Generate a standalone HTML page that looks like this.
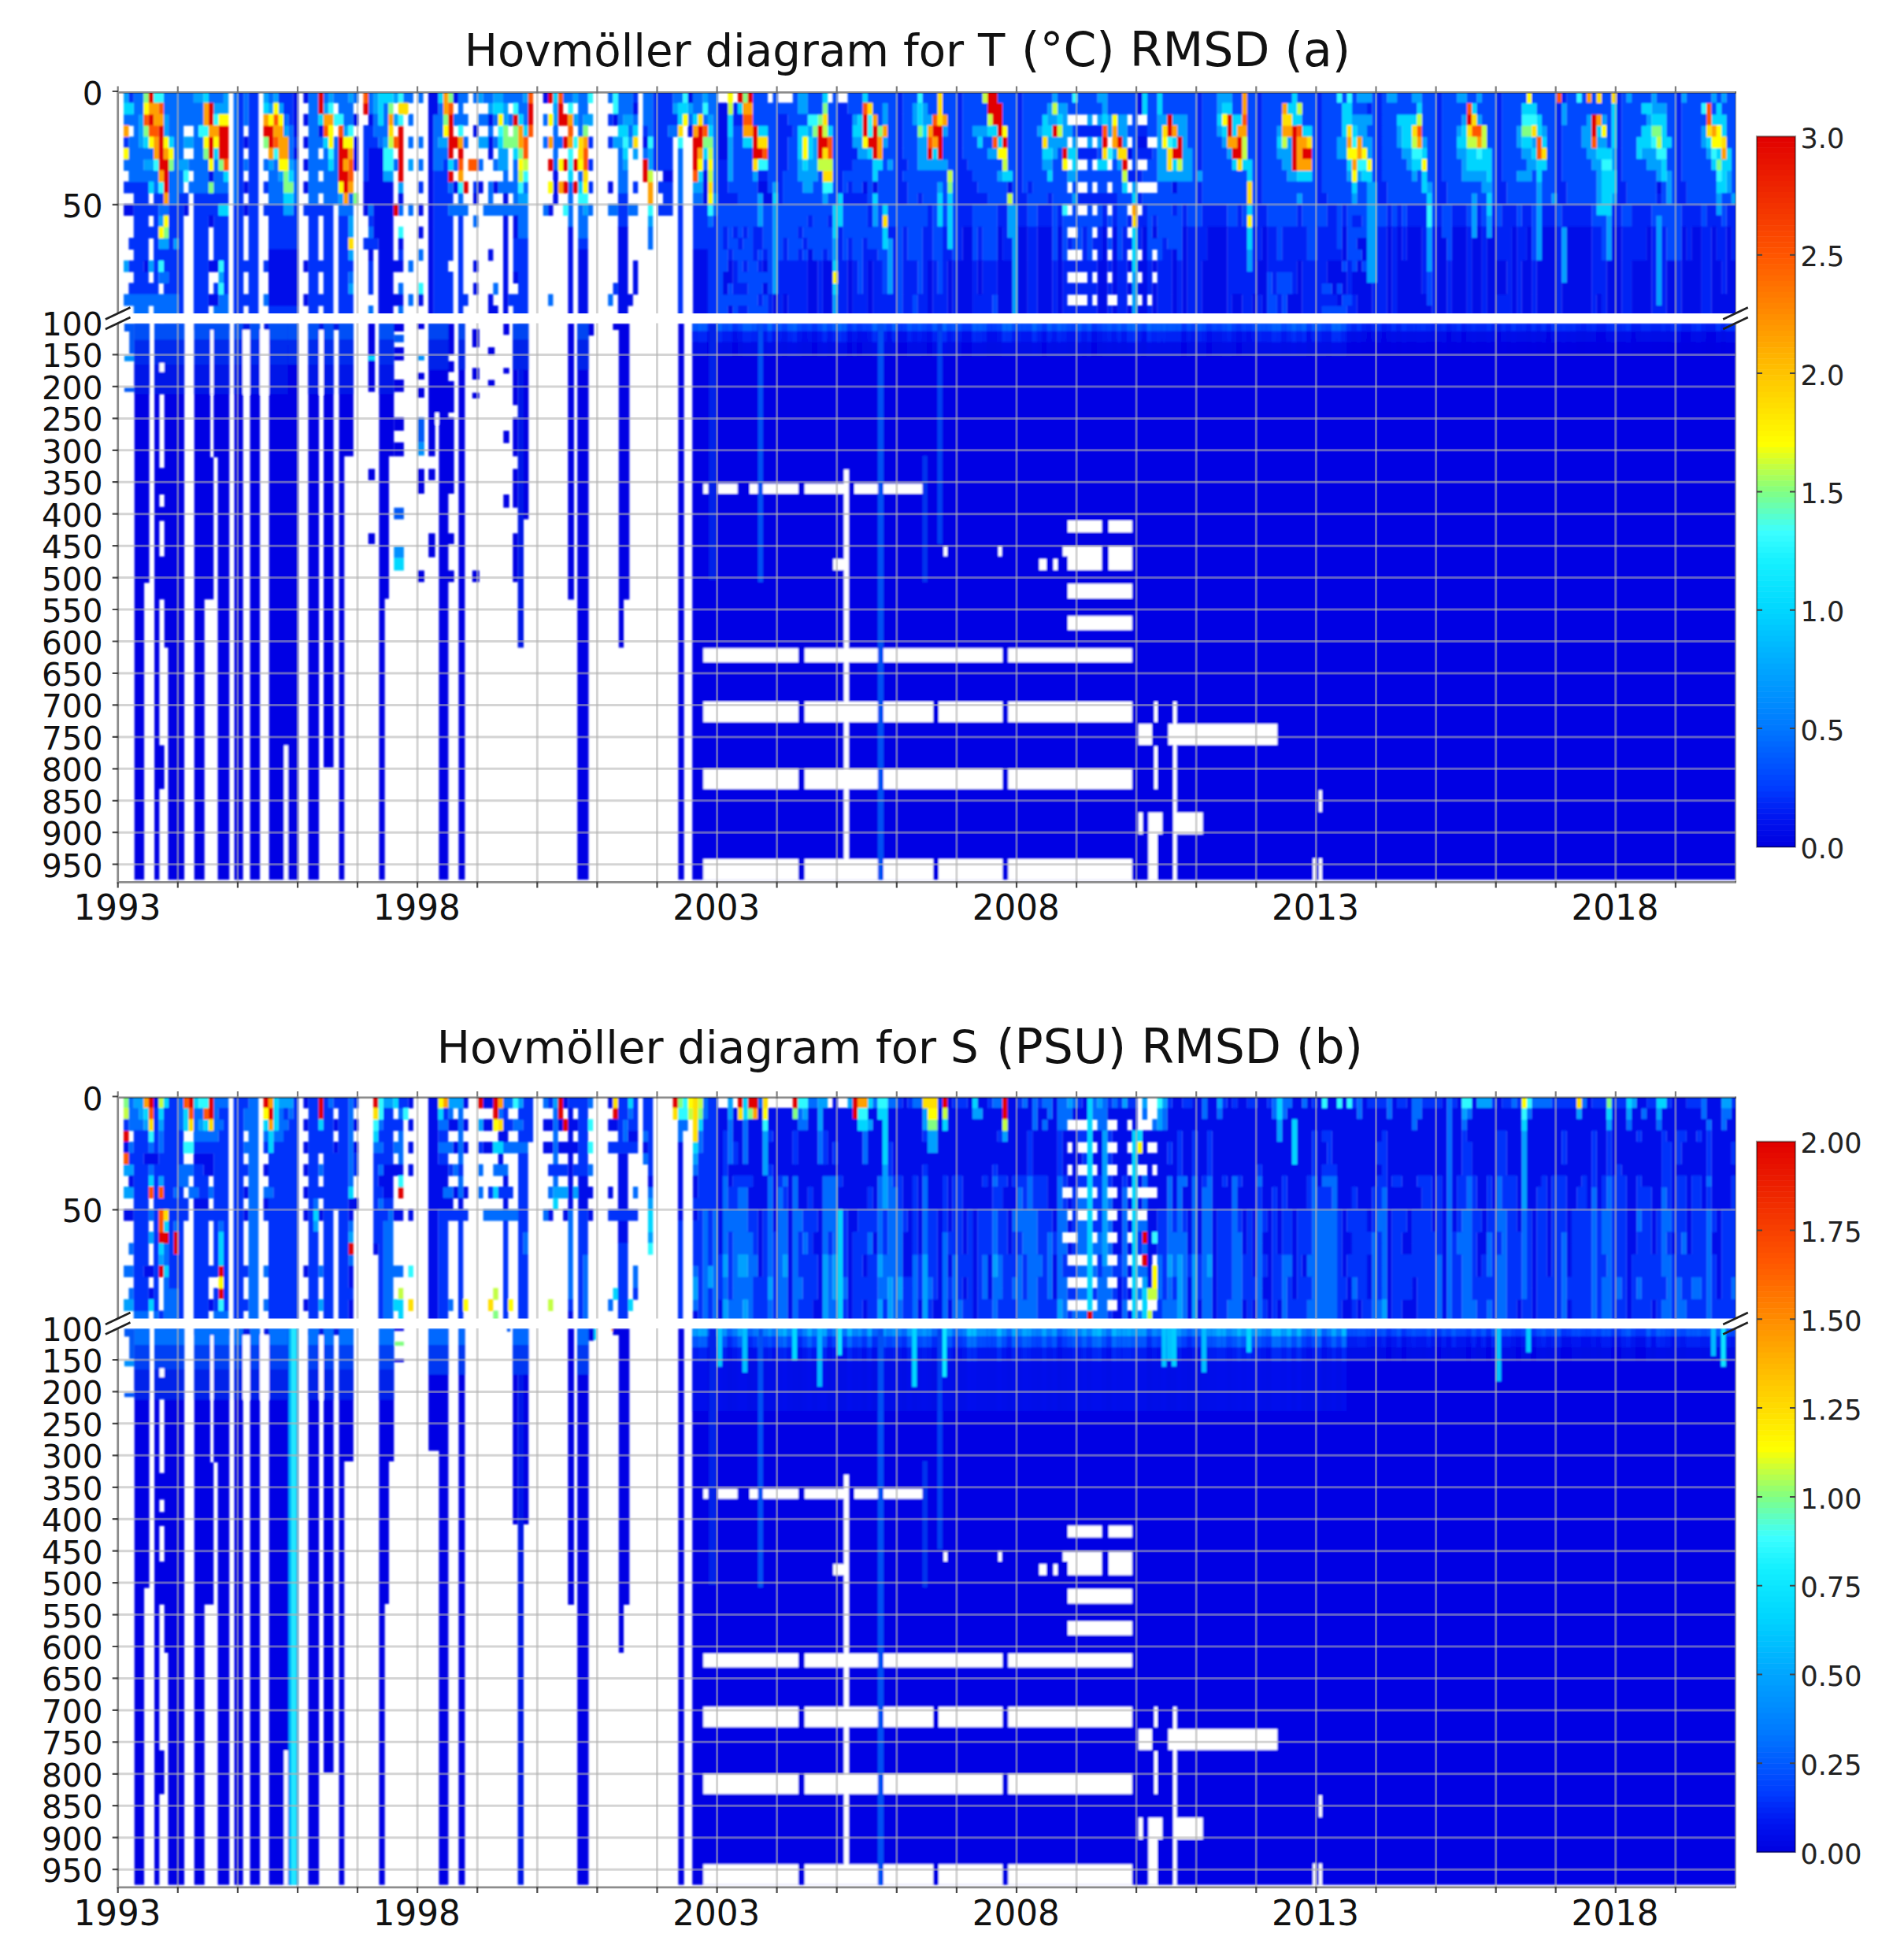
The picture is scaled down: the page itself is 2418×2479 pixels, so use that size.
<!DOCTYPE html><html><head><meta charset="utf-8"><title>Hovmöller diagrams</title>
<style>html,body{margin:0;padding:0;background:#fff}svg{display:block}</style></head><body>
<svg width="2418" height="2479" viewBox="0 0 2418 2479">
<rect width="2418" height="2479" fill="#fff"/>
<defs><filter id="bl" x="-2%" y="-2%" width="104%" height="104%"><feGaussianBlur stdDeviation="1.0"/></filter>
<clipPath id="ct0"><rect x="149.7" y="116" width="2054.3" height="282"/></clipPath>
<clipPath id="cl0"><rect x="149.7" y="410.5" width="2054.3" height="709.9"/></clipPath>
<clipPath id="ct1"><rect x="149.7" y="1392.5" width="2054.3" height="282"/></clipPath>
<clipPath id="cl1"><rect x="149.7" y="1687" width="2054.3" height="709.9"/></clipPath>
</defs>
<g clip-path="url(#ct0)"><g filter="url(#bl)">
<g transform="translate(157.10,116.50) scale(6.3410,14.300)" fill="none" stroke-width="1.04">
<path stroke="#00a0ff" d="M0 0.5h1M14 0.5h2M20 0.5h1M28 0.5h1M30 0.5h1M41 0.5h1M45 0.5h1M50 0.5h1M54 0.5h1M71 0.5h1M74 0.5h2M80 0.5h1M90 0.5h1M116 0.5h1M135 0.5h2M186 0.5h1M195 0.5h2M219 0.5h3M247 0.5h3M253 0.5h2M258 0.5h2M267 0.5h2M271 0.5h1M301 0.5h1M306 0.5h1M312 0.5h1M318 0.5h1M320 0.5h1M18 1.5h3M29 1.5h1M31 1.5h1M40 1.5h1M50 1.5h1M73 1.5h1M76 1.5h1M86 1.5h1M110 1.5h1M113 1.5h1M135 1.5h2M152 1.5h1M158 1.5h1M160 1.5h1M185 1.5h1M187 1.5h2M196 1.5h1M219 1.5h1M288 1.5h1M306 1.5h3M3 2.5h1M8 2.5h1M54 2.5h1M76 2.5h1M86 2.5h1M90 2.5h1M92 2.5h2M100 2.5h2M117 2.5h1M146 2.5h1M152 2.5h1M158 2.5h1M160 2.5h2M185 2.5h2M188 2.5h1M193 2.5h1M195 2.5h1M197 2.5h1M199 2.5h2M207 2.5h2M210 2.5h3M246 2.5h4M268 2.5h1M271 2.5h1M288 2.5h1M293 2.5h1M296 2.5h1M305 2.5h1M3 3.5h1M8 3.5h1M32 3.5h1M44 3.5h1M137 3.5h1M164 3.5h1M170 3.5h3M183 3.5h1M188 3.5h2M197 3.5h1M199 3.5h2M207 3.5h1M211 3.5h2M219 3.5h1M231 3.5h1M247 3.5h2M255 3.5h1M267 3.5h1M279 3.5h1M284 3.5h1M292 3.5h2M316 3.5h1M3 4.5h1M12 4.5h2M52 4.5h1M63 4.5h2M71 4.5h2M98 4.5h2M101 4.5h1M121 4.5h1M138 4.5h1M146 4.5h2M152 4.5h1M159 4.5h2M185 4.5h4M190 4.5h1M193 4.5h1M195 4.5h1M200 4.5h1M207 4.5h1M212 4.5h1M220 4.5h1M233 4.5h1M243 4.5h2M248 4.5h2M255 4.5h1M260 4.5h1M279 4.5h1M282 4.5h1M292 4.5h2M295 4.5h2M316 4.5h1M75 5.5h2M102 5.5h1M105 5.5h1M121 5.5h1M138 5.5h1M147 5.5h2M159 5.5h2M173 5.5h2M186 5.5h1M198 5.5h1M207 5.5h2M212 5.5h2M221 5.5h1M231 5.5h3M243 5.5h2M249 5.5h1M256 5.5h2M267 5.5h2M280 5.5h2M293 5.5h2M298 5.5h1M304 5.5h3M317 5.5h1M4 6.5h2M11 6.5h2M29 6.5h1M33 6.5h1M57 6.5h1M75 6.5h2M100 6.5h1M105 6.5h1M121 6.5h1M135 6.5h1M137 6.5h2M153 6.5h1M159 6.5h6M184 6.5h2M199 6.5h1M207 6.5h2M212 6.5h2M232 6.5h2M257 6.5h1M268 6.5h1M281 6.5h2M294 6.5h2M298 6.5h1M305 6.5h3M31 7.5h1M52 7.5h2M121 7.5h1M126 7.5h1M135 7.5h4M175 7.5h1M189 7.5h2M207 7.5h7M215 7.5h1M233 7.5h2M245 7.5h1M247 7.5h1M258 7.5h1M268 7.5h5M279 7.5h3M295 7.5h1M307 7.5h1M309 7.5h1M321 7.5h1M55 8.5h1M114 8.5h2M130 8.5h1M136 8.5h2M163 8.5h1M202 8.5h1M249 8.5h2M261 8.5h1M272 8.5h2M283 8.5h1M295 8.5h1M309 8.5h1M321 8.5h1M43 9.5h1M79 9.5h2M118 9.5h1M127 9.5h1M140 9.5h1M190 9.5h1M235 9.5h1M246 9.5h1M249 9.5h2M270 9.5h1M283 9.5h1M286 9.5h1M295 9.5h1M298 9.5h1M309 9.5h1M319 9.5h1M322 9.5h1M32 10.5h2M92 10.5h1M127 10.5h1M130 10.5h1M150 10.5h1M177 10.5h2M249 10.5h2M270 10.5h1M283 10.5h1M319 10.5h1M7 11.5h1M45 11.5h1M105 11.5h1M127 11.5h1M130 11.5h1M150 11.5h1M177 11.5h2M249 11.5h2M270 11.5h1M273 11.5h1M283 11.5h1M297 11.5h1M307 11.5h1M45 12.5h1M130 12.5h1M177 12.5h2M249 12.5h2M261 12.5h1M270 12.5h1M273 12.5h1M283 12.5h1M288 12.5h1M297 12.5h1M307 12.5h1M7 13.5h2M10 13.5h1M130 13.5h1M142 13.5h1M153 13.5h1M178 13.5h1M249 13.5h2M261 13.5h1M283 13.5h1M288 13.5h1M297 13.5h1M307 13.5h1M45 14.5h1M130 14.5h1M142 14.5h1M153 14.5h1M178 14.5h1M225 14.5h1M249 14.5h2M261 14.5h1M283 14.5h1M288 14.5h1M297 14.5h1M307 14.5h1M0 15.5h1M5 15.5h1M130 15.5h1M153 15.5h1M178 15.5h1M225 15.5h1M249 15.5h2M261 15.5h1M288 15.5h1M307 15.5h1M19 16.5h1M130 16.5h1M153 16.5h1M178 16.5h1M202 16.5h1M249 16.5h2M288 16.5h1M307 16.5h1M45 17.5h1M130 17.5h1M153 17.5h1M178 17.5h1M202 17.5h1M307 17.5h1M142 18.5h1M178 18.5h1M202 18.5h1M307 18.5h1M142 19.5h1M178 19.5h1M202 19.5h1"/>
<path stroke="#0030fa" d="M1 0.5h1M23 0.5h1M25 0.5h2M31 0.5h3M102 0.5h1M106 0.5h4M23 1.5h1M25 1.5h2M32 1.5h2M106 1.5h4M23 2.5h1M25 2.5h2M33 2.5h1M97 2.5h1M106 2.5h5M23 3.5h1M25 3.5h2M48 3.5h2M104 3.5h1M106 3.5h3M0 4.5h1M23 4.5h1M25 4.5h2M34 4.5h1M48 4.5h3M93 4.5h1M97 4.5h1M106 4.5h4M23 5.5h1M25 5.5h2M48 5.5h1M106 5.5h4M23 6.5h1M25 6.5h2M48 6.5h1M64 6.5h1M93 6.5h1M106 6.5h4M23 7.5h1M25 7.5h2M48 7.5h1M62 7.5h3M0 8.5h5M23 8.5h1M25 8.5h2M28 8.5h1M59 8.5h1M62 8.5h3M70 8.5h1M93 8.5h1M102 8.5h1M107 8.5h3M2 9.5h3M6 9.5h2M11 9.5h2M14 9.5h7M23 9.5h1M25 9.5h2M62 9.5h4M99 9.5h2M108 9.5h2M2 10.5h5M9 10.5h3M14 10.5h5M22 10.5h2M25 10.5h2M28 10.5h4M34 10.5h1M36 10.5h6M62 10.5h3M99 10.5h2M107 10.5h3M111 10.5h1M114 10.5h3M2 11.5h3M6 11.5h1M9 11.5h3M14 11.5h3M18 11.5h3M22 11.5h2M25 11.5h2M29 11.5h6M37 11.5h2M40 11.5h2M43 11.5h2M49 11.5h1M62 11.5h4M67 11.5h1M99 11.5h2M111 11.5h1M114 11.5h3M118 11.5h1M2 12.5h5M9 12.5h3M14 12.5h3M18 12.5h3M22 12.5h2M25 12.5h2M29 12.5h6M37 12.5h2M40 12.5h2M43 12.5h2M62 12.5h4M67 12.5h1M111 12.5h1M114 12.5h5M1 13.5h4M6 13.5h1M9 13.5h1M11 13.5h1M14 13.5h3M18 13.5h3M22 13.5h2M25 13.5h2M29 13.5h6M37 13.5h2M40 13.5h2M43 13.5h2M48 13.5h3M62 13.5h4M67 13.5h1M78 13.5h3M91 13.5h2M111 13.5h1M114 13.5h5M2 14.5h3M6 14.5h6M14 14.5h3M18 14.5h3M22 14.5h2M25 14.5h2M37 14.5h2M40 14.5h2M43 14.5h2M55 14.5h1M62 14.5h4M67 14.5h1M78 14.5h3M111 14.5h1M117 14.5h2M1 15.5h3M6 15.5h1M8 15.5h4M14 15.5h3M20 15.5h1M22 15.5h5M28 15.5h1M37 15.5h5M43 15.5h3M49 15.5h1M62 15.5h3M67 15.5h1M78 15.5h3M111 15.5h1M117 15.5h2M2 16.5h3M6 16.5h1M9 16.5h3M14 16.5h3M20 16.5h1M22 16.5h2M25 16.5h2M37 16.5h2M40 16.5h2M43 16.5h2M49 16.5h1M62 16.5h4M67 16.5h1M79 16.5h2M111 16.5h1M117 16.5h2M1 17.5h6M8 17.5h4M14 17.5h3M18 17.5h1M20 17.5h1M22 17.5h2M25 17.5h2M37 17.5h2M40 17.5h2M43 17.5h2M49 17.5h1M62 17.5h4M67 17.5h1M79 17.5h2M98 17.5h1M111 17.5h1M117 17.5h2M11 18.5h1M14 18.5h3M22 18.5h5M37 18.5h5M43 18.5h3M62 18.5h4M67 18.5h2M77 18.5h4M111 18.5h1M117 18.5h2M11 19.5h1M14 19.5h3M22 19.5h2M25 19.5h2M29 19.5h6M37 19.5h2M40 19.5h2M43 19.5h3M62 19.5h4M67 19.5h1M78 19.5h3M111 19.5h1M117 19.5h2"/>
<path stroke="#006cff" d="M2 0.5h2M8 0.5h6M17 0.5h3M22 0.5h1M24 0.5h1M29 0.5h1M37 0.5h2M40 0.5h1M42 0.5h3M46 0.5h1M49 0.5h1M56 0.5h2M59 0.5h1M67 0.5h2M70 0.5h1M72 0.5h2M76 0.5h4M88 0.5h2M91 0.5h2M97 0.5h1M99 0.5h3M104 0.5h2M110 0.5h2M114 0.5h2M117 0.5h2M2 1.5h2M8 1.5h8M22 1.5h1M24 1.5h1M37 1.5h2M43 1.5h3M49 1.5h1M52 1.5h1M63 1.5h1M67 1.5h1M79 1.5h2M91 1.5h2M99 1.5h3M104 1.5h2M114 1.5h2M117 1.5h2M0 2.5h3M9 2.5h7M22 2.5h1M24 2.5h1M32 2.5h1M37 2.5h2M44 2.5h2M50 2.5h1M52 2.5h1M57 2.5h1M62 2.5h2M66 2.5h3M71 2.5h2M74 2.5h1M77 2.5h1M80 2.5h1M84 2.5h1M91 2.5h1M99 2.5h1M102 2.5h1M104 2.5h2M113 2.5h1M116 2.5h1M118 2.5h1M2 3.5h1M9 3.5h3M14 3.5h1M22 3.5h1M33 3.5h1M37 3.5h2M50 3.5h3M62 3.5h2M73 3.5h1M86 3.5h1M91 3.5h1M101 3.5h1M105 3.5h1M109 3.5h2M118 3.5h1M1 4.5h2M10 4.5h2M14 4.5h2M22 4.5h1M33 4.5h1M37 4.5h3M42 4.5h1M51 4.5h1M57 4.5h1M59 4.5h1M62 4.5h1M68 4.5h1M74 4.5h1M84 4.5h1M86 4.5h2M118 4.5h1M1 5.5h5M10 5.5h2M14 5.5h2M22 5.5h1M33 5.5h1M37 5.5h2M40 5.5h1M42 5.5h1M62 5.5h3M86 5.5h1M99 5.5h1M104 5.5h1M111 5.5h1M118 5.5h1M0 6.5h4M10 6.5h1M13 6.5h4M18 6.5h1M22 6.5h1M24 6.5h1M28 6.5h1M30 6.5h1M34 6.5h1M37 6.5h4M42 6.5h1M54 6.5h1M59 6.5h1M62 6.5h2M66 6.5h1M71 6.5h1M74 6.5h1M78 6.5h1M86 6.5h1M99 6.5h1M111 6.5h1M116 6.5h1M118 6.5h1M1 7.5h6M9 7.5h3M14 7.5h3M18 7.5h2M22 7.5h1M29 7.5h2M34 7.5h1M37 7.5h2M40 7.5h3M76 7.5h1M78 7.5h1M91 7.5h1M99 7.5h2M111 7.5h1M118 7.5h1M6 8.5h1M9 8.5h3M13 8.5h4M18 8.5h3M22 8.5h1M29 8.5h3M34 8.5h1M37 8.5h6M65 8.5h1M73 8.5h1M75 8.5h4M80 8.5h1M89 8.5h1M99 8.5h2M111 8.5h1M118 8.5h1M9 9.5h2M22 9.5h1M29 9.5h3M34 9.5h1M37 9.5h2M40 9.5h3M45 9.5h1M67 9.5h1M73 9.5h1M78 9.5h1M89 9.5h1M111 9.5h1M114 9.5h2M7 10.5h2M43 10.5h3M49 10.5h1M55 10.5h1M57 10.5h1M65 10.5h4M72 10.5h9M84 10.5h1M89 10.5h1M91 10.5h1M93 10.5h1M97 10.5h2M101 10.5h2M118 10.5h1M70 11.5h1M79 11.5h2M89 11.5h1M91 11.5h2M117 11.5h1M49 12.5h1M79 12.5h2M91 12.5h2M105 12.5h1M105 13.5h1M59 14.5h1M57 15.5h1M7 16.5h2M45 16.5h1M55 17.5h1M74 17.5h1M0 18.5h11M19 18.5h2M28 18.5h1M57 18.5h1M85 18.5h1M97 18.5h1M2 19.5h3M6 19.5h5M18 19.5h3M49 19.5h1M55 19.5h1"/>
<path stroke="#82ff82" d="M4 0.5h1M65 0.5h1M124 0.5h1M53 1.5h1M140 1.5h1M64 2.5h1M139 2.5h1M4 3.5h1M76 3.5h1M78 3.5h1M92 3.5h1M138 3.5h1M151 3.5h1M159 3.5h1M280 3.5h2M306 3.5h2M28 4.5h1M76 4.5h3M116 4.5h2M16 5.5h1M79 5.5h1M9 6.5h1M19 6.5h1M319 6.5h1M32 7.5h1M17 8.5h1M32 8.5h2M165 8.5h1M46 9.5h1M8 12.5h1"/>
<path stroke="#e10000" d="M5 0.5h1M39 0.5h1M85 0.5h1M123 0.5h1M125 0.5h1M173 0.5h2M17 1.5h1M39 1.5h1M48 1.5h1M81 1.5h1M87 1.5h1M173 1.5h3M5 2.5h1M17 2.5h1M65 2.5h1M78 2.5h1M81 2.5h1M87 2.5h2M148 2.5h1M174 2.5h2M209 2.5h1M221 2.5h1M269 2.5h1M294 2.5h1M7 3.5h1M19 3.5h2M28 3.5h2M55 3.5h1M65 3.5h1M115 3.5h1M126 3.5h1M139 3.5h1M148 3.5h1M150 3.5h1M162 3.5h2M175 3.5h1M186 3.5h1M209 3.5h1M221 3.5h1M234 3.5h1M294 3.5h1M7 4.5h1M17 4.5h1M19 4.5h2M29 4.5h1M43 4.5h1M55 4.5h1M65 4.5h2M88 4.5h1M114 4.5h2M126 4.5h1M139 4.5h2M149 4.5h2M163 4.5h1M176 4.5h1M196 4.5h1M199 4.5h1M211 4.5h1M223 4.5h1M234 4.5h1M7 5.5h1M17 5.5h1M19 5.5h2M43 5.5h2M55 5.5h1M65 5.5h1M67 5.5h1M114 5.5h1M126 5.5h2M139 5.5h1M150 5.5h1M161 5.5h1M163 5.5h1M188 5.5h1M210 5.5h2M222 5.5h2M234 5.5h1M236 5.5h2M7 6.5h2M43 6.5h1M55 6.5h1M85 6.5h1M88 6.5h1M90 6.5h1M104 6.5h1M114 6.5h1M200 6.5h1M234 6.5h1M8 7.5h1M43 7.5h2M55 7.5h1M65 7.5h1M104 7.5h1M8 8.5h1M44 8.5h1M68 8.5h1M88 8.5h1M90 8.5h1M54 10.5h1"/>
<path stroke="#2ffaff" d="M6 0.5h2M55 0.5h1M93 0.5h1M98 0.5h1M112 0.5h1M159 0.5h1M190 0.5h1M243 0.5h1M245 0.5h1M291 0.5h1M41 1.5h1M78 1.5h1M89 1.5h1M98 1.5h1M116 1.5h1M316 1.5h1M18 2.5h1M42 2.5h2M55 2.5h1M137 2.5h2M149 2.5h1M280 2.5h3M15 3.5h2M45 3.5h1M67 3.5h1M75 3.5h1M149 3.5h1M90 4.5h1M100 4.5h1M105 4.5h1M111 4.5h1M209 4.5h1M246 4.5h1M306 4.5h1M30 5.5h1M41 5.5h1M52 5.5h2M89 5.5h1M197 5.5h1M258 5.5h2M271 5.5h1M307 5.5h2M318 5.5h1M6 6.5h1M52 6.5h2M89 6.5h1M127 6.5h2M247 6.5h2M296 6.5h2M12 7.5h1M80 7.5h1M319 7.5h1M7 8.5h1M67 8.5h1M79 8.5h1M140 8.5h2M91 9.5h2M88 10.5h1M105 10.5h1M117 10.5h1M188 10.5h1M261 10.5h1M261 11.5h1M55 12.5h1M7 15.5h1M19 15.5h1M19 17.5h1M59 17.5h1"/>
<path stroke="#00d5ff" d="M16 0.5h1M51 0.5h3M63 0.5h1M86 0.5h1M140 0.5h1M148 0.5h1M204 0.5h1M207 0.5h1M234 0.5h1M0 1.5h2M28 1.5h1M51 1.5h1M74 1.5h2M111 1.5h2M123 1.5h1M159 1.5h1M204 1.5h1M207 1.5h1M220 1.5h2M233 1.5h2M244 1.5h2M259 1.5h1M270 1.5h1M280 1.5h3M298 1.5h1M304 1.5h2M319 1.5h1M39 2.5h1M51 2.5h1M79 2.5h1M111 2.5h1M114 2.5h1M121 2.5h1M147 2.5h1M159 2.5h1M184 2.5h1M187 2.5h1M196 2.5h1M219 2.5h1M222 2.5h2M234 2.5h2M244 2.5h2M255 2.5h4M283 2.5h1M298 2.5h1M306 2.5h3M318 2.5h3M80 3.5h1M99 3.5h2M102 3.5h1M117 3.5h1M121 3.5h1M127 3.5h2M135 3.5h2M141 3.5h1M146 3.5h2M160 3.5h1M173 3.5h2M184 3.5h2M220 3.5h1M222 3.5h1M236 3.5h2M244 3.5h1M246 3.5h1M256 3.5h2M268 3.5h1M283 3.5h1M295 3.5h1M298 3.5h1M304 3.5h2M308 3.5h1M320 3.5h1M4 4.5h1M9 4.5h1M40 4.5h1M75 4.5h1M124 4.5h2M135 4.5h1M137 4.5h1M171 4.5h1M175 4.5h1M210 4.5h1M231 4.5h1M256 4.5h2M267 4.5h2M280 4.5h2M284 4.5h1M298 4.5h1M303 4.5h3M308 4.5h2M317 4.5h1M18 5.5h1M78 5.5h1M100 5.5h1M116 5.5h1M135 5.5h1M137 5.5h1M149 5.5h1M162 5.5h1M184 5.5h2M189 5.5h2M260 5.5h1M269 5.5h2M272 5.5h2M282 5.5h1M295 5.5h3M303 5.5h1M319 5.5h1M321 5.5h1M41 6.5h1M65 6.5h1M136 6.5h1M150 6.5h2M190 6.5h1M195 6.5h2M210 6.5h1M222 6.5h1M224 6.5h2M245 6.5h1M258 6.5h2M269 6.5h5M283 6.5h2M308 6.5h1M318 6.5h1M320 6.5h2M20 7.5h1M33 7.5h1M89 7.5h1M115 7.5h1M150 7.5h1M176 7.5h2M185 7.5h1M225 7.5h1M235 7.5h3M248 7.5h2M260 7.5h1M273 7.5h1M283 7.5h1M296 7.5h3M308 7.5h1M320 7.5h1M5 8.5h1M91 8.5h1M200 8.5h1M246 8.5h1M260 8.5h1M296 8.5h3M319 8.5h2M32 9.5h2M130 9.5h1M143 9.5h1M150 9.5h1M163 9.5h1M165 9.5h1M202 9.5h1M261 9.5h1M273 9.5h1M296 9.5h2M19 10.5h2M142 10.5h2M152 10.5h1M163 10.5h1M165 10.5h1M225 10.5h1M273 10.5h1M295 10.5h3M142 11.5h2M163 11.5h1M165 11.5h1M142 12.5h1M152 12.5h1M165 12.5h1M202 12.5h1M225 12.5h1M152 13.5h1M165 13.5h1M202 13.5h1M225 13.5h1M202 14.5h1M142 15.5h1M202 15.5h1M142 17.5h1"/>
<path stroke="#000cea" d="M34 0.5h1M36 0.5h1M61 0.5h2M66 0.5h1M84 0.5h1M113 0.5h1M34 1.5h1M61 1.5h2M102 1.5h1M34 2.5h1M36 2.5h1M46 2.5h1M49 2.5h1M61 2.5h1M73 2.5h1M98 2.5h1M34 3.5h1M39 3.5h1M61 3.5h1M70 3.5h1M113 3.5h1M24 4.5h1M36 4.5h1M46 4.5h1M61 4.5h1M73 4.5h1M104 4.5h1M34 5.5h1M46 5.5h1M49 5.5h3M61 5.5h1M73 5.5h1M36 6.5h1M46 6.5h1M49 6.5h3M61 6.5h1M17 7.5h1M49 7.5h3M61 7.5h1M86 7.5h1M108 7.5h2M116 7.5h1M24 8.5h1M36 8.5h1M48 8.5h6M61 8.5h1M66 8.5h1M71 8.5h1M74 8.5h1M86 8.5h1M97 8.5h1M116 8.5h1M48 9.5h6M55 9.5h1M61 9.5h1M70 9.5h1M76 9.5h1M86 9.5h1M116 9.5h1M0 10.5h2M12 10.5h1M24 10.5h1M48 10.5h1M50 10.5h4M59 10.5h1M61 10.5h1M85 10.5h1M17 11.5h1M50 11.5h4M61 11.5h1M76 11.5h1M78 11.5h1M50 12.5h4M59 12.5h1M61 12.5h1M76 12.5h1M78 12.5h1M89 12.5h1M99 12.5h2M51 13.5h3M55 13.5h1M61 13.5h1M76 13.5h1M89 13.5h1M99 13.5h2M29 14.5h6M49 14.5h1M51 14.5h3M61 14.5h1M73 14.5h1M76 14.5h1M89 14.5h1M91 14.5h2M99 14.5h2M114 14.5h3M4 15.5h1M17 15.5h2M29 15.5h6M36 15.5h1M51 15.5h5M61 15.5h1M70 15.5h1M76 15.5h1M89 15.5h1M91 15.5h2M99 15.5h2M102 15.5h1M114 15.5h3M29 16.5h6M51 16.5h3M61 16.5h1M76 16.5h1M78 16.5h1M89 16.5h1M91 16.5h2M99 16.5h2M102 16.5h1M114 16.5h3M29 17.5h6M51 17.5h3M61 17.5h1M70 17.5h1M76 17.5h1M89 17.5h1M91 17.5h2M99 17.5h2M102 17.5h1M114 17.5h3M17 18.5h2M29 18.5h6M36 18.5h1M51 18.5h5M59 18.5h1M61 18.5h1M73 18.5h1M76 18.5h1M89 18.5h1M91 18.5h2M99 18.5h3M114 18.5h3M51 19.5h3M61 19.5h1M73 19.5h2M76 19.5h1M89 19.5h1M91 19.5h2M99 19.5h2M114 19.5h3"/>
<path stroke="#ff5700" d="M48 0.5h1M81 0.5h1M87 0.5h1M287 0.5h1M7 1.5h1M65 1.5h1M148 1.5h1M269 1.5h1M317 1.5h1M4 2.5h1M30 2.5h1M124 2.5h2M162 2.5h1M224 2.5h1M317 2.5h1M5 3.5h2M40 3.5h1M43 3.5h1M81 3.5h1M89 3.5h1M116 3.5h1M196 3.5h1M235 3.5h1M259 3.5h1M270 3.5h2M30 4.5h1M54 4.5h1M80 4.5h1M141 4.5h1M161 4.5h1M174 4.5h1M283 4.5h1M294 4.5h1M80 5.5h1M92 5.5h1M128 5.5h1M141 5.5h1M283 5.5h1M20 6.5h1M45 6.5h1M67 6.5h1M69 6.5h2M92 6.5h1M45 7.5h1M114 7.5h1"/>
<path stroke="#ffa000" d="M64 0.5h1M224 0.5h1M293 0.5h1M5 1.5h2M16 1.5h1M64 1.5h1M124 1.5h2M224 1.5h1M232 1.5h1M6 2.5h2M16 2.5h1M28 2.5h1M40 2.5h2M53 2.5h1M89 2.5h1M150 2.5h1M164 2.5h1M295 2.5h1M0 3.5h1M17 3.5h2M30 3.5h2M79 3.5h1M114 3.5h1M124 3.5h2M152 3.5h1M161 3.5h1M198 3.5h1M210 3.5h1M223 3.5h2M232 3.5h2M318 3.5h1M6 4.5h1M31 4.5h2M67 4.5h1M79 4.5h1M85 4.5h1M89 4.5h1M92 4.5h1M151 4.5h1M162 4.5h1M198 4.5h1M221 4.5h2M235 4.5h2M245 4.5h1M247 4.5h1M259 4.5h1M271 4.5h1M6 5.5h1M8 5.5h1M29 5.5h1M31 5.5h2M45 5.5h1M115 5.5h1M151 5.5h1M235 5.5h1M247 5.5h1M320 5.5h1M44 6.5h1M235 6.5h3M246 6.5h1M7 7.5h1M67 7.5h1M45 8.5h1M87 8.5h1M105 8.5h1M8 9.5h1M44 9.5h1M105 9.5h1M202 10.5h1"/>
<path stroke="#ffff00" d="M121 0.5h1M281 0.5h1M4 1.5h1M30 1.5h1M19 2.5h2M29 2.5h1M31 2.5h1M75 2.5h1M85 2.5h1M112 2.5h1M198 2.5h1M220 2.5h1M41 3.5h1M64 3.5h1M176 3.5h1M296 3.5h1M319 3.5h1M5 4.5h1M8 4.5h1M16 4.5h1M18 4.5h1M41 4.5h1M44 4.5h2M136 4.5h1M148 4.5h1M208 4.5h1M318 4.5h2M0 5.5h1M9 5.5h1M136 5.5h1M175 5.5h2M245 5.5h2M248 5.5h1M17 6.5h1M31 6.5h2M79 6.5h1M87 6.5h1M91 6.5h1M115 6.5h1M117 6.5h1M188 6.5h1M249 6.5h1M260 6.5h1M246 7.5h1M43 8.5h1M85 8.5h1M92 8.5h1M117 9.5h1M8 11.5h1M225 11.5h1M7 12.5h1M142 16.5h1"/>
<path stroke="#0048ff" d="M126 0.5h3M130 0.5h1M134 0.5h1M137 0.5h3M142 0.5h1M145 0.5h3M149 0.5h6M156 0.5h3M160 0.5h3M164 0.5h3M168 0.5h4M175 0.5h4M180 0.5h6M187 0.5h3M191 0.5h4M197 0.5h6M205 0.5h2M208 0.5h7M216 0.5h3M222 0.5h2M225 0.5h2M228 0.5h6M235 0.5h4M240 0.5h3M244 0.5h1M246 0.5h1M250 0.5h1M252 0.5h1M255 0.5h3M260 0.5h3M264 0.5h3M269 0.5h2M272 0.5h3M276 0.5h5M282 0.5h5M289 0.5h2M292 0.5h1M294 0.5h1M296 0.5h2M300 0.5h1M302 0.5h4M307 0.5h4M313 0.5h5M319 0.5h1M321 0.5h2M126 1.5h9M137 1.5h3M141 1.5h2M145 1.5h3M150 1.5h2M153 1.5h2M156 1.5h2M161 1.5h2M164 1.5h3M168 1.5h5M176 1.5h3M180 1.5h5M189 1.5h7M197 1.5h6M205 1.5h2M208 1.5h7M216 1.5h3M222 1.5h2M225 1.5h2M228 1.5h4M236 1.5h3M240 1.5h4M246 1.5h3M250 1.5h1M252 1.5h7M260 1.5h3M264 1.5h5M271 1.5h4M276 1.5h4M283 1.5h4M289 1.5h9M300 1.5h4M309 1.5h2M312 1.5h4M318 1.5h1M320 1.5h3M126 2.5h5M133 2.5h4M141 2.5h2M151 2.5h1M153 2.5h2M156 2.5h2M165 2.5h2M168 2.5h5M176 2.5h3M180 2.5h4M202 2.5h1M205 2.5h2M213 2.5h2M216 2.5h3M225 2.5h2M228 2.5h4M236 2.5h3M240 2.5h4M250 2.5h1M252 2.5h3M260 2.5h3M264 2.5h4M272 2.5h3M276 2.5h4M284 2.5h3M289 2.5h4M297 2.5h1M300 2.5h5M309 2.5h2M312 2.5h5M321 2.5h2M122 3.5h2M129 3.5h2M134 3.5h1M142 3.5h1M153 3.5h2M156 3.5h3M165 3.5h2M168 3.5h2M177 3.5h2M180 3.5h3M190 3.5h1M201 3.5h2M205 3.5h2M213 3.5h2M216 3.5h3M225 3.5h2M228 3.5h3M238 3.5h1M240 3.5h4M249 3.5h2M252 3.5h3M260 3.5h3M264 3.5h3M273 3.5h2M276 3.5h3M285 3.5h2M288 3.5h4M297 3.5h1M300 3.5h4M309 3.5h2M312 3.5h4M321 3.5h2M122 4.5h2M129 4.5h2M133 4.5h2M142 4.5h1M153 4.5h2M156 4.5h3M164 4.5h3M168 4.5h3M172 4.5h2M177 4.5h2M180 4.5h4M202 4.5h1M213 4.5h2M216 4.5h4M225 4.5h2M228 4.5h3M238 4.5h1M240 4.5h3M250 4.5h1M252 4.5h3M261 4.5h2M264 4.5h3M273 4.5h2M276 4.5h3M285 4.5h2M288 4.5h4M297 4.5h1M300 4.5h3M310 4.5h1M312 4.5h4M321 4.5h2M122 5.5h4M129 5.5h2M133 5.5h2M142 5.5h1M152 5.5h3M156 5.5h3M164 5.5h3M168 5.5h5M177 5.5h2M180 5.5h4M187 5.5h1M195 5.5h1M202 5.5h1M206 5.5h1M214 5.5h1M216 5.5h5M225 5.5h2M228 5.5h3M238 5.5h1M240 5.5h3M250 5.5h1M252 5.5h4M261 5.5h2M264 5.5h3M274 5.5h1M276 5.5h4M285 5.5h2M288 5.5h5M300 5.5h3M309 5.5h2M312 5.5h5M322 5.5h1M122 6.5h4M129 6.5h2M133 6.5h2M142 6.5h1M146 6.5h4M152 6.5h1M154 6.5h1M157 6.5h2M165 6.5h2M169 6.5h7M177 6.5h2M180 6.5h4M186 6.5h2M193 6.5h1M198 6.5h1M202 6.5h1M205 6.5h2M214 6.5h1M216 6.5h6M226 6.5h1M228 6.5h4M238 6.5h1M240 6.5h5M250 6.5h1M252 6.5h5M261 6.5h2M264 6.5h4M274 6.5h1M276 6.5h5M285 6.5h2M288 6.5h6M300 6.5h5M309 6.5h2M312 6.5h6M322 6.5h1M122 7.5h4M129 7.5h2M132 7.5h3M139 7.5h1M142 7.5h1M144 7.5h6M151 7.5h4M156 7.5h9M166 7.5h1M170 7.5h5M178 7.5h1M180 7.5h5M186 7.5h3M191 7.5h9M204 7.5h3M214 7.5h1M216 7.5h9M226 7.5h1M228 7.5h5M238 7.5h1M240 7.5h5M250 7.5h1M252 7.5h6M259 7.5h1M261 7.5h2M264 7.5h4M274 7.5h1M276 7.5h3M282 7.5h1M284 7.5h3M288 7.5h7M300 7.5h7M310 7.5h1M312 7.5h7M322 7.5h1M121 8.5h6M129 8.5h1M132 8.5h4M138 8.5h2M142 8.5h1M144 8.5h1M146 8.5h2M149 8.5h1M151 8.5h4M157 8.5h6M164 8.5h1M166 8.5h1M171 8.5h6M178 8.5h1M180 8.5h1M182 8.5h7M190 8.5h1M193 8.5h1M195 8.5h2M198 8.5h2M207 8.5h3M211 8.5h4M216 8.5h9M226 8.5h1M228 8.5h11M240 8.5h6M247 8.5h2M253 8.5h7M262 8.5h1M265 8.5h7M274 8.5h1M277 8.5h6M284 8.5h3M289 8.5h6M301 8.5h6M308 8.5h1M310 8.5h1M313 8.5h6M322 8.5h1M123 9.5h4M132 9.5h8M141 9.5h2M149 9.5h1M151 9.5h4M157 9.5h2M160 9.5h3M164 9.5h1M166 9.5h1M173 9.5h4M178 9.5h1M181 9.5h4M186 9.5h4M199 9.5h3M204 9.5h11M216 9.5h9M226 9.5h1M228 9.5h7M236 9.5h3M241 9.5h5M247 9.5h2M253 9.5h8M262 9.5h1M265 9.5h5M271 9.5h2M274 9.5h1M277 9.5h6M284 9.5h2M289 9.5h6M301 9.5h6M308 9.5h1M310 9.5h1M313 9.5h6M320 9.5h2M119 10.5h8M128 10.5h2M131 10.5h11M144 10.5h5M151 10.5h1M153 10.5h8M162 10.5h1M164 10.5h1M166 10.5h1M170 10.5h5M181 10.5h2M186 10.5h1M190 10.5h1M193 10.5h1M195 10.5h1M199 10.5h2M205 10.5h5M211 10.5h1M213 10.5h3M221 10.5h2M224 10.5h1M226 10.5h1M229 10.5h6M236 10.5h5M243 10.5h1M245 10.5h4M251 10.5h2M254 10.5h1M256 10.5h1M262 10.5h1M264 10.5h2M269 10.5h1M272 10.5h1M275 10.5h1M279 10.5h1M282 10.5h1M287 10.5h1M294 10.5h1M300 10.5h2M306 10.5h6M316 10.5h1M320 10.5h1M119 11.5h8M128 11.5h2M131 11.5h6M138 11.5h3M144 11.5h5M151 11.5h1M153 11.5h8M162 11.5h1M164 11.5h1M166 11.5h1M170 11.5h5M181 11.5h2M186 11.5h1M188 11.5h8M197 11.5h1M199 11.5h2M205 11.5h1M207 11.5h5M213 11.5h3M221 11.5h2M224 11.5h1M226 11.5h1M229 11.5h6M236 11.5h5M243 11.5h1M245 11.5h1M248 11.5h1M251 11.5h2M254 11.5h1M256 11.5h1M262 11.5h1M264 11.5h2M269 11.5h1M272 11.5h1M275 11.5h1M279 11.5h1M282 11.5h1M287 11.5h1M294 11.5h3M300 11.5h2M306 11.5h1M308 11.5h4M316 11.5h1M320 11.5h1M119 12.5h1M121 12.5h1M123 12.5h1M125 12.5h1M128 12.5h2M131 12.5h4M136 12.5h6M144 12.5h8M155 12.5h1M157 12.5h3M162 12.5h2M166 12.5h1M170 12.5h1M172 12.5h3M186 12.5h1M188 12.5h1M191 12.5h1M193 12.5h1M199 12.5h1M205 12.5h1M207 12.5h5M231 12.5h1M237 12.5h2M243 12.5h1M245 12.5h4M264 12.5h2M282 12.5h1M296 12.5h1M309 12.5h3M119 13.5h1M121 13.5h2M124 13.5h2M128 13.5h2M131 13.5h1M133 13.5h3M137 13.5h5M144 13.5h1M146 13.5h2M149 13.5h3M155 13.5h1M157 13.5h3M162 13.5h2M166 13.5h1M170 13.5h1M172 13.5h3M186 13.5h1M188 13.5h1M190 13.5h2M193 13.5h1M197 13.5h1M199 13.5h1M205 13.5h3M209 13.5h3M231 13.5h1M237 13.5h2M243 13.5h1M245 13.5h2M265 13.5h1M282 13.5h1M296 13.5h1M309 13.5h3M119 14.5h2M122 14.5h4M127 14.5h1M129 14.5h1M131 14.5h1M133 14.5h2M136 14.5h1M138 14.5h2M141 14.5h1M144 14.5h1M146 14.5h2M151 14.5h2M155 14.5h1M157 14.5h3M162 14.5h2M166 14.5h1M170 14.5h1M172 14.5h3M186 14.5h1M188 14.5h1M193 14.5h1M199 14.5h1M205 14.5h1M207 14.5h1M211 14.5h1M231 14.5h1M237 14.5h2M245 14.5h3M265 14.5h1M282 14.5h1M296 14.5h1M309 14.5h3M119 15.5h2M123 15.5h1M125 15.5h2M129 15.5h1M147 15.5h1M152 15.5h1M155 15.5h1M159 15.5h1M163 15.5h1M244 15.5h1M246 15.5h1M248 15.5h1M119 16.5h1M123 16.5h7M147 16.5h1M152 16.5h1M155 16.5h1M159 16.5h1M163 16.5h1M229 16.5h1M231 16.5h3M261 16.5h1M119 17.5h1M121 17.5h1M125 17.5h3M129 17.5h1M147 17.5h1M152 17.5h1M155 17.5h1M159 17.5h1M163 17.5h1M229 17.5h1M231 17.5h3M240 17.5h2M243 17.5h1M261 17.5h1M119 18.5h8M128 18.5h1M155 18.5h1M158 18.5h1M174 18.5h1M229 18.5h2M232 18.5h1M244 18.5h2M261 18.5h1M119 19.5h2M122 19.5h1M125 19.5h4M155 19.5h1M158 19.5h1M174 19.5h1M229 19.5h2M232 19.5h1M240 19.5h5"/>
<path stroke="#0022f5" d="M155 0.5h1M167 0.5h1M179 0.5h1M215 0.5h1M227 0.5h1M239 0.5h1M251 0.5h1M263 0.5h1M275 0.5h1M288 0.5h1M299 0.5h1M311 0.5h1M122 1.5h1M143 1.5h2M155 1.5h1M167 1.5h1M179 1.5h1M215 1.5h1M227 1.5h1M239 1.5h1M249 1.5h1M251 1.5h1M263 1.5h1M275 1.5h1M287 1.5h1M299 1.5h1M311 1.5h1M122 2.5h2M131 2.5h2M143 2.5h3M155 2.5h1M167 2.5h1M179 2.5h1M215 2.5h1M227 2.5h1M239 2.5h1M251 2.5h1M263 2.5h1M275 2.5h1M287 2.5h1M299 2.5h1M311 2.5h1M131 3.5h3M143 3.5h3M155 3.5h1M167 3.5h1M179 3.5h1M191 3.5h5M203 3.5h2M215 3.5h1M227 3.5h1M239 3.5h1M251 3.5h1M263 3.5h1M275 3.5h1M287 3.5h1M299 3.5h1M311 3.5h1M131 4.5h2M143 4.5h3M155 4.5h1M167 4.5h1M179 4.5h1M215 4.5h1M227 4.5h1M239 4.5h1M251 4.5h1M263 4.5h1M275 4.5h1M287 4.5h1M299 4.5h1M311 4.5h1M131 5.5h2M143 5.5h4M155 5.5h1M167 5.5h1M179 5.5h1M191 5.5h4M203 5.5h3M215 5.5h1M227 5.5h1M239 5.5h1M251 5.5h1M263 5.5h1M275 5.5h1M287 5.5h1M299 5.5h1M311 5.5h1M119 6.5h2M131 6.5h2M143 6.5h3M155 6.5h2M167 6.5h2M179 6.5h1M215 6.5h1M227 6.5h1M239 6.5h1M251 6.5h1M263 6.5h1M275 6.5h1M287 6.5h1M299 6.5h1M311 6.5h1M119 7.5h2M127 7.5h2M131 7.5h1M143 7.5h1M155 7.5h1M167 7.5h3M179 7.5h1M201 7.5h3M227 7.5h1M239 7.5h1M251 7.5h1M263 7.5h1M275 7.5h1M287 7.5h1M299 7.5h1M311 7.5h1M119 8.5h2M131 8.5h1M143 8.5h1M145 8.5h1M155 8.5h2M167 8.5h4M179 8.5h1M181 8.5h1M215 8.5h1M227 8.5h1M239 8.5h1M251 8.5h2M263 8.5h2M275 8.5h2M287 8.5h2M299 8.5h2M311 8.5h2M119 9.5h4M131 9.5h1M144 9.5h5M155 9.5h2M159 9.5h1M167 9.5h6M179 9.5h2M185 9.5h1M191 9.5h8M203 9.5h1M215 9.5h1M227 9.5h1M239 9.5h2M251 9.5h2M263 9.5h2M275 9.5h2M287 9.5h2M299 9.5h2M307 9.5h1M311 9.5h2M149 10.5h1M161 10.5h1M167 10.5h3M175 10.5h2M179 10.5h2M183 10.5h3M187 10.5h1M196 10.5h1M198 10.5h1M204 10.5h1M210 10.5h1M212 10.5h1M216 10.5h5M223 10.5h1M227 10.5h2M235 10.5h1M241 10.5h2M244 10.5h1M253 10.5h1M255 10.5h1M257 10.5h4M263 10.5h1M266 10.5h3M271 10.5h1M274 10.5h1M276 10.5h3M280 10.5h2M284 10.5h3M288 10.5h6M298 10.5h2M302 10.5h4M312 10.5h4M317 10.5h2M321 10.5h2M137 11.5h1M141 11.5h1M149 11.5h1M161 11.5h1M167 11.5h3M175 11.5h2M179 11.5h2M183 11.5h3M187 11.5h1M196 11.5h1M198 11.5h1M201 11.5h1M203 11.5h2M206 11.5h1M212 11.5h1M216 11.5h5M223 11.5h1M227 11.5h2M235 11.5h1M241 11.5h2M244 11.5h1M246 11.5h2M253 11.5h1M255 11.5h1M257 11.5h4M263 11.5h1M266 11.5h3M271 11.5h1M274 11.5h1M276 11.5h3M280 11.5h2M284 11.5h3M288 11.5h6M298 11.5h2M302 11.5h4M312 11.5h4M317 11.5h3M321 11.5h2M120 12.5h1M122 12.5h1M124 12.5h1M126 12.5h2M135 12.5h1M143 12.5h1M153 12.5h2M156 12.5h1M160 12.5h2M164 12.5h1M167 12.5h1M171 12.5h1M176 12.5h1M181 12.5h2M192 12.5h1M195 12.5h1M200 12.5h1M203 12.5h1M213 12.5h4M221 12.5h4M226 12.5h2M229 12.5h2M232 12.5h5M239 12.5h4M251 12.5h2M254 12.5h1M256 12.5h1M260 12.5h1M262 12.5h1M269 12.5h1M272 12.5h1M275 12.5h3M279 12.5h2M287 12.5h1M294 12.5h2M300 12.5h5M306 12.5h1M308 12.5h1M313 12.5h1M316 12.5h2M319 12.5h2M322 12.5h1M120 13.5h1M123 13.5h1M126 13.5h2M132 13.5h1M136 13.5h1M143 13.5h1M145 13.5h1M148 13.5h1M154 13.5h1M156 13.5h1M160 13.5h2M164 13.5h1M167 13.5h1M171 13.5h1M176 13.5h2M181 13.5h2M189 13.5h1M192 13.5h1M194 13.5h2M200 13.5h2M203 13.5h1M208 13.5h1M213 13.5h4M221 13.5h4M226 13.5h2M229 13.5h2M232 13.5h5M239 13.5h4M251 13.5h2M254 13.5h1M256 13.5h1M260 13.5h1M262 13.5h1M269 13.5h1M272 13.5h1M275 13.5h3M279 13.5h2M287 13.5h1M294 13.5h2M300 13.5h5M306 13.5h1M308 13.5h1M313 13.5h1M316 13.5h2M319 13.5h2M322 13.5h1M121 14.5h1M126 14.5h1M128 14.5h1M132 14.5h1M135 14.5h1M140 14.5h1M143 14.5h1M145 14.5h1M148 14.5h3M154 14.5h1M156 14.5h1M160 14.5h2M164 14.5h2M167 14.5h1M171 14.5h1M176 14.5h2M181 14.5h2M192 14.5h1M195 14.5h1M200 14.5h1M208 14.5h2M213 14.5h4M221 14.5h4M226 14.5h2M229 14.5h2M232 14.5h5M239 14.5h5M251 14.5h2M254 14.5h1M256 14.5h1M260 14.5h1M262 14.5h1M269 14.5h1M272 14.5h1M275 14.5h3M279 14.5h2M287 14.5h1M294 14.5h2M300 14.5h5M306 14.5h1M308 14.5h1M313 14.5h1M316 14.5h2M319 14.5h2M322 14.5h1M122 15.5h1M124 15.5h1M127 15.5h1M131 15.5h6M139 15.5h1M143 15.5h2M146 15.5h1M148 15.5h1M150 15.5h2M154 15.5h1M156 15.5h3M160 15.5h1M162 15.5h1M164 15.5h1M166 15.5h1M170 15.5h1M172 15.5h3M181 15.5h2M186 15.5h1M188 15.5h7M197 15.5h1M199 15.5h2M205 15.5h1M207 15.5h3M211 15.5h1M213 15.5h3M221 15.5h4M226 15.5h1M229 15.5h6M236 15.5h5M245 15.5h1M251 15.5h2M254 15.5h1M260 15.5h1M262 15.5h1M265 15.5h1M269 15.5h1M272 15.5h1M277 15.5h1M279 15.5h1M282 15.5h1M287 15.5h1M294 15.5h3M300 15.5h2M306 15.5h1M308 15.5h1M311 15.5h1M316 15.5h2M320 15.5h1M122 16.5h1M131 16.5h6M139 16.5h1M143 16.5h2M146 16.5h1M148 16.5h1M150 16.5h2M154 16.5h1M156 16.5h3M160 16.5h1M162 16.5h1M164 16.5h1M166 16.5h1M170 16.5h1M172 16.5h3M181 16.5h2M186 16.5h1M188 16.5h1M193 16.5h1M199 16.5h2M205 16.5h1M207 16.5h3M211 16.5h1M213 16.5h3M221 16.5h6M230 16.5h1M234 16.5h1M236 16.5h5M245 16.5h1M251 16.5h2M254 16.5h1M260 16.5h1M262 16.5h1M265 16.5h1M269 16.5h1M272 16.5h1M277 16.5h1M279 16.5h1M282 16.5h1M287 16.5h1M294 16.5h3M300 16.5h2M306 16.5h1M308 16.5h1M311 16.5h1M316 16.5h2M320 16.5h1M122 17.5h3M131 17.5h6M139 17.5h1M143 17.5h2M146 17.5h1M148 17.5h1M150 17.5h2M154 17.5h1M156 17.5h3M160 17.5h1M162 17.5h1M164 17.5h1M166 17.5h1M170 17.5h1M172 17.5h3M181 17.5h2M186 17.5h1M188 17.5h7M197 17.5h1M199 17.5h2M205 17.5h1M207 17.5h3M211 17.5h1M213 17.5h3M221 17.5h6M230 17.5h1M234 17.5h1M236 17.5h4M245 17.5h1M250 17.5h3M254 17.5h1M260 17.5h1M262 17.5h1M265 17.5h1M269 17.5h1M272 17.5h1M277 17.5h1M279 17.5h1M282 17.5h1M287 17.5h1M294 17.5h3M300 17.5h2M306 17.5h1M308 17.5h1M311 17.5h1M316 17.5h2M320 17.5h1M127 18.5h1M129 18.5h1M131 18.5h1M133 18.5h4M139 18.5h1M143 18.5h2M146 18.5h3M150 18.5h5M156 18.5h2M159 18.5h2M162 18.5h3M166 18.5h1M170 18.5h4M181 18.5h2M186 18.5h1M188 18.5h1M193 18.5h1M199 18.5h2M207 18.5h3M211 18.5h1M213 18.5h3M221 18.5h1M224 18.5h2M227 18.5h1M231 18.5h1M236 18.5h7M246 18.5h1M250 18.5h3M254 18.5h1M262 18.5h1M265 18.5h1M269 18.5h1M272 18.5h1M275 18.5h3M279 18.5h1M282 18.5h1M287 18.5h1M294 18.5h1M296 18.5h1M300 18.5h2M306 18.5h1M308 18.5h1M311 18.5h1M316 18.5h2M123 19.5h2M129 19.5h1M131 19.5h1M133 19.5h4M139 19.5h1M143 19.5h2M146 19.5h3M150 19.5h5M156 19.5h2M159 19.5h2M162 19.5h3M166 19.5h1M170 19.5h4M181 19.5h2M186 19.5h1M188 19.5h7M197 19.5h1M199 19.5h2M205 19.5h1M207 19.5h3M211 19.5h1M213 19.5h3M221 19.5h1M224 19.5h2M227 19.5h1M231 19.5h1M236 19.5h4M245 19.5h2M250 19.5h3M254 19.5h1M262 19.5h1M265 19.5h1M269 19.5h1M272 19.5h1M275 19.5h3M279 19.5h1M282 19.5h1M287 19.5h1M294 19.5h1M296 19.5h1M300 19.5h2M306 19.5h3M311 19.5h1M316 19.5h2"/>
<path stroke="#ffdf00" d="M163 0.5h1M295 0.5h1M298 0.5h1M55 1.5h2M149 1.5h1M163 1.5h1M115 2.5h1M140 2.5h1M163 2.5h1M232 2.5h2M270 2.5h1M53 3.5h1M111 3.5h1M208 3.5h1M245 3.5h1M258 3.5h1M269 3.5h1M282 3.5h1M317 3.5h1M91 4.5h1M102 4.5h1M127 4.5h2M184 4.5h1M237 4.5h1M320 4.5h1M91 5.5h1M140 5.5h1M196 5.5h1M199 5.5h2M209 5.5h1M284 5.5h1M126 6.5h1M209 6.5h1M223 6.5h1M92 7.5h1M140 7.5h2M117 8.5h1M225 8.5h1M225 9.5h1M152 11.5h1M202 11.5h1M45 13.5h1"/>
<path stroke="#c2ff42" d="M172 0.5h1M121 1.5h1M186 1.5h1M235 1.5h1M173 2.5h1M259 2.5h1M140 3.5h1M187 3.5h1M272 3.5h1M53 4.5h1M224 4.5h1M232 4.5h1M258 4.5h1M269 4.5h2M272 4.5h1M307 4.5h1M117 5.5h1M224 5.5h1M80 6.5h1M139 6.5h3M176 6.5h1M211 6.5h1M79 7.5h1M105 7.5h1M117 7.5h1M165 7.5h1M200 7.5h1M177 9.5h1"/>
<path stroke="#000ae8" d="M203 0.5h1M119 1.5h2M203 1.5h1M119 2.5h2M119 3.5h2M119 4.5h2M203 4.5h2M119 5.5h2M201 5.5h1M127 8.5h2M148 8.5h1M150 8.5h1M177 8.5h1M210 8.5h1M307 8.5h1M128 9.5h2M168 12.5h2M175 12.5h1M179 12.5h2M183 12.5h3M187 12.5h1M196 12.5h1M198 12.5h1M204 12.5h1M206 12.5h1M212 12.5h1M217 12.5h4M228 12.5h1M244 12.5h1M253 12.5h1M255 12.5h1M257 12.5h3M263 12.5h1M266 12.5h3M271 12.5h1M274 12.5h1M278 12.5h1M281 12.5h1M284 12.5h3M289 12.5h5M298 12.5h2M305 12.5h1M312 12.5h1M314 12.5h2M318 12.5h1M321 12.5h1M168 13.5h2M175 13.5h1M179 13.5h2M183 13.5h3M187 13.5h1M196 13.5h1M198 13.5h1M204 13.5h1M212 13.5h1M217 13.5h4M228 13.5h1M244 13.5h1M247 13.5h2M253 13.5h1M255 13.5h1M257 13.5h3M263 13.5h2M266 13.5h3M270 13.5h2M273 13.5h2M278 13.5h1M281 13.5h1M284 13.5h3M289 13.5h5M298 13.5h2M305 13.5h1M312 13.5h1M314 13.5h2M318 13.5h1M321 13.5h1M137 14.5h1M168 14.5h2M175 14.5h1M179 14.5h2M183 14.5h3M187 14.5h1M196 14.5h1M198 14.5h1M204 14.5h1M210 14.5h1M212 14.5h1M217 14.5h4M228 14.5h1M244 14.5h1M248 14.5h1M253 14.5h1M255 14.5h1M257 14.5h3M263 14.5h2M266 14.5h3M270 14.5h2M273 14.5h2M278 14.5h1M281 14.5h1M284 14.5h3M289 14.5h5M298 14.5h2M305 14.5h1M312 14.5h1M314 14.5h2M318 14.5h1M321 14.5h1M121 15.5h1M128 15.5h1M137 15.5h2M140 15.5h2M145 15.5h1M149 15.5h1M161 15.5h1M165 15.5h1M167 15.5h3M171 15.5h1M175 15.5h3M179 15.5h2M183 15.5h3M187 15.5h1M195 15.5h2M198 15.5h1M201 15.5h1M203 15.5h2M206 15.5h1M210 15.5h1M212 15.5h1M216 15.5h5M227 15.5h2M235 15.5h1M241 15.5h3M247 15.5h1M253 15.5h1M255 15.5h5M263 15.5h2M266 15.5h3M270 15.5h2M273 15.5h4M278 15.5h1M280 15.5h2M283 15.5h4M289 15.5h5M297 15.5h3M302 15.5h4M309 15.5h2M312 15.5h4M318 15.5h2M321 15.5h2M120 16.5h2M137 16.5h2M140 16.5h2M145 16.5h1M149 16.5h1M161 16.5h1M165 16.5h1M167 16.5h3M171 16.5h1M175 16.5h3M179 16.5h2M183 16.5h3M187 16.5h1M195 16.5h2M198 16.5h1M204 16.5h1M210 16.5h1M212 16.5h1M216 16.5h5M227 16.5h2M235 16.5h1M241 16.5h4M246 16.5h3M253 16.5h1M255 16.5h5M263 16.5h2M266 16.5h3M270 16.5h2M273 16.5h4M278 16.5h1M280 16.5h2M283 16.5h4M289 16.5h5M297 16.5h3M302 16.5h4M309 16.5h2M312 16.5h4M318 16.5h2M321 16.5h2M120 17.5h1M128 17.5h1M137 17.5h2M140 17.5h2M145 17.5h1M149 17.5h1M161 17.5h1M165 17.5h1M167 17.5h3M171 17.5h1M175 17.5h3M179 17.5h2M183 17.5h3M187 17.5h1M195 17.5h2M198 17.5h1M201 17.5h1M203 17.5h2M206 17.5h1M210 17.5h1M212 17.5h1M216 17.5h5M227 17.5h2M235 17.5h1M242 17.5h1M244 17.5h1M246 17.5h4M253 17.5h1M255 17.5h5M263 17.5h2M266 17.5h3M270 17.5h2M273 17.5h4M278 17.5h1M280 17.5h2M283 17.5h4M288 17.5h6M297 17.5h3M302 17.5h4M309 17.5h2M312 17.5h4M318 17.5h2M321 17.5h2M130 18.5h1M132 18.5h1M137 18.5h2M140 18.5h2M145 18.5h1M149 18.5h1M161 18.5h1M165 18.5h1M167 18.5h3M175 18.5h3M179 18.5h2M183 18.5h3M187 18.5h1M195 18.5h2M204 18.5h1M206 18.5h1M210 18.5h1M212 18.5h1M216 18.5h5M222 18.5h2M226 18.5h1M228 18.5h1M233 18.5h3M243 18.5h1M247 18.5h3M253 18.5h1M255 18.5h6M263 18.5h2M266 18.5h3M270 18.5h2M273 18.5h2M278 18.5h1M280 18.5h2M283 18.5h4M288 18.5h6M295 18.5h1M297 18.5h3M302 18.5h4M309 18.5h2M312 18.5h4M318 18.5h5M121 19.5h1M130 19.5h1M132 19.5h1M137 19.5h2M140 19.5h2M145 19.5h1M149 19.5h1M161 19.5h1M165 19.5h1M167 19.5h3M175 19.5h3M179 19.5h2M183 19.5h3M187 19.5h1M195 19.5h2M198 19.5h1M201 19.5h1M203 19.5h2M206 19.5h1M210 19.5h1M212 19.5h1M216 19.5h5M222 19.5h2M226 19.5h1M228 19.5h1M233 19.5h3M247 19.5h3M253 19.5h1M255 19.5h7M263 19.5h2M266 19.5h3M270 19.5h2M273 19.5h2M278 19.5h1M280 19.5h2M283 19.5h4M288 19.5h6M295 19.5h1M297 19.5h3M302 19.5h4M309 19.5h2M312 19.5h4M318 19.5h5"/>
</g>
</g></g>
<g clip-path="url(#cl0)"><g filter="url(#bl)">
<path fill="#0058f8" d="M157.9 410.7H170.7V421H157.9ZM164.2 421H170.7V449.4H164.2Z"/>
<path fill="#0090ff" d="M157.9 451.5H170.7V458.8H157.9Z"/>
<path fill="#0058f8" d="M157.9 492.4H170.7V497.7H157.9Z"/>
<path fill="#0004e4" d="M170.7 410.7H183.1V1117.3H170.7ZM183.1 410.7H189.6V740.3H183.1Z"/>
<path fill="#0058f8" d="M170.7 410.7H189.6V449.4H170.7Z"/>
<path fill="#0018e8" d="M170.7 449.4H189.6V488.2H170.7Z"/>
<path fill="#0004e4" d="M196.1 410.7H202.4V1117.3H196.1ZM202.4 410.9H208.7V460.9H202.4ZM202.4 472.5H208.7V498.7H202.4ZM202.4 594.3H208.7V627.9H202.4ZM202.4 643.7H208.7V661.6H202.4ZM202.4 706.7H208.7V761.3H202.4ZM202.4 946.4H208.7V1002.1H202.4ZM208.7 410.7H213.5V822.5H208.7ZM213.5 410.7H234.1V1117.3H213.5Z"/>
<path fill="#0018e8" d="M196.1 410.7H234.1V449.4H196.1Z"/>
<path fill="#0004e4" d="M246.7 410.7H259.7V1117.3H246.7ZM259.7 410.7H267.1V761.3H259.7ZM267.1 410.7H271.3V418.9H267.1ZM267.1 580.7H271.3V761.3H267.1ZM271.3 410.7H276.6V580.7H271.3ZM276.6 410.7H291.3V1117.3H276.6Z"/>
<path fill="#0018e8" d="M246.7 410.7H291.3V418.9H246.7Z"/>
<path fill="#0004e4" d="M297.6 410.7H308.7V1117.3H297.6Z"/>
<path fill="#0018e8" d="M308.1 410.7H317.5V418.9H308.1Z"/>
<path fill="#0004e4" d="M317.5 410.7H330.1V1117.3H317.5Z"/>
<path fill="#0018e8" d="M335.4 410.7H341.7V418.9H335.4Z"/>
<path fill="#0004e4" d="M341.7 410.7H378.9V1117.3H341.7Z"/>
<path fill="#0018e8" d="M341.7 410.7H378.9V437.8H341.7Z"/>
<path fill="#ffffff" d="M360.6 946.4H365.8V1117.3H360.6Z"/>
<path fill="#0004e4" d="M391.5 410.7H405.1V1117.3H391.5ZM405.1 410.7H411V418.9H405.1ZM411 410.7H423.6V974.8H411ZM430.5 410.7H437.3V1117.3H430.5ZM437.3 410.7H448.8V579.6H437.3Z"/>
<path fill="#0018e8" d="M391.5 410.7H448.8V418.9H391.5Z"/>
<path fill="#0004e4" d="M467.7 410.7H476.1V497.7H467.7Z"/>
<path fill="#00d8ff" d="M467.7 451.5H476.1V457.8H467.7Z"/>
<path fill="#0004e4" d="M467.7 595.4H476.1V610.1H467.7ZM467.7 677.3H476.1V691H467.7ZM481.4 410.7H488.7V1117.3H481.4ZM488.7 410.7H494V760.5H488.7ZM494 410.7H500.3V579.6H494ZM500.3 410.9H512.9V421H500.3Z"/>
<path fill="#0058f8" d="M500.3 425.2H512.9V434.7H500.3Z"/>
<path fill="#0004e4" d="M500.3 441H512.9V449.4H500.3ZM500.3 451.5H512.9V457.8H500.3ZM500.3 481.9H512.9V497.7H500.3ZM500.3 530.3H512.9V547.1H500.3ZM500.3 561.8H512.9V579.6H500.3Z"/>
<path fill="#0058f8" d="M500.3 644.7H512.9V659.5H500.3Z"/>
<path fill="#0090ff" d="M500.3 694.1H512.9V708.8H500.3Z"/>
<path fill="#00d8ff" d="M500.3 708.8H512.9V724.6H500.3Z"/>
<path fill="#0004e4" d="M530.5 410.9H538.9V417.9H530.5Z"/>
<path fill="#0090ff" d="M530.5 451.5H538.9V457.8H530.5Z"/>
<path fill="#0004e4" d="M530.5 473.5H538.9V481.9H530.5ZM530.5 492.4H538.9V505H530.5Z"/>
<path fill="#0058f8" d="M530.5 530.3H538.9V561.8H530.5Z"/>
<path fill="#0090ff" d="M530.5 561.8H538.9V578.6H530.5Z"/>
<path fill="#0004e4" d="M530.5 595.4H538.9V626.9H530.5ZM530.5 724.6H538.9V739.3H530.5ZM544.2 410.7H557.4V523.9H544.2ZM544.2 523.9H552.6V579.6H544.2ZM544.2 595.4H552.6V610.1H544.2ZM544.2 677.3H552.6V707.8H544.2ZM557.4 410.7H569.4V1117.3H557.4ZM569.4 410.9H576.7V450.4H569.4ZM569.4 458.8H576.7V472.5H569.4ZM569.4 484H576.7V523.9H569.4ZM569.4 530.3H576.7V626.9H569.4ZM569.4 677.3H576.7V691H569.4ZM569.4 724.6H576.7V739.3H569.4ZM582.4 410.7H590.4V1117.3H582.4ZM599.8 417.9H608.7V441H599.8ZM599.8 467.2H608.7V481.9H599.8ZM599.8 498.7H608.7V506.1H599.8ZM599.8 724.6H608.7V739.3H599.8ZM619.8 441H628.2V450.4H619.8ZM619.8 482.4H628.2V490.3H619.8ZM639.3 410.9H646.7V425.2H639.3ZM639.3 467.2H646.7V474.6H639.3ZM639.3 547.1H646.7V562.8H639.3ZM639.3 627.9H646.7V644.7H639.3ZM651.3 410.9H657.6V514.5H651.3ZM651.3 530.3H657.6V579.6H651.3ZM651.3 595.4H657.6V644.7H651.3ZM651.3 677.3H657.6V739.3H651.3Z"/>
<path fill="#0018e8" d="M657.6 410.7H665V822.5H657.6Z"/>
<path fill="#0004e4" d="M665 410.7H671.3V659.5H665ZM721.3 410.7H729V761.6H721.3ZM733.2 410.7H747.5V1117.3H733.2ZM747.5 410.7H754.2V426.3H747.5ZM778.4 410.7H785.8V418.9H778.4ZM785.8 410.7H792.1V822.5H785.8ZM792.1 410.7H799.4V761.6H792.1ZM861.4 410.7H868.7V1117.3H861.4Z"/>
<path fill="#0050f6" d="M170.7 410.7H189.6V431.5H170.7Z"/>
<path fill="#002cee" d="M170.7 431.5H189.6V463H170.7Z"/>
<path fill="#0014e8" d="M170.7 463H189.6V500.8H170.7Z"/>
<path fill="#0050f6" d="M196.1 410.7H234.1V431.5H196.1Z"/>
<path fill="#002cee" d="M196.1 431.5H234.1V463H196.1Z"/>
<path fill="#0014e8" d="M196.1 463H234.1V500.8H196.1Z"/>
<path fill="#0050f6" d="M246.7 410.7H291.3V431.5H246.7Z"/>
<path fill="#002cee" d="M246.7 431.5H291.3V463H246.7Z"/>
<path fill="#0014e8" d="M246.7 463H291.3V500.8H246.7Z"/>
<path fill="#0050f6" d="M297.6 410.7H308.7V431.5H297.6Z"/>
<path fill="#002cee" d="M297.6 431.5H308.7V463H297.6Z"/>
<path fill="#0014e8" d="M297.6 463H308.7V500.8H297.6Z"/>
<path fill="#0050f6" d="M317.5 410.7H330.1V431.5H317.5Z"/>
<path fill="#002cee" d="M317.5 431.5H330.1V463H317.5Z"/>
<path fill="#0014e8" d="M317.5 463H330.1V500.8H317.5Z"/>
<path fill="#0050f6" d="M341.7 410.7H365.8V431.5H341.7Z"/>
<path fill="#002cee" d="M341.7 431.5H365.8V463H341.7Z"/>
<path fill="#0014e8" d="M341.7 463H365.8V500.8H341.7Z"/>
<path fill="#0050f6" d="M391.5 410.7H405.1V431.5H391.5Z"/>
<path fill="#002cee" d="M391.5 431.5H405.1V463H391.5Z"/>
<path fill="#0014e8" d="M391.5 463H405.1V500.8H391.5Z"/>
<path fill="#0050f6" d="M411 410.7H423.6V431.5H411Z"/>
<path fill="#002cee" d="M411 431.5H423.6V463H411Z"/>
<path fill="#0014e8" d="M411 463H423.6V500.8H411Z"/>
<path fill="#0050f6" d="M430.5 410.7H448.8V431.5H430.5Z"/>
<path fill="#002cee" d="M430.5 431.5H448.8V463H430.5Z"/>
<path fill="#0014e8" d="M430.5 463H448.8V500.8H430.5Z"/>
<path fill="#0050f6" d="M481.4 410.7H500.3V431.5H481.4Z"/>
<path fill="#002cee" d="M481.4 431.5H500.3V463H481.4Z"/>
<path fill="#0014e8" d="M481.4 463H500.3V500.8H481.4Z"/>
<path fill="#0044f2" d="M544.2 410.7H569.4V431.5H544.2Z"/>
<path fill="#0020ea" d="M544.2 431.5H569.4V469.3H544.2Z"/>
<path fill="#0044f2" d="M582.4 410.7H590.4V431.5H582.4Z"/>
<path fill="#0020ea" d="M582.4 431.5H590.4V469.3H582.4Z"/>
<path fill="#0044f2" d="M651.3 410.7H671.3V431.5H651.3Z"/>
<path fill="#0020ea" d="M651.3 431.5H671.3V469.3H651.3Z"/>
<path fill="#0044f2" d="M733.2 410.7H747.5V431.5H733.2Z"/>
<path fill="#0020ea" d="M733.2 431.5H747.5V469.3H733.2Z"/>
<path fill="#ffffff" d="M267.1 418.9H271.3V500.8H267.1ZM308.1 418.9H317.5V500.8H308.1ZM330.1 418.9H341.7V500.8H330.1ZM405.1 418.9H411V500.8H405.1ZM202.4 460.9H208.7V472.5H202.4Z"/>
<path fill="#0050f6" d="M365.8 410.7H378.9V431.5H365.8Z"/>
<path fill="#002cee" d="M365.8 431.5H378.9V463H365.8Z"/>
<path fill="#ffffff" d="M552.6 523.9H557.4V538.7H552.6Z"/>
<path fill="#0004e4" d="M879.2 410.7H2204V1117.3H879.2Z"/>
<path fill="#0018e8" d="M879.2 410.7H2204V430H879.2Z"/>
<path fill="#0056ff" d="M879.2 410.7H885.6V420.7H879.2Z"/>
<path fill="#0021f5" d="M879.2 420.7H885.6V434.7H879.2Z"/>
<path fill="#000be9" d="M879.2 434.7H885.6V452.7H879.2Z"/>
<path fill="#005fff" d="M885.6 410.7H891.9V420.7H885.6Z"/>
<path fill="#0028f7" d="M885.6 420.7H891.9V434.7H885.6Z"/>
<path fill="#000deb" d="M885.6 434.7H891.9V452.7H885.6Z"/>
<path fill="#005cff" d="M891.9 410.7H898.3V420.7H891.9Z"/>
<path fill="#0026f7" d="M891.9 420.7H898.3V434.7H891.9Z"/>
<path fill="#000cea" d="M891.9 434.7H898.3V452.7H891.9Z"/>
<path fill="#0036fd" d="M898.3 410.7H904.6V420.7H898.3Z"/>
<path fill="#000eec" d="M898.3 420.7H904.6V434.7H898.3Z"/>
<path fill="#0006e5" d="M898.3 434.7H904.6V452.7H898.3Z"/>
<path fill="#0067ff" d="M904.6 410.7H910.9V420.7H904.6Z"/>
<path fill="#002efa" d="M904.6 420.7H910.9V434.7H904.6Z"/>
<path fill="#000eec" d="M904.6 434.7H910.9V452.7H904.6Z"/>
<path fill="#0065ff" d="M910.9 410.7H917.3V420.7H910.9Z"/>
<path fill="#002cf9" d="M910.9 420.7H917.3V434.7H910.9Z"/>
<path fill="#000eeb" d="M910.9 434.7H917.3V452.7H910.9Z"/>
<path fill="#004eff" d="M917.3 410.7H923.6V420.7H917.3Z"/>
<path fill="#001bf3" d="M917.3 420.7H923.6V434.7H917.3Z"/>
<path fill="#000ae8" d="M917.3 434.7H923.6V452.7H917.3Z"/>
<path fill="#0052ff" d="M923.6 410.7H930V420.7H923.6Z"/>
<path fill="#001ef4" d="M923.6 420.7H930V434.7H923.6Z"/>
<path fill="#000be9" d="M923.6 434.7H930V452.7H923.6Z"/>
<path fill="#0035fc" d="M930 410.7H936.3V420.7H930Z"/>
<path fill="#000eeb" d="M930 420.7H936.3V434.7H930Z"/>
<path fill="#0006e5" d="M930 434.7H936.3V452.7H930Z"/>
<path fill="#0045ff" d="M936.3 410.7H942.7V420.7H936.3Z"/>
<path fill="#0014f0" d="M936.3 420.7H942.7V434.7H936.3Z"/>
<path fill="#0008e7" d="M936.3 434.7H942.7V452.7H936.3Z"/>
<path fill="#005eff" d="M942.7 410.7H949V420.7H942.7Z"/>
<path fill="#0027f7" d="M942.7 420.7H949V434.7H942.7Z"/>
<path fill="#000dea" d="M942.7 434.7H949V452.7H942.7Z"/>
<path fill="#005fff" d="M949 410.7H955.3V420.7H949Z"/>
<path fill="#0028f7" d="M949 420.7H955.3V434.7H949Z"/>
<path fill="#000deb" d="M949 434.7H955.3V452.7H949Z"/>
<path fill="#0056ff" d="M955.3 410.7H961.7V420.7H955.3Z"/>
<path fill="#0021f5" d="M955.3 420.7H961.7V434.7H955.3Z"/>
<path fill="#000be9" d="M955.3 434.7H961.7V452.7H955.3Z"/>
<path fill="#0034fc" d="M961.7 410.7H968V420.7H961.7Z"/>
<path fill="#000eeb" d="M961.7 420.7H968V434.7H961.7Z"/>
<path fill="#0006e5" d="M961.7 434.7H968V452.7H961.7Z"/>
<path fill="#0041ff" d="M968 410.7H974.4V420.7H968Z"/>
<path fill="#0012ef" d="M968 420.7H974.4V434.7H968Z"/>
<path fill="#0008e7" d="M968 434.7H974.4V452.7H968Z"/>
<path fill="#0069ff" d="M974.4 410.7H980.7V420.7H974.4Z"/>
<path fill="#002ffa" d="M974.4 420.7H980.7V434.7H974.4Z"/>
<path fill="#000eec" d="M974.4 434.7H980.7V452.7H974.4Z"/>
<path fill="#0045ff" d="M980.7 410.7H987V420.7H980.7Z"/>
<path fill="#0014f0" d="M980.7 420.7H987V434.7H980.7Z"/>
<path fill="#0008e7" d="M980.7 434.7H987V452.7H980.7Z"/>
<path fill="#0052ff" d="M987 410.7H993.4V420.7H987Z"/>
<path fill="#001ef4" d="M987 420.7H993.4V434.7H987Z"/>
<path fill="#000ae9" d="M987 434.7H993.4V452.7H987Z"/>
<path fill="#0041ff" d="M993.4 410.7H999.7V420.7H993.4Z"/>
<path fill="#0012ee" d="M993.4 420.7H999.7V434.7H993.4Z"/>
<path fill="#0007e7" d="M993.4 434.7H999.7V452.7H993.4Z"/>
<path fill="#005aff" d="M999.7 410.7H1006.1V420.7H999.7Z"/>
<path fill="#0024f6" d="M999.7 420.7H1006.1V434.7H999.7Z"/>
<path fill="#000cea" d="M999.7 434.7H1006.1V452.7H999.7Z"/>
<path fill="#0064ff" d="M1006.1 410.7H1012.4V420.7H1006.1Z"/>
<path fill="#002cf9" d="M1006.1 420.7H1012.4V434.7H1006.1Z"/>
<path fill="#000eeb" d="M1006.1 434.7H1012.4V452.7H1006.1Z"/>
<path fill="#0049ff" d="M1012.4 410.7H1018.7V420.7H1012.4Z"/>
<path fill="#0016f1" d="M1012.4 420.7H1018.7V434.7H1012.4Z"/>
<path fill="#0009e8" d="M1012.4 434.7H1018.7V452.7H1012.4Z"/>
<path fill="#003eff" d="M1018.7 410.7H1025.1V420.7H1018.7Z"/>
<path fill="#0011ed" d="M1018.7 420.7H1025.1V434.7H1018.7Z"/>
<path fill="#0007e6" d="M1018.7 434.7H1025.1V452.7H1018.7Z"/>
<path fill="#0046ff" d="M1025.1 410.7H1031.4V420.7H1025.1Z"/>
<path fill="#0014f0" d="M1025.1 420.7H1031.4V434.7H1025.1Z"/>
<path fill="#0008e7" d="M1025.1 434.7H1031.4V452.7H1025.1Z"/>
<path fill="#0035fc" d="M1031.4 410.7H1037.8V420.7H1031.4Z"/>
<path fill="#000eeb" d="M1031.4 420.7H1037.8V434.7H1031.4Z"/>
<path fill="#0006e5" d="M1031.4 434.7H1037.8V452.7H1031.4Z"/>
<path fill="#0048ff" d="M1037.8 410.7H1044.1V420.7H1037.8Z"/>
<path fill="#0015f1" d="M1037.8 420.7H1044.1V434.7H1037.8Z"/>
<path fill="#0009e7" d="M1037.8 434.7H1044.1V452.7H1037.8Z"/>
<path fill="#0060ff" d="M1044.1 410.7H1050.5V420.7H1044.1Z"/>
<path fill="#0029f8" d="M1044.1 420.7H1050.5V434.7H1044.1Z"/>
<path fill="#000deb" d="M1044.1 434.7H1050.5V452.7H1044.1Z"/>
<path fill="#0046ff" d="M1050.5 410.7H1056.8V420.7H1050.5Z"/>
<path fill="#0015f0" d="M1050.5 420.7H1056.8V434.7H1050.5Z"/>
<path fill="#0008e7" d="M1050.5 434.7H1056.8V452.7H1050.5Z"/>
<path fill="#005bff" d="M1056.8 410.7H1063.1V420.7H1056.8Z"/>
<path fill="#0024f6" d="M1056.8 420.7H1063.1V434.7H1056.8Z"/>
<path fill="#000cea" d="M1056.8 434.7H1063.1V452.7H1056.8Z"/>
<path fill="#0069ff" d="M1063.1 410.7H1069.5V420.7H1063.1Z"/>
<path fill="#002ffa" d="M1063.1 420.7H1069.5V434.7H1063.1Z"/>
<path fill="#000eec" d="M1063.1 434.7H1069.5V452.7H1063.1Z"/>
<path fill="#005dff" d="M1069.5 410.7H1075.8V420.7H1069.5Z"/>
<path fill="#0026f7" d="M1069.5 420.7H1075.8V434.7H1069.5Z"/>
<path fill="#000cea" d="M1069.5 434.7H1075.8V452.7H1069.5Z"/>
<path fill="#0036fd" d="M1075.8 410.7H1082.2V420.7H1075.8Z"/>
<path fill="#000eeb" d="M1075.8 420.7H1082.2V434.7H1075.8Z"/>
<path fill="#0006e5" d="M1075.8 434.7H1082.2V452.7H1075.8Z"/>
<path fill="#0049ff" d="M1082.2 410.7H1088.5V420.7H1082.2Z"/>
<path fill="#0017f1" d="M1082.2 420.7H1088.5V434.7H1082.2Z"/>
<path fill="#0009e8" d="M1082.2 434.7H1088.5V452.7H1082.2Z"/>
<path fill="#0035fc" d="M1088.5 410.7H1094.8V420.7H1088.5Z"/>
<path fill="#000eeb" d="M1088.5 420.7H1094.8V434.7H1088.5Z"/>
<path fill="#0006e5" d="M1088.5 434.7H1094.8V452.7H1088.5Z"/>
<path fill="#003fff" d="M1094.8 410.7H1101.2V420.7H1094.8Z"/>
<path fill="#0011ee" d="M1094.8 420.7H1101.2V434.7H1094.8Z"/>
<path fill="#0007e6" d="M1094.8 434.7H1101.2V452.7H1094.8Z"/>
<path fill="#0040ff" d="M1101.2 410.7H1107.5V420.7H1101.2Z"/>
<path fill="#0012ee" d="M1101.2 420.7H1107.5V434.7H1101.2Z"/>
<path fill="#0007e7" d="M1101.2 434.7H1107.5V452.7H1101.2Z"/>
<path fill="#0066ff" d="M1107.5 410.7H1113.9V420.7H1107.5Z"/>
<path fill="#002df9" d="M1107.5 420.7H1113.9V434.7H1107.5Z"/>
<path fill="#000eeb" d="M1107.5 434.7H1113.9V452.7H1107.5Z"/>
<path fill="#0048ff" d="M1113.9 410.7H1120.2V420.7H1113.9Z"/>
<path fill="#0016f1" d="M1113.9 420.7H1120.2V434.7H1113.9Z"/>
<path fill="#0009e8" d="M1113.9 434.7H1120.2V452.7H1113.9Z"/>
<path fill="#0051ff" d="M1120.2 410.7H1126.5V420.7H1120.2Z"/>
<path fill="#001df3" d="M1120.2 420.7H1126.5V434.7H1120.2Z"/>
<path fill="#000ae9" d="M1120.2 434.7H1126.5V452.7H1120.2Z"/>
<path fill="#003cff" d="M1126.5 410.7H1132.9V420.7H1126.5Z"/>
<path fill="#0010ed" d="M1126.5 420.7H1132.9V434.7H1126.5Z"/>
<path fill="#0007e6" d="M1126.5 434.7H1132.9V452.7H1126.5Z"/>
<path fill="#005fff" d="M1132.9 410.7H1139.2V420.7H1132.9Z"/>
<path fill="#0028f7" d="M1132.9 420.7H1139.2V434.7H1132.9Z"/>
<path fill="#000deb" d="M1132.9 434.7H1139.2V452.7H1132.9Z"/>
<path fill="#0037fd" d="M1139.2 410.7H1145.6V420.7H1139.2Z"/>
<path fill="#000eec" d="M1139.2 420.7H1145.6V434.7H1139.2Z"/>
<path fill="#0006e5" d="M1139.2 434.7H1145.6V452.7H1139.2Z"/>
<path fill="#003afe" d="M1145.6 410.7H1151.9V420.7H1145.6Z"/>
<path fill="#000fed" d="M1145.6 420.7H1151.9V434.7H1145.6Z"/>
<path fill="#0006e6" d="M1145.6 434.7H1151.9V452.7H1145.6Z"/>
<path fill="#0056ff" d="M1151.9 410.7H1158.2V420.7H1151.9Z"/>
<path fill="#0020f5" d="M1151.9 420.7H1158.2V434.7H1151.9Z"/>
<path fill="#000be9" d="M1151.9 434.7H1158.2V452.7H1151.9Z"/>
<path fill="#0048ff" d="M1158.2 410.7H1164.6V420.7H1158.2Z"/>
<path fill="#0016f1" d="M1158.2 420.7H1164.6V434.7H1158.2Z"/>
<path fill="#0009e8" d="M1158.2 434.7H1164.6V452.7H1158.2Z"/>
<path fill="#0052ff" d="M1164.6 410.7H1170.9V420.7H1164.6Z"/>
<path fill="#001ef4" d="M1164.6 420.7H1170.9V434.7H1164.6Z"/>
<path fill="#000be9" d="M1164.6 434.7H1170.9V452.7H1164.6Z"/>
<path fill="#0046ff" d="M1170.9 410.7H1177.3V420.7H1170.9Z"/>
<path fill="#0015f0" d="M1170.9 420.7H1177.3V434.7H1170.9Z"/>
<path fill="#0008e7" d="M1170.9 434.7H1177.3V452.7H1170.9Z"/>
<path fill="#003afe" d="M1177.3 410.7H1183.6V420.7H1177.3Z"/>
<path fill="#000fec" d="M1177.3 420.7H1183.6V434.7H1177.3Z"/>
<path fill="#0006e6" d="M1177.3 434.7H1183.6V452.7H1177.3Z"/>
<path fill="#005aff" d="M1183.6 410.7H1190V420.7H1183.6Z"/>
<path fill="#0023f6" d="M1183.6 420.7H1190V434.7H1183.6Z"/>
<path fill="#000cea" d="M1183.6 434.7H1190V452.7H1183.6Z"/>
<path fill="#003eff" d="M1190 410.7H1196.3V420.7H1190Z"/>
<path fill="#0011ee" d="M1190 420.7H1196.3V434.7H1190Z"/>
<path fill="#0007e6" d="M1190 434.7H1196.3V452.7H1190Z"/>
<path fill="#0069ff" d="M1196.3 410.7H1202.6V420.7H1196.3Z"/>
<path fill="#002ffa" d="M1196.3 420.7H1202.6V434.7H1196.3Z"/>
<path fill="#000fec" d="M1196.3 434.7H1202.6V452.7H1196.3Z"/>
<path fill="#004bff" d="M1202.6 410.7H1209V420.7H1202.6Z"/>
<path fill="#0018f2" d="M1202.6 420.7H1209V434.7H1202.6Z"/>
<path fill="#0009e8" d="M1202.6 434.7H1209V452.7H1202.6Z"/>
<path fill="#0055ff" d="M1209 410.7H1215.3V420.7H1209Z"/>
<path fill="#0020f4" d="M1209 420.7H1215.3V434.7H1209Z"/>
<path fill="#000be9" d="M1209 434.7H1215.3V452.7H1209Z"/>
<path fill="#004eff" d="M1215.3 410.7H1221.7V420.7H1215.3Z"/>
<path fill="#001af2" d="M1215.3 420.7H1221.7V434.7H1215.3Z"/>
<path fill="#000ae8" d="M1215.3 434.7H1221.7V452.7H1215.3Z"/>
<path fill="#0038fe" d="M1221.7 410.7H1228V420.7H1221.7Z"/>
<path fill="#000fec" d="M1221.7 420.7H1228V434.7H1221.7Z"/>
<path fill="#0006e6" d="M1221.7 434.7H1228V452.7H1221.7Z"/>
<path fill="#0037fd" d="M1228 410.7H1234.3V420.7H1228Z"/>
<path fill="#000eec" d="M1228 420.7H1234.3V434.7H1228Z"/>
<path fill="#0006e5" d="M1228 434.7H1234.3V452.7H1228Z"/>
<path fill="#0061ff" d="M1234.3 410.7H1240.7V420.7H1234.3Z"/>
<path fill="#0029f8" d="M1234.3 420.7H1240.7V434.7H1234.3Z"/>
<path fill="#000deb" d="M1234.3 434.7H1240.7V452.7H1234.3Z"/>
<path fill="#005cff" d="M1240.7 410.7H1247V420.7H1240.7Z"/>
<path fill="#0025f6" d="M1240.7 420.7H1247V434.7H1240.7Z"/>
<path fill="#000cea" d="M1240.7 434.7H1247V452.7H1240.7Z"/>
<path fill="#0057ff" d="M1247 410.7H1253.4V420.7H1247Z"/>
<path fill="#0021f5" d="M1247 420.7H1253.4V434.7H1247Z"/>
<path fill="#000be9" d="M1247 434.7H1253.4V452.7H1247Z"/>
<path fill="#003bff" d="M1253.4 410.7H1259.7V420.7H1253.4Z"/>
<path fill="#0010ed" d="M1253.4 420.7H1259.7V434.7H1253.4Z"/>
<path fill="#0007e6" d="M1253.4 434.7H1259.7V452.7H1253.4Z"/>
<path fill="#003eff" d="M1259.7 410.7H1266V420.7H1259.7Z"/>
<path fill="#0011ee" d="M1259.7 420.7H1266V434.7H1259.7Z"/>
<path fill="#0007e6" d="M1259.7 434.7H1266V452.7H1259.7Z"/>
<path fill="#0045ff" d="M1266 410.7H1272.4V420.7H1266Z"/>
<path fill="#0014f0" d="M1266 420.7H1272.4V434.7H1266Z"/>
<path fill="#0008e7" d="M1266 434.7H1272.4V452.7H1266Z"/>
<path fill="#006aff" d="M1272.4 410.7H1278.7V420.7H1272.4Z"/>
<path fill="#0030fa" d="M1272.4 420.7H1278.7V434.7H1272.4Z"/>
<path fill="#000fec" d="M1272.4 434.7H1278.7V452.7H1272.4Z"/>
<path fill="#0069ff" d="M1278.7 410.7H1285.1V420.7H1278.7Z"/>
<path fill="#002ffa" d="M1278.7 420.7H1285.1V434.7H1278.7Z"/>
<path fill="#000eec" d="M1278.7 434.7H1285.1V452.7H1278.7Z"/>
<path fill="#004fff" d="M1285.1 410.7H1291.4V420.7H1285.1Z"/>
<path fill="#001bf3" d="M1285.1 420.7H1291.4V434.7H1285.1Z"/>
<path fill="#000ae9" d="M1285.1 434.7H1291.4V452.7H1285.1Z"/>
<path fill="#004fff" d="M1291.4 410.7H1297.7V420.7H1291.4Z"/>
<path fill="#001bf3" d="M1291.4 420.7H1297.7V434.7H1291.4Z"/>
<path fill="#000ae8" d="M1291.4 434.7H1297.7V452.7H1291.4Z"/>
<path fill="#004bff" d="M1297.7 410.7H1304.1V420.7H1297.7Z"/>
<path fill="#0018f2" d="M1297.7 420.7H1304.1V434.7H1297.7Z"/>
<path fill="#0009e8" d="M1297.7 434.7H1304.1V452.7H1297.7Z"/>
<path fill="#004aff" d="M1304.1 410.7H1310.4V420.7H1304.1Z"/>
<path fill="#0017f1" d="M1304.1 420.7H1310.4V434.7H1304.1Z"/>
<path fill="#0009e8" d="M1304.1 434.7H1310.4V452.7H1304.1Z"/>
<path fill="#0068ff" d="M1310.4 410.7H1316.8V420.7H1310.4Z"/>
<path fill="#002efa" d="M1310.4 420.7H1316.8V434.7H1310.4Z"/>
<path fill="#000eec" d="M1310.4 434.7H1316.8V452.7H1310.4Z"/>
<path fill="#0050ff" d="M1316.8 410.7H1323.1V420.7H1316.8Z"/>
<path fill="#001cf3" d="M1316.8 420.7H1323.1V434.7H1316.8Z"/>
<path fill="#000ae9" d="M1316.8 434.7H1323.1V452.7H1316.8Z"/>
<path fill="#003afe" d="M1323.1 410.7H1329.5V420.7H1323.1Z"/>
<path fill="#000fed" d="M1323.1 420.7H1329.5V434.7H1323.1Z"/>
<path fill="#0006e6" d="M1323.1 434.7H1329.5V452.7H1323.1Z"/>
<path fill="#005fff" d="M1329.5 410.7H1335.8V420.7H1329.5Z"/>
<path fill="#0027f7" d="M1329.5 420.7H1335.8V434.7H1329.5Z"/>
<path fill="#000dea" d="M1329.5 434.7H1335.8V452.7H1329.5Z"/>
<path fill="#0049ff" d="M1335.8 410.7H1342.1V420.7H1335.8Z"/>
<path fill="#0016f1" d="M1335.8 420.7H1342.1V434.7H1335.8Z"/>
<path fill="#0009e8" d="M1335.8 434.7H1342.1V452.7H1335.8Z"/>
<path fill="#005eff" d="M1342.1 410.7H1348.5V420.7H1342.1Z"/>
<path fill="#0027f7" d="M1342.1 420.7H1348.5V434.7H1342.1Z"/>
<path fill="#000dea" d="M1342.1 434.7H1348.5V452.7H1342.1Z"/>
<path fill="#0058ff" d="M1348.5 410.7H1354.8V420.7H1348.5Z"/>
<path fill="#0022f5" d="M1348.5 420.7H1354.8V434.7H1348.5Z"/>
<path fill="#000cea" d="M1348.5 434.7H1354.8V452.7H1348.5Z"/>
<path fill="#0049ff" d="M1354.8 410.7H1361.2V420.7H1354.8Z"/>
<path fill="#0016f1" d="M1354.8 420.7H1361.2V434.7H1354.8Z"/>
<path fill="#0009e8" d="M1354.8 434.7H1361.2V452.7H1354.8Z"/>
<path fill="#0045ff" d="M1361.2 410.7H1367.5V420.7H1361.2Z"/>
<path fill="#0014f0" d="M1361.2 420.7H1367.5V434.7H1361.2Z"/>
<path fill="#0008e7" d="M1361.2 434.7H1367.5V452.7H1361.2Z"/>
<path fill="#005eff" d="M1367.5 410.7H1373.8V420.7H1367.5Z"/>
<path fill="#0027f7" d="M1367.5 420.7H1373.8V434.7H1367.5Z"/>
<path fill="#000dea" d="M1367.5 434.7H1373.8V452.7H1367.5Z"/>
<path fill="#0045ff" d="M1373.8 410.7H1380.2V420.7H1373.8Z"/>
<path fill="#0014f0" d="M1373.8 420.7H1380.2V434.7H1373.8Z"/>
<path fill="#0008e7" d="M1373.8 434.7H1380.2V452.7H1373.8Z"/>
<path fill="#0058ff" d="M1380.2 410.7H1386.5V420.7H1380.2Z"/>
<path fill="#0022f5" d="M1380.2 420.7H1386.5V434.7H1380.2Z"/>
<path fill="#000bea" d="M1380.2 434.7H1386.5V452.7H1380.2Z"/>
<path fill="#0035fc" d="M1386.5 410.7H1392.9V420.7H1386.5Z"/>
<path fill="#000eeb" d="M1386.5 420.7H1392.9V434.7H1386.5Z"/>
<path fill="#0006e5" d="M1386.5 434.7H1392.9V452.7H1386.5Z"/>
<path fill="#0043ff" d="M1392.9 410.7H1399.2V420.7H1392.9Z"/>
<path fill="#0013ef" d="M1392.9 420.7H1399.2V434.7H1392.9Z"/>
<path fill="#0008e7" d="M1392.9 434.7H1399.2V452.7H1392.9Z"/>
<path fill="#004eff" d="M1399.2 410.7H1405.5V420.7H1399.2Z"/>
<path fill="#001af2" d="M1399.2 420.7H1405.5V434.7H1399.2Z"/>
<path fill="#000ae8" d="M1399.2 434.7H1405.5V452.7H1399.2Z"/>
<path fill="#0058ff" d="M1405.5 410.7H1411.9V420.7H1405.5Z"/>
<path fill="#0022f5" d="M1405.5 420.7H1411.9V434.7H1405.5Z"/>
<path fill="#000bea" d="M1405.5 434.7H1411.9V452.7H1405.5Z"/>
<path fill="#0048ff" d="M1411.9 410.7H1418.2V420.7H1411.9Z"/>
<path fill="#0016f1" d="M1411.9 420.7H1418.2V434.7H1411.9Z"/>
<path fill="#0009e8" d="M1411.9 434.7H1418.2V452.7H1411.9Z"/>
<path fill="#005cff" d="M1418.2 410.7H1424.6V420.7H1418.2Z"/>
<path fill="#0025f7" d="M1418.2 420.7H1424.6V434.7H1418.2Z"/>
<path fill="#000cea" d="M1418.2 434.7H1424.6V452.7H1418.2Z"/>
<path fill="#0048ff" d="M1424.6 410.7H1430.9V420.7H1424.6Z"/>
<path fill="#0016f1" d="M1424.6 420.7H1430.9V434.7H1424.6Z"/>
<path fill="#0009e8" d="M1424.6 434.7H1430.9V452.7H1424.6Z"/>
<path fill="#0063ff" d="M1430.9 410.7H1437.3V420.7H1430.9Z"/>
<path fill="#002bf9" d="M1430.9 420.7H1437.3V434.7H1430.9Z"/>
<path fill="#000deb" d="M1430.9 434.7H1437.3V452.7H1430.9Z"/>
<path fill="#0069ff" d="M1437.3 410.7H1443.6V420.7H1437.3Z"/>
<path fill="#002ffa" d="M1437.3 420.7H1443.6V434.7H1437.3Z"/>
<path fill="#000eec" d="M1437.3 434.7H1443.6V452.7H1437.3Z"/>
<path fill="#0051ff" d="M1443.6 410.7H1449.9V420.7H1443.6Z"/>
<path fill="#001df3" d="M1443.6 420.7H1449.9V434.7H1443.6Z"/>
<path fill="#000ae9" d="M1443.6 434.7H1449.9V452.7H1443.6Z"/>
<path fill="#003fff" d="M1449.9 410.7H1456.3V420.7H1449.9Z"/>
<path fill="#0011ee" d="M1449.9 420.7H1456.3V434.7H1449.9Z"/>
<path fill="#0007e6" d="M1449.9 434.7H1456.3V452.7H1449.9Z"/>
<path fill="#0067ff" d="M1456.3 410.7H1462.6V420.7H1456.3Z"/>
<path fill="#002dfa" d="M1456.3 420.7H1462.6V434.7H1456.3Z"/>
<path fill="#000eec" d="M1456.3 434.7H1462.6V452.7H1456.3Z"/>
<path fill="#005aff" d="M1462.6 410.7H1469V420.7H1462.6Z"/>
<path fill="#0024f6" d="M1462.6 420.7H1469V434.7H1462.6Z"/>
<path fill="#000cea" d="M1462.6 434.7H1469V452.7H1462.6Z"/>
<path fill="#005cff" d="M1469 410.7H1475.3V420.7H1469Z"/>
<path fill="#0025f6" d="M1469 420.7H1475.3V434.7H1469Z"/>
<path fill="#000cea" d="M1469 434.7H1475.3V452.7H1469Z"/>
<path fill="#005eff" d="M1475.3 410.7H1481.6V420.7H1475.3Z"/>
<path fill="#0027f7" d="M1475.3 420.7H1481.6V434.7H1475.3Z"/>
<path fill="#000dea" d="M1475.3 434.7H1481.6V452.7H1475.3Z"/>
<path fill="#0059ff" d="M1481.6 410.7H1488V420.7H1481.6Z"/>
<path fill="#0023f5" d="M1481.6 420.7H1488V434.7H1481.6Z"/>
<path fill="#000cea" d="M1481.6 434.7H1488V452.7H1481.6Z"/>
<path fill="#0056ff" d="M1488 410.7H1494.3V420.7H1488Z"/>
<path fill="#0021f5" d="M1488 420.7H1494.3V434.7H1488Z"/>
<path fill="#000be9" d="M1488 434.7H1494.3V452.7H1488Z"/>
<path fill="#0057ff" d="M1494.3 410.7H1500.7V420.7H1494.3Z"/>
<path fill="#0021f5" d="M1494.3 420.7H1500.7V434.7H1494.3Z"/>
<path fill="#000bea" d="M1494.3 434.7H1500.7V452.7H1494.3Z"/>
<path fill="#0036fd" d="M1500.7 410.7H1507V420.7H1500.7Z"/>
<path fill="#000eec" d="M1500.7 420.7H1507V434.7H1500.7Z"/>
<path fill="#0006e5" d="M1500.7 434.7H1507V452.7H1500.7Z"/>
<path fill="#004dff" d="M1507 410.7H1513.3V420.7H1507Z"/>
<path fill="#001af2" d="M1507 420.7H1513.3V434.7H1507Z"/>
<path fill="#000ae8" d="M1507 434.7H1513.3V452.7H1507Z"/>
<path fill="#0041ff" d="M1513.3 410.7H1519.7V420.7H1513.3Z"/>
<path fill="#0012ef" d="M1513.3 420.7H1519.7V434.7H1513.3Z"/>
<path fill="#0008e7" d="M1513.3 434.7H1519.7V452.7H1513.3Z"/>
<path fill="#0057ff" d="M1519.7 410.7H1526V420.7H1519.7Z"/>
<path fill="#0021f5" d="M1519.7 420.7H1526V434.7H1519.7Z"/>
<path fill="#000be9" d="M1519.7 434.7H1526V452.7H1519.7Z"/>
<path fill="#004eff" d="M1526 410.7H1532.4V420.7H1526Z"/>
<path fill="#001bf3" d="M1526 420.7H1532.4V434.7H1526Z"/>
<path fill="#000ae8" d="M1526 434.7H1532.4V452.7H1526Z"/>
<path fill="#0038fd" d="M1532.4 410.7H1538.7V420.7H1532.4Z"/>
<path fill="#000fec" d="M1532.4 420.7H1538.7V434.7H1532.4Z"/>
<path fill="#0006e6" d="M1532.4 434.7H1538.7V452.7H1532.4Z"/>
<path fill="#0046ff" d="M1538.7 410.7H1545V420.7H1538.7Z"/>
<path fill="#0015f0" d="M1538.7 420.7H1545V434.7H1538.7Z"/>
<path fill="#0008e7" d="M1538.7 434.7H1545V452.7H1538.7Z"/>
<path fill="#0040ff" d="M1545 410.7H1551.4V420.7H1545Z"/>
<path fill="#0012ee" d="M1545 420.7H1551.4V434.7H1545Z"/>
<path fill="#0007e7" d="M1545 434.7H1551.4V452.7H1545Z"/>
<path fill="#004eff" d="M1551.4 410.7H1557.7V420.7H1551.4Z"/>
<path fill="#001bf2" d="M1551.4 420.7H1557.7V434.7H1551.4Z"/>
<path fill="#000ae8" d="M1551.4 434.7H1557.7V452.7H1551.4Z"/>
<path fill="#0056ff" d="M1557.7 410.7H1564.1V420.7H1557.7Z"/>
<path fill="#0020f5" d="M1557.7 420.7H1564.1V434.7H1557.7Z"/>
<path fill="#000be9" d="M1557.7 434.7H1564.1V452.7H1557.7Z"/>
<path fill="#0042ff" d="M1564.1 410.7H1570.4V420.7H1564.1Z"/>
<path fill="#0013ef" d="M1564.1 420.7H1570.4V434.7H1564.1Z"/>
<path fill="#0008e7" d="M1564.1 434.7H1570.4V452.7H1564.1Z"/>
<path fill="#0034fc" d="M1570.4 410.7H1576.8V420.7H1570.4Z"/>
<path fill="#000eeb" d="M1570.4 420.7H1576.8V434.7H1570.4Z"/>
<path fill="#0006e5" d="M1570.4 434.7H1576.8V452.7H1570.4Z"/>
<path fill="#0044ff" d="M1576.8 410.7H1583.1V420.7H1576.8Z"/>
<path fill="#0014f0" d="M1576.8 420.7H1583.1V434.7H1576.8Z"/>
<path fill="#0008e7" d="M1576.8 434.7H1583.1V452.7H1576.8Z"/>
<path fill="#003cff" d="M1583.1 410.7H1589.4V420.7H1583.1Z"/>
<path fill="#0010ed" d="M1583.1 420.7H1589.4V434.7H1583.1Z"/>
<path fill="#0007e6" d="M1583.1 434.7H1589.4V452.7H1583.1Z"/>
<path fill="#0049ff" d="M1589.4 410.7H1595.8V420.7H1589.4Z"/>
<path fill="#0017f1" d="M1589.4 420.7H1595.8V434.7H1589.4Z"/>
<path fill="#0009e8" d="M1589.4 434.7H1595.8V452.7H1589.4Z"/>
<path fill="#0056ff" d="M1595.8 410.7H1602.1V420.7H1595.8Z"/>
<path fill="#0020f5" d="M1595.8 420.7H1602.1V434.7H1595.8Z"/>
<path fill="#000be9" d="M1595.8 434.7H1602.1V452.7H1595.8Z"/>
<path fill="#0052ff" d="M1602.1 410.7H1608.5V420.7H1602.1Z"/>
<path fill="#001ef4" d="M1602.1 420.7H1608.5V434.7H1602.1Z"/>
<path fill="#000be9" d="M1602.1 434.7H1608.5V452.7H1602.1Z"/>
<path fill="#0054ff" d="M1608.5 410.7H1614.8V420.7H1608.5Z"/>
<path fill="#001ff4" d="M1608.5 420.7H1614.8V434.7H1608.5Z"/>
<path fill="#000be9" d="M1608.5 434.7H1614.8V452.7H1608.5Z"/>
<path fill="#0060ff" d="M1614.8 410.7H1621.1V420.7H1614.8Z"/>
<path fill="#0029f8" d="M1614.8 420.7H1621.1V434.7H1614.8Z"/>
<path fill="#000deb" d="M1614.8 434.7H1621.1V452.7H1614.8Z"/>
<path fill="#0060ff" d="M1621.1 410.7H1627.5V420.7H1621.1Z"/>
<path fill="#0028f8" d="M1621.1 420.7H1627.5V434.7H1621.1Z"/>
<path fill="#000deb" d="M1621.1 434.7H1627.5V452.7H1621.1Z"/>
<path fill="#0049ff" d="M1627.5 410.7H1633.8V420.7H1627.5Z"/>
<path fill="#0017f1" d="M1627.5 420.7H1633.8V434.7H1627.5Z"/>
<path fill="#0009e8" d="M1627.5 434.7H1633.8V452.7H1627.5Z"/>
<path fill="#0055ff" d="M1633.8 410.7H1640.2V420.7H1633.8Z"/>
<path fill="#0020f4" d="M1633.8 420.7H1640.2V434.7H1633.8Z"/>
<path fill="#000be9" d="M1633.8 434.7H1640.2V452.7H1633.8Z"/>
<path fill="#0068ff" d="M1640.2 410.7H1646.5V420.7H1640.2Z"/>
<path fill="#002efa" d="M1640.2 420.7H1646.5V434.7H1640.2Z"/>
<path fill="#000eec" d="M1640.2 434.7H1646.5V452.7H1640.2Z"/>
<path fill="#0056ff" d="M1646.5 410.7H1652.8V420.7H1646.5Z"/>
<path fill="#0020f5" d="M1646.5 420.7H1652.8V434.7H1646.5Z"/>
<path fill="#000be9" d="M1646.5 434.7H1652.8V452.7H1646.5Z"/>
<path fill="#0064ff" d="M1652.8 410.7H1659.2V420.7H1652.8Z"/>
<path fill="#002cf9" d="M1652.8 420.7H1659.2V434.7H1652.8Z"/>
<path fill="#000eeb" d="M1652.8 434.7H1659.2V452.7H1652.8Z"/>
<path fill="#003cff" d="M1659.2 410.7H1665.5V420.7H1659.2Z"/>
<path fill="#0010ed" d="M1659.2 420.7H1665.5V434.7H1659.2Z"/>
<path fill="#0007e6" d="M1659.2 434.7H1665.5V452.7H1659.2Z"/>
<path fill="#0056ff" d="M1665.5 410.7H1671.9V420.7H1665.5Z"/>
<path fill="#0021f5" d="M1665.5 420.7H1671.9V434.7H1665.5Z"/>
<path fill="#000be9" d="M1665.5 434.7H1671.9V452.7H1665.5Z"/>
<path fill="#0057ff" d="M1671.9 410.7H1678.2V420.7H1671.9Z"/>
<path fill="#0021f5" d="M1671.9 420.7H1678.2V434.7H1671.9Z"/>
<path fill="#000be9" d="M1671.9 434.7H1678.2V452.7H1671.9Z"/>
<path fill="#0049ff" d="M1678.2 410.7H1684.6V420.7H1678.2Z"/>
<path fill="#0017f1" d="M1678.2 420.7H1684.6V434.7H1678.2Z"/>
<path fill="#0009e8" d="M1678.2 434.7H1684.6V452.7H1678.2Z"/>
<path fill="#0042ff" d="M1684.6 410.7H1690.9V420.7H1684.6Z"/>
<path fill="#0012ef" d="M1684.6 420.7H1690.9V434.7H1684.6Z"/>
<path fill="#0008e7" d="M1684.6 434.7H1690.9V452.7H1684.6Z"/>
<path fill="#0068ff" d="M1690.9 410.7H1697.2V420.7H1690.9Z"/>
<path fill="#002ffa" d="M1690.9 420.7H1697.2V434.7H1690.9Z"/>
<path fill="#000eec" d="M1690.9 434.7H1697.2V452.7H1690.9Z"/>
<path fill="#0068ff" d="M1697.2 410.7H1703.6V420.7H1697.2Z"/>
<path fill="#002efa" d="M1697.2 420.7H1703.6V434.7H1697.2Z"/>
<path fill="#000eec" d="M1697.2 434.7H1703.6V452.7H1697.2Z"/>
<path fill="#0055ff" d="M1703.6 410.7H1709.9V420.7H1703.6Z"/>
<path fill="#0020f4" d="M1703.6 420.7H1709.9V434.7H1703.6Z"/>
<path fill="#000be9" d="M1703.6 434.7H1709.9V452.7H1703.6Z"/>
<path fill="#0035fd" d="M1709.9 410.7H1716.3V420.7H1709.9Z"/>
<path fill="#000eeb" d="M1709.9 420.7H1716.3V434.7H1709.9Z"/>
<path fill="#0006e5" d="M1709.9 434.7H1716.3V452.7H1709.9Z"/>
<path fill="#0026f7" d="M1716.3 410.7H1722.6V420.7H1716.3Z"/>
<path fill="#0009e8" d="M1716.3 420.7H1722.6V434.7H1716.3Z"/>
<path fill="#0004e4" d="M1716.3 434.7H1722.6V452.7H1716.3Z"/>
<path fill="#0036fd" d="M1722.6 410.7H1728.9V420.7H1722.6Z"/>
<path fill="#000eeb" d="M1722.6 420.7H1728.9V434.7H1722.6Z"/>
<path fill="#0006e5" d="M1722.6 434.7H1728.9V452.7H1722.6Z"/>
<path fill="#0023f6" d="M1728.9 410.7H1735.3V420.7H1728.9Z"/>
<path fill="#0008e7" d="M1728.9 420.7H1735.3V434.7H1728.9Z"/>
<path fill="#0003e3" d="M1728.9 434.7H1735.3V452.7H1728.9Z"/>
<path fill="#001ff4" d="M1735.3 410.7H1741.6V420.7H1735.3Z"/>
<path fill="#0006e6" d="M1735.3 420.7H1741.6V434.7H1735.3Z"/>
<path fill="#0003e3" d="M1735.3 434.7H1741.6V452.7H1735.3Z"/>
<path fill="#0027f7" d="M1741.6 410.7H1748V420.7H1741.6Z"/>
<path fill="#0009e8" d="M1741.6 420.7H1748V434.7H1741.6Z"/>
<path fill="#0004e4" d="M1741.6 434.7H1748V452.7H1741.6Z"/>
<path fill="#0030fb" d="M1748 410.7H1754.3V420.7H1748Z"/>
<path fill="#000cea" d="M1748 420.7H1754.3V434.7H1748Z"/>
<path fill="#0005e5" d="M1748 434.7H1754.3V452.7H1748Z"/>
<path fill="#001cf3" d="M1754.3 410.7H1760.6V420.7H1754.3Z"/>
<path fill="#0006e5" d="M1754.3 420.7H1760.6V434.7H1754.3Z"/>
<path fill="#0002e3" d="M1754.3 434.7H1760.6V452.7H1754.3Z"/>
<path fill="#0023f6" d="M1760.6 410.7H1767V420.7H1760.6Z"/>
<path fill="#0008e7" d="M1760.6 420.7H1767V434.7H1760.6Z"/>
<path fill="#0003e3" d="M1760.6 434.7H1767V452.7H1760.6Z"/>
<path fill="#0030fb" d="M1767 410.7H1773.3V420.7H1767Z"/>
<path fill="#000cea" d="M1767 420.7H1773.3V434.7H1767Z"/>
<path fill="#0005e5" d="M1767 434.7H1773.3V452.7H1767Z"/>
<path fill="#0023f5" d="M1773.3 410.7H1779.7V420.7H1773.3Z"/>
<path fill="#0008e7" d="M1773.3 420.7H1779.7V434.7H1773.3Z"/>
<path fill="#0003e3" d="M1773.3 434.7H1779.7V452.7H1773.3Z"/>
<path fill="#0036fd" d="M1779.7 410.7H1786V420.7H1779.7Z"/>
<path fill="#000eeb" d="M1779.7 420.7H1786V434.7H1779.7Z"/>
<path fill="#0006e5" d="M1779.7 434.7H1786V452.7H1779.7Z"/>
<path fill="#002cf9" d="M1786 410.7H1792.3V420.7H1786Z"/>
<path fill="#000be9" d="M1786 420.7H1792.3V434.7H1786Z"/>
<path fill="#0004e4" d="M1786 434.7H1792.3V452.7H1786Z"/>
<path fill="#002df9" d="M1792.3 410.7H1798.7V420.7H1792.3Z"/>
<path fill="#000be9" d="M1792.3 420.7H1798.7V434.7H1792.3Z"/>
<path fill="#0005e4" d="M1792.3 434.7H1798.7V452.7H1792.3Z"/>
<path fill="#002ffa" d="M1798.7 410.7H1805V420.7H1798.7Z"/>
<path fill="#000cea" d="M1798.7 420.7H1805V434.7H1798.7Z"/>
<path fill="#0005e5" d="M1798.7 434.7H1805V452.7H1798.7Z"/>
<path fill="#0030fa" d="M1805 410.7H1811.4V420.7H1805Z"/>
<path fill="#000cea" d="M1805 420.7H1811.4V434.7H1805Z"/>
<path fill="#0005e5" d="M1805 434.7H1811.4V452.7H1805Z"/>
<path fill="#002af8" d="M1811.4 410.7H1817.7V420.7H1811.4Z"/>
<path fill="#000ae9" d="M1811.4 420.7H1817.7V434.7H1811.4Z"/>
<path fill="#0004e4" d="M1811.4 434.7H1817.7V452.7H1811.4Z"/>
<path fill="#0023f6" d="M1817.7 410.7H1824.1V420.7H1817.7Z"/>
<path fill="#0008e7" d="M1817.7 420.7H1824.1V434.7H1817.7Z"/>
<path fill="#0003e3" d="M1817.7 434.7H1824.1V452.7H1817.7Z"/>
<path fill="#0028f7" d="M1824.1 410.7H1830.4V420.7H1824.1Z"/>
<path fill="#0009e8" d="M1824.1 420.7H1830.4V434.7H1824.1Z"/>
<path fill="#0004e4" d="M1824.1 434.7H1830.4V452.7H1824.1Z"/>
<path fill="#002ffa" d="M1830.4 410.7H1836.7V420.7H1830.4Z"/>
<path fill="#000cea" d="M1830.4 420.7H1836.7V434.7H1830.4Z"/>
<path fill="#0005e5" d="M1830.4 434.7H1836.7V452.7H1830.4Z"/>
<path fill="#001cf3" d="M1836.7 410.7H1843.1V420.7H1836.7Z"/>
<path fill="#0006e5" d="M1836.7 420.7H1843.1V434.7H1836.7Z"/>
<path fill="#0002e3" d="M1836.7 434.7H1843.1V452.7H1836.7Z"/>
<path fill="#0028f7" d="M1843.1 410.7H1849.4V420.7H1843.1Z"/>
<path fill="#0009e8" d="M1843.1 420.7H1849.4V434.7H1843.1Z"/>
<path fill="#0004e4" d="M1843.1 434.7H1849.4V452.7H1843.1Z"/>
<path fill="#0033fc" d="M1849.4 410.7H1855.8V420.7H1849.4Z"/>
<path fill="#000deb" d="M1849.4 420.7H1855.8V434.7H1849.4Z"/>
<path fill="#0005e5" d="M1849.4 434.7H1855.8V452.7H1849.4Z"/>
<path fill="#001cf3" d="M1855.8 410.7H1862.1V420.7H1855.8Z"/>
<path fill="#0006e5" d="M1855.8 420.7H1862.1V434.7H1855.8Z"/>
<path fill="#0002e3" d="M1855.8 434.7H1862.1V452.7H1855.8Z"/>
<path fill="#0027f7" d="M1862.1 410.7H1868.4V420.7H1862.1Z"/>
<path fill="#0009e8" d="M1862.1 420.7H1868.4V434.7H1862.1Z"/>
<path fill="#0004e4" d="M1862.1 434.7H1868.4V452.7H1862.1Z"/>
<path fill="#002efa" d="M1868.4 410.7H1874.8V420.7H1868.4Z"/>
<path fill="#000cea" d="M1868.4 420.7H1874.8V434.7H1868.4Z"/>
<path fill="#0005e5" d="M1868.4 434.7H1874.8V452.7H1868.4Z"/>
<path fill="#0028f8" d="M1874.8 410.7H1881.1V420.7H1874.8Z"/>
<path fill="#000ae8" d="M1874.8 420.7H1881.1V434.7H1874.8Z"/>
<path fill="#0004e4" d="M1874.8 434.7H1881.1V452.7H1874.8Z"/>
<path fill="#0026f7" d="M1881.1 410.7H1887.5V420.7H1881.1Z"/>
<path fill="#0009e8" d="M1881.1 420.7H1887.5V434.7H1881.1Z"/>
<path fill="#0004e4" d="M1881.1 434.7H1887.5V452.7H1881.1Z"/>
<path fill="#0032fb" d="M1887.5 410.7H1893.8V420.7H1887.5Z"/>
<path fill="#000deb" d="M1887.5 420.7H1893.8V434.7H1887.5Z"/>
<path fill="#0005e5" d="M1887.5 434.7H1893.8V452.7H1887.5Z"/>
<path fill="#0023f6" d="M1893.8 410.7H1900.1V420.7H1893.8Z"/>
<path fill="#0008e7" d="M1893.8 420.7H1900.1V434.7H1893.8Z"/>
<path fill="#0003e3" d="M1893.8 434.7H1900.1V452.7H1893.8Z"/>
<path fill="#001df3" d="M1900.1 410.7H1906.5V420.7H1900.1Z"/>
<path fill="#0006e5" d="M1900.1 420.7H1906.5V434.7H1900.1Z"/>
<path fill="#0002e3" d="M1900.1 434.7H1906.5V452.7H1900.1Z"/>
<path fill="#002efa" d="M1906.5 410.7H1912.8V420.7H1906.5Z"/>
<path fill="#000bea" d="M1906.5 420.7H1912.8V434.7H1906.5Z"/>
<path fill="#0005e5" d="M1906.5 434.7H1912.8V452.7H1906.5Z"/>
<path fill="#0023f6" d="M1912.8 410.7H1919.2V420.7H1912.8Z"/>
<path fill="#0008e7" d="M1912.8 420.7H1919.2V434.7H1912.8Z"/>
<path fill="#0003e3" d="M1912.8 434.7H1919.2V452.7H1912.8Z"/>
<path fill="#0034fc" d="M1919.2 410.7H1925.5V420.7H1919.2Z"/>
<path fill="#000deb" d="M1919.2 420.7H1925.5V434.7H1919.2Z"/>
<path fill="#0006e5" d="M1919.2 434.7H1925.5V452.7H1919.2Z"/>
<path fill="#0028f8" d="M1925.5 410.7H1931.8V420.7H1925.5Z"/>
<path fill="#000ae8" d="M1925.5 420.7H1931.8V434.7H1925.5Z"/>
<path fill="#0004e4" d="M1925.5 434.7H1931.8V452.7H1925.5Z"/>
<path fill="#0029f8" d="M1931.8 410.7H1938.2V420.7H1931.8Z"/>
<path fill="#000ae8" d="M1931.8 420.7H1938.2V434.7H1931.8Z"/>
<path fill="#0004e4" d="M1931.8 434.7H1938.2V452.7H1931.8Z"/>
<path fill="#001ff4" d="M1938.2 410.7H1944.5V420.7H1938.2Z"/>
<path fill="#0007e6" d="M1938.2 420.7H1944.5V434.7H1938.2Z"/>
<path fill="#0003e3" d="M1938.2 434.7H1944.5V452.7H1938.2Z"/>
<path fill="#0031fb" d="M1944.5 410.7H1950.9V420.7H1944.5Z"/>
<path fill="#000cea" d="M1944.5 420.7H1950.9V434.7H1944.5Z"/>
<path fill="#0005e5" d="M1944.5 434.7H1950.9V452.7H1944.5Z"/>
<path fill="#0022f5" d="M1950.9 410.7H1957.2V420.7H1950.9Z"/>
<path fill="#0007e7" d="M1950.9 420.7H1957.2V434.7H1950.9Z"/>
<path fill="#0003e3" d="M1950.9 434.7H1957.2V452.7H1950.9Z"/>
<path fill="#0030fb" d="M1957.2 410.7H1963.6V420.7H1957.2Z"/>
<path fill="#000cea" d="M1957.2 420.7H1963.6V434.7H1957.2Z"/>
<path fill="#0005e5" d="M1957.2 434.7H1963.6V452.7H1957.2Z"/>
<path fill="#001cf3" d="M1963.6 410.7H1969.9V420.7H1963.6Z"/>
<path fill="#0006e5" d="M1963.6 420.7H1969.9V434.7H1963.6Z"/>
<path fill="#0002e3" d="M1963.6 434.7H1969.9V452.7H1963.6Z"/>
<path fill="#0035fd" d="M1969.9 410.7H1976.2V420.7H1969.9Z"/>
<path fill="#000eeb" d="M1969.9 420.7H1976.2V434.7H1969.9Z"/>
<path fill="#0006e5" d="M1969.9 434.7H1976.2V452.7H1969.9Z"/>
<path fill="#002efa" d="M1976.2 410.7H1982.6V420.7H1976.2Z"/>
<path fill="#000bea" d="M1976.2 420.7H1982.6V434.7H1976.2Z"/>
<path fill="#0005e5" d="M1976.2 434.7H1982.6V452.7H1976.2Z"/>
<path fill="#0032fb" d="M1982.6 410.7H1988.9V420.7H1982.6Z"/>
<path fill="#000deb" d="M1982.6 420.7H1988.9V434.7H1982.6Z"/>
<path fill="#0005e5" d="M1982.6 434.7H1988.9V452.7H1982.6Z"/>
<path fill="#002df9" d="M1988.9 410.7H1995.3V420.7H1988.9Z"/>
<path fill="#000be9" d="M1988.9 420.7H1995.3V434.7H1988.9Z"/>
<path fill="#0005e4" d="M1988.9 434.7H1995.3V452.7H1988.9Z"/>
<path fill="#002efa" d="M1995.3 410.7H2001.6V420.7H1995.3Z"/>
<path fill="#000cea" d="M1995.3 420.7H2001.6V434.7H1995.3Z"/>
<path fill="#0005e5" d="M1995.3 434.7H2001.6V452.7H1995.3Z"/>
<path fill="#0023f6" d="M2001.6 410.7H2007.9V420.7H2001.6Z"/>
<path fill="#0008e7" d="M2001.6 420.7H2007.9V434.7H2001.6Z"/>
<path fill="#0003e3" d="M2001.6 434.7H2007.9V452.7H2001.6Z"/>
<path fill="#001ff4" d="M2007.9 410.7H2014.3V420.7H2007.9Z"/>
<path fill="#0007e6" d="M2007.9 420.7H2014.3V434.7H2007.9Z"/>
<path fill="#0003e3" d="M2007.9 434.7H2014.3V452.7H2007.9Z"/>
<path fill="#0026f7" d="M2014.3 410.7H2020.6V420.7H2014.3Z"/>
<path fill="#0009e8" d="M2014.3 420.7H2020.6V434.7H2014.3Z"/>
<path fill="#0004e4" d="M2014.3 434.7H2020.6V452.7H2014.3Z"/>
<path fill="#002cf9" d="M2020.6 410.7H2027V420.7H2020.6Z"/>
<path fill="#000be9" d="M2020.6 420.7H2027V434.7H2020.6Z"/>
<path fill="#0004e4" d="M2020.6 434.7H2027V452.7H2020.6Z"/>
<path fill="#001ef4" d="M2027 410.7H2033.3V420.7H2027Z"/>
<path fill="#0006e6" d="M2027 420.7H2033.3V434.7H2027Z"/>
<path fill="#0003e3" d="M2027 434.7H2033.3V452.7H2027Z"/>
<path fill="#001df3" d="M2033.3 410.7H2039.6V420.7H2033.3Z"/>
<path fill="#0006e6" d="M2033.3 420.7H2039.6V434.7H2033.3Z"/>
<path fill="#0003e3" d="M2033.3 434.7H2039.6V452.7H2033.3Z"/>
<path fill="#002bf9" d="M2039.6 410.7H2046V420.7H2039.6Z"/>
<path fill="#000ae9" d="M2039.6 420.7H2046V434.7H2039.6Z"/>
<path fill="#0004e4" d="M2039.6 434.7H2046V452.7H2039.6Z"/>
<path fill="#0033fc" d="M2046 410.7H2052.3V420.7H2046Z"/>
<path fill="#000deb" d="M2046 420.7H2052.3V434.7H2046Z"/>
<path fill="#0005e5" d="M2046 434.7H2052.3V452.7H2046Z"/>
<path fill="#0027f7" d="M2052.3 410.7H2058.7V420.7H2052.3Z"/>
<path fill="#0009e8" d="M2052.3 420.7H2058.7V434.7H2052.3Z"/>
<path fill="#0004e4" d="M2052.3 434.7H2058.7V452.7H2052.3Z"/>
<path fill="#002bf9" d="M2058.7 410.7H2065V420.7H2058.7Z"/>
<path fill="#000be9" d="M2058.7 420.7H2065V434.7H2058.7Z"/>
<path fill="#0004e4" d="M2058.7 434.7H2065V452.7H2058.7Z"/>
<path fill="#0034fc" d="M2065 410.7H2071.4V420.7H2065Z"/>
<path fill="#000eeb" d="M2065 420.7H2071.4V434.7H2065Z"/>
<path fill="#0006e5" d="M2065 434.7H2071.4V452.7H2065Z"/>
<path fill="#001df3" d="M2071.4 410.7H2077.7V420.7H2071.4Z"/>
<path fill="#0006e5" d="M2071.4 420.7H2077.7V434.7H2071.4Z"/>
<path fill="#0002e3" d="M2071.4 434.7H2077.7V452.7H2071.4Z"/>
<path fill="#001ff4" d="M2077.7 410.7H2084V420.7H2077.7Z"/>
<path fill="#0007e6" d="M2077.7 420.7H2084V434.7H2077.7Z"/>
<path fill="#0003e3" d="M2077.7 434.7H2084V452.7H2077.7Z"/>
<path fill="#0029f8" d="M2084 410.7H2090.4V420.7H2084Z"/>
<path fill="#000ae8" d="M2084 420.7H2090.4V434.7H2084Z"/>
<path fill="#0004e4" d="M2084 434.7H2090.4V452.7H2084Z"/>
<path fill="#002af8" d="M2090.4 410.7H2096.7V420.7H2090.4Z"/>
<path fill="#000ae9" d="M2090.4 420.7H2096.7V434.7H2090.4Z"/>
<path fill="#0004e4" d="M2090.4 434.7H2096.7V452.7H2090.4Z"/>
<path fill="#0022f5" d="M2096.7 410.7H2103.1V420.7H2096.7Z"/>
<path fill="#0008e7" d="M2096.7 420.7H2103.1V434.7H2096.7Z"/>
<path fill="#0003e3" d="M2096.7 434.7H2103.1V452.7H2096.7Z"/>
<path fill="#0022f5" d="M2103.1 410.7H2109.4V420.7H2103.1Z"/>
<path fill="#0008e7" d="M2103.1 420.7H2109.4V434.7H2103.1Z"/>
<path fill="#0003e3" d="M2103.1 434.7H2109.4V452.7H2103.1Z"/>
<path fill="#0029f8" d="M2109.4 410.7H2115.7V420.7H2109.4Z"/>
<path fill="#000ae8" d="M2109.4 420.7H2115.7V434.7H2109.4Z"/>
<path fill="#0004e4" d="M2109.4 434.7H2115.7V452.7H2109.4Z"/>
<path fill="#0022f5" d="M2115.7 410.7H2122.1V420.7H2115.7Z"/>
<path fill="#0007e7" d="M2115.7 420.7H2122.1V434.7H2115.7Z"/>
<path fill="#0003e3" d="M2115.7 434.7H2122.1V452.7H2115.7Z"/>
<path fill="#002ffa" d="M2122.1 410.7H2128.4V420.7H2122.1Z"/>
<path fill="#000cea" d="M2122.1 420.7H2128.4V434.7H2122.1Z"/>
<path fill="#0005e5" d="M2122.1 434.7H2128.4V452.7H2122.1Z"/>
<path fill="#002efa" d="M2128.4 410.7H2134.8V420.7H2128.4Z"/>
<path fill="#000cea" d="M2128.4 420.7H2134.8V434.7H2128.4Z"/>
<path fill="#0005e5" d="M2128.4 434.7H2134.8V452.7H2128.4Z"/>
<path fill="#001ef4" d="M2134.8 410.7H2141.1V420.7H2134.8Z"/>
<path fill="#0006e6" d="M2134.8 420.7H2141.1V434.7H2134.8Z"/>
<path fill="#0003e3" d="M2134.8 434.7H2141.1V452.7H2134.8Z"/>
<path fill="#001ef4" d="M2141.1 410.7H2147.4V420.7H2141.1Z"/>
<path fill="#0006e6" d="M2141.1 420.7H2147.4V434.7H2141.1Z"/>
<path fill="#0003e3" d="M2141.1 434.7H2147.4V452.7H2141.1Z"/>
<path fill="#002bf9" d="M2147.4 410.7H2153.8V420.7H2147.4Z"/>
<path fill="#000be9" d="M2147.4 420.7H2153.8V434.7H2147.4Z"/>
<path fill="#0004e4" d="M2147.4 434.7H2153.8V452.7H2147.4Z"/>
<path fill="#0033fc" d="M2153.8 410.7H2160.1V420.7H2153.8Z"/>
<path fill="#000deb" d="M2153.8 420.7H2160.1V434.7H2153.8Z"/>
<path fill="#0005e5" d="M2153.8 434.7H2160.1V452.7H2153.8Z"/>
<path fill="#0024f6" d="M2160.1 410.7H2166.5V420.7H2160.1Z"/>
<path fill="#0008e7" d="M2160.1 420.7H2166.5V434.7H2160.1Z"/>
<path fill="#0003e4" d="M2160.1 434.7H2166.5V452.7H2160.1Z"/>
<path fill="#001cf3" d="M2166.5 410.7H2172.8V420.7H2166.5Z"/>
<path fill="#0006e5" d="M2166.5 420.7H2172.8V434.7H2166.5Z"/>
<path fill="#0002e3" d="M2166.5 434.7H2172.8V452.7H2166.5Z"/>
<path fill="#001df3" d="M2172.8 410.7H2179.1V420.7H2172.8Z"/>
<path fill="#0006e5" d="M2172.8 420.7H2179.1V434.7H2172.8Z"/>
<path fill="#0002e3" d="M2172.8 434.7H2179.1V452.7H2172.8Z"/>
<path fill="#0035fc" d="M2179.1 410.7H2185.5V420.7H2179.1Z"/>
<path fill="#000eeb" d="M2179.1 420.7H2185.5V434.7H2179.1Z"/>
<path fill="#0006e5" d="M2179.1 434.7H2185.5V452.7H2179.1Z"/>
<path fill="#0021f5" d="M2185.5 410.7H2191.8V420.7H2185.5Z"/>
<path fill="#0007e6" d="M2185.5 420.7H2191.8V434.7H2185.5Z"/>
<path fill="#0003e3" d="M2185.5 434.7H2191.8V452.7H2185.5Z"/>
<path fill="#0035fc" d="M2191.8 410.7H2198.2V420.7H2191.8Z"/>
<path fill="#000eeb" d="M2191.8 420.7H2198.2V434.7H2191.8Z"/>
<path fill="#0006e5" d="M2191.8 434.7H2198.2V452.7H2191.8Z"/>
<path fill="#0031fb" d="M2198.2 410.7H2204.5V420.7H2198.2Z"/>
<path fill="#000cea" d="M2198.2 420.7H2204.5V434.7H2198.2Z"/>
<path fill="#0005e5" d="M2198.2 434.7H2204.5V452.7H2198.2Z"/>
<path fill="#0050f5" d="M1114.8 410.7H1122V1117.3H1114.8ZM962.6 410.7H968.9V739.6H962.6Z"/>
<path fill="#0020ea" d="M900.5 410.7H909.9V736.5H900.5Z"/>
<path fill="#0030ee" d="M1171.5 578.9H1177.8V739.6H1171.5Z"/>
<path fill="#0040f2" d="M1190.4 410.7H1196.7V690.8H1190.4Z"/>
<path fill="#ffffff" d="M893.2 614.2H899.5V627.1H893.2ZM911.5 614.2H936.7V627.1H911.5ZM951.9 614.2H962.6V627.1H951.9ZM968.9 614.2H1013.9V627.1H968.9ZM1021.8 614.2H1072.2V627.1H1021.8ZM1084.9 614.2H1114.8V627.1H1084.9ZM1122 614.2H1171.5V627.1H1122ZM1071.6 596.2H1077.9V1092.6H1071.6ZM1058.1 709.7H1072.2V723.9H1058.1ZM1198.3 693.9H1203V706.5H1198.3ZM1267.6 693.9H1272.4V706.5H1267.6ZM1319.6 709.7H1329.1V723.9H1319.6ZM1337.6 709.7H1343.3V723.9H1337.6ZM1355.9 660.9H1399.4V676H1355.9ZM1407.9 660.9H1437.8V676H1407.9ZM1349.6 693.9H1399.4V706.5H1349.6ZM1355.9 706.5H1399.4V723.9H1355.9ZM1407.9 693.9H1437.8V723.9H1407.9ZM1355.9 741.2H1437.8V760.1H1355.9ZM1355.9 782.2H1437.8V800.2H1355.9ZM893.2 823.2H1013.9V841.1H893.2ZM893.2 976.6H1013.9V1001.9H893.2ZM1021.8 823.2H1114.8V841.1H1021.8ZM1021.8 976.6H1114.8V1001.9H1021.8ZM1122 823.2H1273.3V841.1H1122ZM1122 976.6H1273.3V1001.9H1122ZM1280.3 823.2H1437.8V841.1H1280.3ZM1280.3 976.6H1437.8V1001.9H1280.3ZM893.2 890.9H1013.9V917.1H893.2ZM893.2 1091H1013.9V1117.3H893.2ZM1021.8 890.9H1114.8V917.1H1021.8ZM1021.8 1091H1114.8V1117.3H1021.8ZM1122 890.9H1185.1V917.1H1122ZM1122 1091H1185.1V1117.3H1122ZM1192 890.9H1273.3V917.1H1192ZM1192 1091H1273.3V1117.3H1192ZM1280.3 890.9H1437.8V917.1H1280.3ZM1280.3 1091H1437.8V1117.3H1280.3ZM1445.7 919.3H1463V946.1H1445.7ZM1483.5 919.3H1622.2V946.1H1483.5ZM1465.6 890.9H1470V917.1H1465.6ZM1465.6 947.6H1470V1001.9H1465.6ZM1489.8 890.9H1494.5V1117.3H1489.8ZM1445.7 1031.8H1451.4V1059.5H1445.7ZM1458.3 1031.8H1476.3V1059.5H1458.3ZM1458.3 1059.5H1470V1117.3H1458.3ZM1494.5 1031.8H1527.6V1059.5H1494.5ZM1674.8 1003.4H1678.9V1031.2H1674.8ZM1667.3 1090.1H1671V1117.3H1667.3ZM1674.8 1090.1H1678.9V1117.3H1674.8Z"/>
</g></g>
<g shape-rendering="auto"><path d="M225.8 116V398M225.8 410.5V1120.4M301.9 116V398M301.9 410.5V1120.4M378 116V398M378 410.5V1120.4M454 116V398M454 410.5V1120.4M530.1 116V398M530.1 410.5V1120.4M606.2 116V398M606.2 410.5V1120.4M682.3 116V398M682.3 410.5V1120.4M758.4 116V398M758.4 410.5V1120.4M834.5 116V398M834.5 410.5V1120.4M910.6 116V398M910.6 410.5V1120.4M986.6 116V398M986.6 410.5V1120.4M1062.7 116V398M1062.7 410.5V1120.4M1138.8 116V398M1138.8 410.5V1120.4M1214.9 116V398M1214.9 410.5V1120.4M1291 116V398M1291 410.5V1120.4M1367.1 116V398M1367.1 410.5V1120.4M1443.1 116V398M1443.1 410.5V1120.4M1519.2 116V398M1519.2 410.5V1120.4M1595.3 116V398M1595.3 410.5V1120.4M1671.4 116V398M1671.4 410.5V1120.4M1747.5 116V398M1747.5 410.5V1120.4M1823.6 116V398M1823.6 410.5V1120.4M1899.7 116V398M1899.7 410.5V1120.4M1975.7 116V398M1975.7 410.5V1120.4M2051.8 116V398M2051.8 410.5V1120.4M2127.9 116V398M2127.9 410.5V1120.4" stroke="#b0b0b0" stroke-width="3" fill="none" opacity="0.55"/>
<path d="M149.7 259.8H2204M149.7 450.4H2204M149.7 490.9H2204M149.7 531.4H2204M149.7 571.8H2204M149.7 612.2H2204M149.7 652.7H2204M149.7 693.2H2204M149.7 733.6H2204M149.7 774H2204M149.7 814.5H2204M149.7 855H2204M149.7 895.4H2204M149.7 935.9H2204M149.7 976.3H2204M149.7 1016.8H2204M149.7 1057.2H2204M149.7 1097.7H2204" stroke="#b0b0b0" stroke-width="3" fill="none" opacity="0.55"/>
<path d="M149.7 116V398M149.7 410.5V1120.4M148.3 117.4H2205M148.3 1120.4H2205" stroke="#000" stroke-opacity="0.45" stroke-width="2.8" fill="none"/>
<path d="M2204.3 116V398M2204.3 410.5V1120.4" stroke="#000" stroke-opacity="0.3" stroke-width="1.8" fill="none"/>
<path d="M149.7 1120.4v7M225.8 1120.4v7M301.9 1120.4v7M378 1120.4v7M454 1120.4v7M530.1 1120.4v7M606.2 1120.4v7M682.3 1120.4v7M758.4 1120.4v7M834.5 1120.4v7M910.6 1120.4v7M986.6 1120.4v7M1062.7 1120.4v7M1138.8 1120.4v7M1214.9 1120.4v7M1291 1120.4v7M1367.1 1120.4v7M1443.1 1120.4v7M1519.2 1120.4v7M1595.3 1120.4v7M1671.4 1120.4v7M1747.5 1120.4v7M1823.6 1120.4v7M1899.7 1120.4v7M1975.7 1120.4v7M2051.8 1120.4v7M2127.9 1120.4v7M149.7 116h-7M149.7 259.8h-7M149.7 450.4h-7M149.7 490.9h-7M149.7 531.4h-7M149.7 571.8h-7M149.7 612.2h-7M149.7 652.7h-7M149.7 693.2h-7M149.7 733.6h-7M149.7 774h-7M149.7 814.5h-7M149.7 855h-7M149.7 895.4h-7M149.7 935.9h-7M149.7 976.3h-7M149.7 1016.8h-7M149.7 1057.2h-7M149.7 1097.7h-7" stroke="#000" stroke-opacity="0.7" stroke-width="2.2" fill="none"/>
<path d="M149.7 116v-6.5M225.8 116v-6.5M301.9 116v-6.5M378 116v-6.5M454 116v-6.5M530.1 116v-6.5M606.2 116v-6.5M682.3 116v-6.5M758.4 116v-6.5M834.5 116v-6.5M910.6 116v-6.5M986.6 116v-6.5M1062.7 116v-6.5M1138.8 116v-6.5M1214.9 116v-6.5M1291 116v-6.5M1367.1 116v-6.5M1443.1 116v-6.5M1519.2 116v-6.5M1595.3 116v-6.5M1671.4 116v-6.5M1747.5 116v-6.5M1823.6 116v-6.5M1899.7 116v-6.5M1975.7 116v-6.5M2051.8 116v-6.5M2127.9 116v-6.5" stroke="#000" stroke-opacity="0.5" stroke-width="2.2" fill="none"/>
<path d="M133.9 405.5L165.5 390.5" stroke="#222" stroke-width="2.6"/>
<path d="M133.9 418L165.5 403" stroke="#222" stroke-width="2.6"/>
<path d="M2188.2 405.5L2219.8 390.5" stroke="#222" stroke-width="2.6"/>
<path d="M2188.2 418L2219.8 403" stroke="#222" stroke-width="2.6"/>
<g font-family="'DejaVu Sans','Liberation Sans',sans-serif" font-size="40.6" fill="#111"><text x="130.5" y="133.4" text-anchor="end">0</text><text x="130.5" y="275.8" text-anchor="end">50</text><text x="130.5" y="426" text-anchor="end">100</text><text x="130.5" y="466.4" text-anchor="end">150</text><text x="130.5" y="506.9" text-anchor="end">200</text><text x="130.5" y="547.4" text-anchor="end">250</text><text x="130.5" y="587.8" text-anchor="end">300</text><text x="130.5" y="628.2" text-anchor="end">350</text><text x="130.5" y="668.7" text-anchor="end">400</text><text x="130.5" y="709.2" text-anchor="end">450</text><text x="130.5" y="749.6" text-anchor="end">500</text><text x="130.5" y="790" text-anchor="end">550</text><text x="130.5" y="830.5" text-anchor="end">600</text><text x="130.5" y="871" text-anchor="end">650</text><text x="130.5" y="911.4" text-anchor="end">700</text><text x="130.5" y="951.9" text-anchor="end">750</text><text x="130.5" y="992.3" text-anchor="end">800</text><text x="130.5" y="1032.8" text-anchor="end">850</text><text x="130.5" y="1073.2" text-anchor="end">900</text><text x="130.5" y="1113.7" text-anchor="end">950</text><text x="148.9" y="1168" text-anchor="middle" font-size="43.6">1993</text><text x="529.3" y="1168" text-anchor="middle" font-size="43.6">1998</text><text x="909.8" y="1168" text-anchor="middle" font-size="43.6">2003</text><text x="1290.2" y="1168" text-anchor="middle" font-size="43.6">2008</text><text x="1670.6" y="1168" text-anchor="middle" font-size="43.6">2013</text><text x="2051" y="1168" text-anchor="middle" font-size="43.6">2018</text></g>
<text x="589.7" y="84" font-family="'DejaVu Sans','Liberation Sans',sans-serif" font-size="56.2" fill="#111">Hovmöller diagram for T</text>
<text x="1715.2" y="84" text-anchor="end" font-family="'DejaVu Sans','Liberation Sans',sans-serif" font-size="60" fill="#111">(°C) RMSD (a)</text>
<rect x="2231" y="173.30" width="49" height="7.55" fill="#e20200"/><rect x="2231" y="180.35" width="49" height="7.55" fill="#e30600"/><rect x="2231" y="187.40" width="49" height="7.55" fill="#e50a00"/><rect x="2231" y="194.45" width="49" height="7.55" fill="#e60e00"/><rect x="2231" y="201.49" width="49" height="7.55" fill="#e71200"/><rect x="2231" y="208.54" width="49" height="7.55" fill="#e91600"/><rect x="2231" y="215.59" width="49" height="7.55" fill="#ea1a00"/><rect x="2231" y="222.64" width="49" height="7.55" fill="#ec1e00"/><rect x="2231" y="229.69" width="49" height="7.55" fill="#ed2200"/><rect x="2231" y="236.74" width="49" height="7.55" fill="#ee2600"/><rect x="2231" y="243.78" width="49" height="7.55" fill="#f02a00"/><rect x="2231" y="250.83" width="49" height="7.55" fill="#f12e00"/><rect x="2231" y="257.88" width="49" height="7.55" fill="#f33200"/><rect x="2231" y="264.93" width="49" height="7.55" fill="#f43600"/><rect x="2231" y="271.98" width="49" height="7.55" fill="#f53a00"/><rect x="2231" y="279.03" width="49" height="7.55" fill="#f73e00"/><rect x="2231" y="286.08" width="49" height="7.55" fill="#f84200"/><rect x="2231" y="293.12" width="49" height="7.55" fill="#fa4600"/><rect x="2231" y="300.17" width="49" height="7.55" fill="#fb4a00"/><rect x="2231" y="307.22" width="49" height="7.55" fill="#fc4e00"/><rect x="2231" y="314.27" width="49" height="7.55" fill="#fe5200"/><rect x="2231" y="321.32" width="49" height="7.55" fill="#ff5600"/><rect x="2231" y="328.37" width="49" height="7.55" fill="#ff5b00"/><rect x="2231" y="335.41" width="49" height="7.55" fill="#ff6000"/><rect x="2231" y="342.46" width="49" height="7.55" fill="#ff6500"/><rect x="2231" y="349.51" width="49" height="7.55" fill="#ff6a00"/><rect x="2231" y="356.56" width="49" height="7.55" fill="#ff7000"/><rect x="2231" y="363.61" width="49" height="7.55" fill="#ff7500"/><rect x="2231" y="370.66" width="49" height="7.55" fill="#ff7a00"/><rect x="2231" y="377.70" width="49" height="7.55" fill="#ff7f00"/><rect x="2231" y="384.75" width="49" height="7.55" fill="#ff8400"/><rect x="2231" y="391.80" width="49" height="7.55" fill="#ff8900"/><rect x="2231" y="398.85" width="49" height="7.55" fill="#ff8f00"/><rect x="2231" y="405.90" width="49" height="7.55" fill="#ff9400"/><rect x="2231" y="412.95" width="49" height="7.55" fill="#ff9900"/><rect x="2231" y="420.00" width="49" height="7.55" fill="#ff9e00"/><rect x="2231" y="427.04" width="49" height="7.55" fill="#ffa300"/><rect x="2231" y="434.09" width="49" height="7.55" fill="#ffa800"/><rect x="2231" y="441.14" width="49" height="7.55" fill="#ffae00"/><rect x="2231" y="448.19" width="49" height="7.55" fill="#ffb300"/><rect x="2231" y="455.24" width="49" height="7.55" fill="#ffb800"/><rect x="2231" y="462.29" width="49" height="7.55" fill="#ffbd00"/><rect x="2231" y="469.33" width="49" height="7.55" fill="#ffc200"/><rect x="2231" y="476.38" width="49" height="7.55" fill="#ffc700"/><rect x="2231" y="483.43" width="49" height="7.55" fill="#ffcc00"/><rect x="2231" y="490.48" width="49" height="7.55" fill="#ffd000"/><rect x="2231" y="497.53" width="49" height="7.55" fill="#ffd500"/><rect x="2231" y="504.58" width="49" height="7.55" fill="#ffda00"/><rect x="2231" y="511.63" width="49" height="7.55" fill="#ffde00"/><rect x="2231" y="518.67" width="49" height="7.55" fill="#ffe300"/><rect x="2231" y="525.72" width="49" height="7.55" fill="#ffe800"/><rect x="2231" y="532.77" width="49" height="7.55" fill="#ffed00"/><rect x="2231" y="539.82" width="49" height="7.55" fill="#fff100"/><rect x="2231" y="546.87" width="49" height="7.55" fill="#fff600"/><rect x="2231" y="553.92" width="49" height="7.55" fill="#fffb00"/><rect x="2231" y="560.96" width="49" height="7.55" fill="#feff01"/><rect x="2231" y="568.01" width="49" height="7.55" fill="#efff11"/><rect x="2231" y="575.06" width="49" height="7.55" fill="#e0ff21"/><rect x="2231" y="582.11" width="49" height="7.55" fill="#d1ff31"/><rect x="2231" y="589.16" width="49" height="7.55" fill="#c2ff42"/><rect x="2231" y="596.21" width="49" height="7.55" fill="#b4ff50"/><rect x="2231" y="603.25" width="49" height="7.55" fill="#a6ff5e"/><rect x="2231" y="610.30" width="49" height="7.55" fill="#97ff6d"/><rect x="2231" y="617.35" width="49" height="7.55" fill="#89ff7b"/><rect x="2231" y="624.40" width="49" height="7.55" fill="#7dff8b"/><rect x="2231" y="631.45" width="49" height="7.55" fill="#73ff9c"/><rect x="2231" y="638.50" width="49" height="7.55" fill="#6affae"/><rect x="2231" y="645.55" width="49" height="7.55" fill="#60ffbf"/><rect x="2231" y="652.59" width="49" height="7.55" fill="#56ffd0"/><rect x="2231" y="659.64" width="49" height="7.55" fill="#4cffe2"/><rect x="2231" y="666.69" width="49" height="7.55" fill="#43fff3"/><rect x="2231" y="673.74" width="49" height="7.55" fill="#3afeff"/><rect x="2231" y="680.79" width="49" height="7.55" fill="#33fbff"/><rect x="2231" y="687.84" width="49" height="7.55" fill="#2bf9ff"/><rect x="2231" y="694.88" width="49" height="7.55" fill="#24f6ff"/><rect x="2231" y="701.93" width="49" height="7.55" fill="#1df3ff"/><rect x="2231" y="708.98" width="49" height="7.55" fill="#16f1ff"/><rect x="2231" y="716.03" width="49" height="7.55" fill="#12eeff"/><rect x="2231" y="723.08" width="49" height="7.55" fill="#10ebff"/><rect x="2231" y="730.13" width="49" height="7.55" fill="#0ee8ff"/><rect x="2231" y="737.17" width="49" height="7.55" fill="#0be5ff"/><rect x="2231" y="744.22" width="49" height="7.55" fill="#09e2ff"/><rect x="2231" y="751.27" width="49" height="7.55" fill="#07dfff"/><rect x="2231" y="758.32" width="49" height="7.55" fill="#04dcff"/><rect x="2231" y="765.37" width="49" height="7.55" fill="#02d9ff"/><rect x="2231" y="772.42" width="49" height="7.55" fill="#00d6ff"/><rect x="2231" y="779.47" width="49" height="7.55" fill="#00d2ff"/><rect x="2231" y="786.51" width="49" height="7.55" fill="#00cdff"/><rect x="2231" y="793.56" width="49" height="7.55" fill="#00c8ff"/><rect x="2231" y="800.61" width="49" height="7.55" fill="#00c3ff"/><rect x="2231" y="807.66" width="49" height="7.55" fill="#00bfff"/><rect x="2231" y="814.71" width="49" height="7.55" fill="#00baff"/><rect x="2231" y="821.76" width="49" height="7.55" fill="#00b5ff"/><rect x="2231" y="828.80" width="49" height="7.55" fill="#00b1ff"/><rect x="2231" y="835.85" width="49" height="7.55" fill="#00acff"/><rect x="2231" y="842.90" width="49" height="7.55" fill="#00a7ff"/><rect x="2231" y="849.95" width="49" height="7.55" fill="#00a3ff"/><rect x="2231" y="857.00" width="49" height="7.55" fill="#009fff"/><rect x="2231" y="864.05" width="49" height="7.55" fill="#009aff"/><rect x="2231" y="871.10" width="49" height="7.55" fill="#0096ff"/><rect x="2231" y="878.14" width="49" height="7.55" fill="#0092ff"/><rect x="2231" y="885.19" width="49" height="7.55" fill="#008eff"/><rect x="2231" y="892.24" width="49" height="7.55" fill="#008aff"/><rect x="2231" y="899.29" width="49" height="7.55" fill="#0085ff"/><rect x="2231" y="906.34" width="49" height="7.55" fill="#0081ff"/><rect x="2231" y="913.39" width="49" height="7.55" fill="#007dff"/><rect x="2231" y="920.43" width="49" height="7.55" fill="#0079ff"/><rect x="2231" y="927.48" width="49" height="7.55" fill="#0073ff"/><rect x="2231" y="934.53" width="49" height="7.55" fill="#006eff"/><rect x="2231" y="941.58" width="49" height="7.55" fill="#0068ff"/><rect x="2231" y="948.63" width="49" height="7.55" fill="#0062ff"/><rect x="2231" y="955.68" width="49" height="7.55" fill="#005dff"/><rect x="2231" y="962.73" width="49" height="7.55" fill="#0057ff"/><rect x="2231" y="969.77" width="49" height="7.55" fill="#0052ff"/><rect x="2231" y="976.82" width="49" height="7.55" fill="#004cff"/><rect x="2231" y="983.87" width="49" height="7.55" fill="#0046ff"/><rect x="2231" y="990.92" width="49" height="7.55" fill="#0041ff"/><rect x="2231" y="997.97" width="49" height="7.55" fill="#003bff"/><rect x="2231" y="1005.02" width="49" height="7.55" fill="#0034fc"/><rect x="2231" y="1012.06" width="49" height="7.55" fill="#002cf9"/><rect x="2231" y="1019.11" width="49" height="7.55" fill="#0025f6"/><rect x="2231" y="1026.16" width="49" height="7.55" fill="#001ef4"/><rect x="2231" y="1033.21" width="49" height="7.55" fill="#0017f1"/><rect x="2231" y="1040.26" width="49" height="7.55" fill="#0012ee"/><rect x="2231" y="1047.31" width="49" height="7.55" fill="#000eeb"/><rect x="2231" y="1054.35" width="49" height="7.55" fill="#000ae8"/><rect x="2231" y="1061.40" width="49" height="7.55" fill="#0006e5"/><rect x="2231" y="1068.45" width="49" height="7.55" fill="#0002e2"/>
<rect x="2231" y="173.3" width="49" height="902.2" fill="none" stroke="#000" stroke-opacity="0.4" stroke-width="2.2"/>
<path d="M2231 925.1h7M2280 925.1h-7M2231 774.8h7M2280 774.8h-7M2231 624.4h7M2280 624.4h-7M2231 474h7M2280 474h-7M2231 323.7h7M2280 323.7h-7" stroke="#444" stroke-width="2"/>
<g font-family="'DejaVu Sans','Liberation Sans',sans-serif" font-size="35" fill="#222"><text x="2286.6" y="1090.1">0.0</text><text x="2286.6" y="939.7">0.5</text><text x="2286.6" y="789.4">1.0</text><text x="2286.6" y="639">1.5</text><text x="2286.6" y="488.6">2.0</text><text x="2286.6" y="338.3">2.5</text><text x="2286.6" y="187.9">3.0</text></g></g>
<g clip-path="url(#ct1)"><g filter="url(#bl)">
<g transform="translate(157.10,1393.00) scale(6.3410,14.300)" fill="none" stroke-width="1.04">
<path stroke="#82ff82" d="M0 0.5h1M111 0.5h1M297 0.5h1M115 1.5h1M125 1.5h1M134 1.5h1M161 2.5h2M74 19.5h1"/>
<path stroke="#006cff" d="M1 0.5h1M11 0.5h1M18 0.5h3M25 0.5h2M41 0.5h1M45 0.5h1M76 0.5h2M84 0.5h1M93 0.5h1M116 0.5h1M127 0.5h1M137 0.5h2M150 0.5h1M153 0.5h2M158 0.5h2M174 0.5h2M180 0.5h1M182 0.5h1M184 0.5h2M187 0.5h2M190 0.5h1M194 0.5h1M196 0.5h1M198 0.5h1M216 0.5h1M230 0.5h1M232 0.5h2M236 0.5h1M247 0.5h1M253 0.5h1M258 0.5h2M265 0.5h1M278 0.5h1M282 0.5h4M292 0.5h1M316 0.5h1M1 1.5h2M11 1.5h1M14 1.5h2M18 1.5h1M24 1.5h3M31 1.5h1M33 1.5h1M45 1.5h1M55 1.5h1M65 1.5h1M67 1.5h1M75 1.5h1M86 1.5h1M101 1.5h1M116 1.5h1M135 1.5h1M182 1.5h1M185 1.5h1M187 1.5h3M194 1.5h3M204 1.5h1M208 1.5h1M216 1.5h1M219 1.5h1M230 1.5h1M232 1.5h1M247 1.5h1M253 1.5h1M258 1.5h2M265 1.5h1M269 1.5h1M281 1.5h1M304 1.5h1M316 1.5h1M320 1.5h2M1 2.5h3M11 2.5h1M14 2.5h1M18 2.5h2M24 2.5h3M31 2.5h2M45 2.5h1M51 2.5h1M63 2.5h2M67 2.5h1M78 2.5h2M86 2.5h1M100 2.5h1M111 2.5h2M121 2.5h1M124 2.5h1M135 2.5h2M182 2.5h1M184 2.5h1M187 2.5h2M195 2.5h2M206 2.5h1M208 2.5h1M258 2.5h1M265 2.5h1M268 2.5h1M301 2.5h1M307 2.5h1M317 2.5h1M320 2.5h1M7 3.5h1M14 3.5h5M25 3.5h2M28 3.5h1M30 3.5h2M45 3.5h1M55 3.5h1M67 3.5h1M86 3.5h1M100 3.5h1M104 3.5h1M111 3.5h1M115 3.5h1M121 3.5h1M124 3.5h1M139 3.5h1M148 3.5h1M265 3.5h1M1 4.5h1M5 4.5h1M7 4.5h1M24 4.5h3M45 4.5h1M50 4.5h2M54 4.5h2M63 4.5h3M67 4.5h1M76 4.5h5M86 4.5h1M115 4.5h1M121 4.5h1M124 4.5h1M139 4.5h1M148 4.5h1M265 4.5h1M25 5.5h2M45 5.5h1M55 5.5h1M67 5.5h1M86 5.5h1M104 5.5h1M121 5.5h1M124 5.5h1M139 5.5h1M148 5.5h1M265 5.5h1M5 6.5h1M11 6.5h3M25 6.5h2M39 6.5h1M45 6.5h1M51 6.5h1M66 6.5h1M71 6.5h1M74 6.5h3M93 6.5h1M114 6.5h1M265 6.5h1M11 7.5h2M25 7.5h2M45 7.5h1M67 7.5h1M86 7.5h1M120 7.5h1M129 7.5h1M132 7.5h1M134 7.5h1M140 7.5h3M151 7.5h1M153 7.5h1M160 7.5h1M174 7.5h1M181 7.5h1M187 7.5h1M204 7.5h1M209 7.5h1M211 7.5h2M214 7.5h1M217 7.5h1M222 7.5h1M227 7.5h1M238 7.5h1M240 7.5h3M265 7.5h1M269 7.5h1M275 7.5h1M297 7.5h1M317 7.5h1M10 8.5h1M13 8.5h2M17 8.5h1M25 8.5h2M28 8.5h2M64 8.5h2M67 8.5h1M71 8.5h1M85 8.5h1M102 8.5h1M105 8.5h1M120 8.5h1M123 8.5h2M129 8.5h1M131 8.5h1M134 8.5h1M140 8.5h3M151 8.5h1M153 8.5h2M160 8.5h1M179 8.5h1M181 8.5h1M187 8.5h1M200 8.5h1M209 8.5h1M211 8.5h1M214 8.5h1M216 8.5h2M222 8.5h1M238 8.5h1M242 8.5h1M252 8.5h1M265 8.5h1M269 8.5h1M275 8.5h1M294 8.5h1M297 8.5h1M308 8.5h1M25 9.5h2M38 9.5h1M51 9.5h1M120 9.5h1M123 9.5h2M129 9.5h1M131 9.5h1M134 9.5h1M140 9.5h3M151 9.5h1M153 9.5h2M160 9.5h1M179 9.5h1M181 9.5h1M187 9.5h1M191 9.5h2M197 9.5h1M200 9.5h1M204 9.5h1M209 9.5h1M211 9.5h1M214 9.5h1M216 9.5h2M222 9.5h1M238 9.5h1M242 9.5h1M252 9.5h1M265 9.5h1M269 9.5h1M275 9.5h1M294 9.5h1M297 9.5h1M308 9.5h1M5 10.5h1M25 10.5h2M53 10.5h1M72 10.5h7M84 10.5h1M89 10.5h1M116 10.5h1M118 10.5h1M120 10.5h5M129 10.5h1M131 10.5h2M134 10.5h2M140 10.5h3M151 10.5h1M153 10.5h3M160 10.5h1M174 10.5h1M178 10.5h5M187 10.5h2M200 10.5h1M209 10.5h1M211 10.5h1M214 10.5h1M216 10.5h2M222 10.5h1M227 10.5h1M238 10.5h5M251 10.5h2M265 10.5h1M268 10.5h2M275 10.5h2M280 10.5h1M294 10.5h1M296 10.5h2M303 10.5h1M308 10.5h2M317 10.5h1M10 11.5h1M19 11.5h1M25 11.5h2M45 11.5h1M52 11.5h2M89 11.5h1M116 11.5h1M118 11.5h1M120 11.5h5M129 11.5h1M131 11.5h2M134 11.5h2M140 11.5h3M151 11.5h1M153 11.5h3M160 11.5h1M174 11.5h1M178 11.5h5M187 11.5h2M191 11.5h2M197 11.5h1M200 11.5h1M203 11.5h2M209 11.5h1M211 11.5h1M214 11.5h1M216 11.5h2M222 11.5h1M227 11.5h1M238 11.5h5M251 11.5h2M265 11.5h1M268 11.5h2M275 11.5h2M280 11.5h1M294 11.5h1M296 11.5h2M303 11.5h1M308 11.5h2M317 11.5h1M25 12.5h2M52 12.5h2M80 12.5h1M89 12.5h1M116 12.5h1M118 12.5h1M120 12.5h1M122 12.5h4M129 12.5h1M131 12.5h2M134 12.5h1M136 12.5h1M140 12.5h1M142 12.5h1M149 12.5h1M151 12.5h1M153 12.5h3M160 12.5h1M164 12.5h1M174 12.5h1M180 12.5h3M185 12.5h1M187 12.5h1M191 12.5h2M195 12.5h1M200 12.5h1M209 12.5h4M214 12.5h1M216 12.5h2M222 12.5h2M227 12.5h1M238 12.5h5M250 12.5h1M252 12.5h1M265 12.5h1M267 12.5h3M273 12.5h1M276 12.5h1M280 12.5h1M288 12.5h1M294 12.5h1M296 12.5h2M308 12.5h1M312 12.5h1M317 12.5h1M1 13.5h1M8 13.5h1M25 13.5h2M52 13.5h2M80 13.5h1M89 13.5h1M116 13.5h1M118 13.5h1M120 13.5h1M122 13.5h4M129 13.5h1M131 13.5h2M134 13.5h1M136 13.5h1M140 13.5h1M142 13.5h1M149 13.5h1M151 13.5h1M153 13.5h3M160 13.5h1M164 13.5h1M174 13.5h1M180 13.5h3M185 13.5h1M187 13.5h2M191 13.5h2M194 13.5h2M197 13.5h1M200 13.5h1M204 13.5h1M209 13.5h4M214 13.5h1M216 13.5h2M222 13.5h2M227 13.5h1M238 13.5h5M250 13.5h1M252 13.5h1M265 13.5h1M267 13.5h3M273 13.5h1M276 13.5h1M280 13.5h1M288 13.5h1M294 13.5h1M296 13.5h2M308 13.5h1M312 13.5h1M317 13.5h1M8 14.5h1M25 14.5h2M45 14.5h1M52 14.5h2M89 14.5h1M92 14.5h1M116 14.5h1M118 14.5h1M122 14.5h1M125 14.5h2M129 14.5h1M131 14.5h1M134 14.5h1M141 14.5h1M152 14.5h4M158 14.5h1M164 14.5h1M166 14.5h1M172 14.5h1M175 14.5h1M179 14.5h1M181 14.5h3M185 14.5h1M187 14.5h1M200 14.5h1M207 14.5h1M210 14.5h1M212 14.5h1M216 14.5h1M222 14.5h2M227 14.5h1M232 14.5h2M237 14.5h6M250 14.5h1M252 14.5h1M263 14.5h1M265 14.5h1M268 14.5h2M273 14.5h1M275 14.5h2M280 14.5h1M288 14.5h1M294 14.5h1M297 14.5h1M308 14.5h2M317 14.5h1M0 15.5h2M25 15.5h2M28 15.5h1M39 15.5h1M52 15.5h4M89 15.5h1M92 15.5h1M102 15.5h1M114 15.5h1M116 15.5h1M118 15.5h1M122 15.5h1M125 15.5h2M129 15.5h1M131 15.5h1M134 15.5h1M141 15.5h1M152 15.5h4M158 15.5h1M164 15.5h1M166 15.5h1M172 15.5h1M175 15.5h1M179 15.5h1M181 15.5h3M185 15.5h1M187 15.5h1M191 15.5h2M194 15.5h1M196 15.5h2M200 15.5h1M203 15.5h2M207 15.5h1M210 15.5h1M212 15.5h1M216 15.5h1M222 15.5h2M227 15.5h1M232 15.5h2M237 15.5h6M250 15.5h1M252 15.5h1M263 15.5h1M265 15.5h1M268 15.5h2M273 15.5h1M275 15.5h2M280 15.5h1M288 15.5h1M294 15.5h1M297 15.5h1M308 15.5h2M317 15.5h1M8 16.5h1M25 16.5h2M52 16.5h2M89 16.5h1M92 16.5h1M102 16.5h1M116 16.5h1M118 16.5h1M120 16.5h1M122 16.5h4M131 16.5h2M134 16.5h2M141 16.5h1M144 16.5h1M151 16.5h2M154 16.5h1M158 16.5h1M161 16.5h1M164 16.5h1M166 16.5h1M172 16.5h1M174 16.5h2M178 16.5h2M181 16.5h2M185 16.5h1M187 16.5h2M195 16.5h2M207 16.5h1M209 16.5h1M212 16.5h1M216 16.5h2M222 16.5h2M227 16.5h1M232 16.5h1M238 16.5h5M246 16.5h1M250 16.5h1M252 16.5h1M263 16.5h1M265 16.5h1M268 16.5h2M275 16.5h2M280 16.5h1M288 16.5h1M294 16.5h1M296 16.5h2M299 16.5h1M303 16.5h1M309 16.5h1M311 16.5h1M314 16.5h2M317 16.5h1M322 16.5h1M1 17.5h1M8 17.5h3M25 17.5h2M52 17.5h2M89 17.5h1M92 17.5h1M116 17.5h1M118 17.5h1M120 17.5h1M122 17.5h4M131 17.5h2M134 17.5h2M141 17.5h1M144 17.5h1M151 17.5h2M154 17.5h1M158 17.5h1M161 17.5h1M164 17.5h1M166 17.5h1M172 17.5h1M174 17.5h2M178 17.5h2M181 17.5h2M185 17.5h1M187 17.5h2M191 17.5h2M195 17.5h3M203 17.5h1M207 17.5h1M209 17.5h1M212 17.5h1M216 17.5h2M222 17.5h2M227 17.5h1M232 17.5h1M238 17.5h5M246 17.5h1M250 17.5h1M252 17.5h1M263 17.5h1M265 17.5h1M268 17.5h2M275 17.5h2M280 17.5h1M288 17.5h1M294 17.5h1M296 17.5h2M299 17.5h1M303 17.5h1M309 17.5h1M311 17.5h1M314 17.5h2M317 17.5h1M322 17.5h1M8 18.5h3M25 18.5h2M28 18.5h1M52 18.5h2M65 18.5h1M92 18.5h1M97 18.5h1M114 18.5h1M116 18.5h1M118 18.5h1M121 18.5h3M125 18.5h1M129 18.5h1M131 18.5h2M134 18.5h1M141 18.5h2M154 18.5h2M158 18.5h1M164 18.5h1M166 18.5h2M174 18.5h1M179 18.5h4M188 18.5h1M195 18.5h2M200 18.5h1M208 18.5h3M212 18.5h1M216 18.5h2M221 18.5h3M227 18.5h1M232 18.5h1M237 18.5h6M250 18.5h2M263 18.5h1M265 18.5h1M268 18.5h3M273 18.5h1M275 18.5h2M288 18.5h1M294 18.5h1M296 18.5h2M308 18.5h2M311 18.5h2M317 18.5h1M2 19.5h3M6 19.5h1M8 19.5h3M18 19.5h3M25 19.5h2M52 19.5h2M92 19.5h1M116 19.5h1M118 19.5h1M121 19.5h3M125 19.5h1M129 19.5h1M131 19.5h2M134 19.5h1M141 19.5h2M154 19.5h2M158 19.5h1M164 19.5h1M166 19.5h2M174 19.5h1M179 19.5h4M188 19.5h1M190 19.5h3M194 19.5h3M200 19.5h1M203 19.5h1M208 19.5h3M212 19.5h1M216 19.5h2M221 19.5h3M227 19.5h1M232 19.5h1M237 19.5h6M250 19.5h2M263 19.5h1M265 19.5h1M268 19.5h3M273 19.5h1M275 19.5h2M288 19.5h1M294 19.5h1M296 19.5h2M308 19.5h2M311 19.5h2M317 19.5h1"/>
<path stroke="#00a0ff" d="M2 0.5h2M31 0.5h3M52 0.5h2M65 0.5h3M79 0.5h1M86 0.5h1M121 0.5h1M139 0.5h2M145 0.5h1M189 0.5h1M195 0.5h1M200 0.5h1M204 0.5h1M208 0.5h1M219 0.5h1M271 0.5h3M302 0.5h1M320 0.5h2M3 1.5h1M121 1.5h1M136 1.5h1M139 1.5h1M160 1.5h1M170 1.5h2M207 1.5h1M268 1.5h1M291 1.5h1M301 1.5h1M307 1.5h1M4 2.5h1M7 2.5h1M15 2.5h1M71 2.5h1M139 2.5h1M149 2.5h1M160 2.5h1M207 2.5h1M231 2.5h1M297 2.5h1M128 3.5h1M161 3.5h2M176 3.5h1M196 3.5h1M231 3.5h1M280 3.5h1M128 4.5h1M161 4.5h2M196 4.5h1M280 4.5h1M114 5.5h1M128 5.5h1M196 5.5h1M280 5.5h1M0 6.5h2M128 6.5h1M152 6.5h1M196 6.5h1M280 6.5h1M7 7.5h1M152 7.5h1M196 7.5h1M280 7.5h1M0 8.5h2M86 8.5h3M90 8.5h1M152 8.5h1M196 8.5h1M280 8.5h1M105 9.5h1M152 9.5h1M196 9.5h1M280 9.5h1M196 10.5h1M38 11.5h1M196 11.5h1M5 12.5h1M45 12.5h1M105 12.5h1M196 12.5h1M196 13.5h1M7 14.5h1M120 14.5h1M123 14.5h2M132 14.5h1M140 14.5h1M142 14.5h1M151 14.5h1M160 14.5h1M174 14.5h1M196 14.5h1M209 14.5h1M211 14.5h1M214 14.5h1M217 14.5h1M117 15.5h1M120 15.5h1M123 15.5h2M132 15.5h1M140 15.5h1M142 15.5h1M151 15.5h1M160 15.5h1M174 15.5h1M209 15.5h1M211 15.5h1M214 15.5h1M217 15.5h1M114 16.5h1M117 16.5h1M129 16.5h1M140 16.5h1M142 16.5h1M153 16.5h1M155 16.5h1M160 16.5h1M204 16.5h1M211 16.5h1M214 16.5h1M114 17.5h1M129 17.5h1M140 17.5h1M142 17.5h1M153 17.5h1M155 17.5h1M160 17.5h1M211 17.5h1M214 17.5h1M0 18.5h2M39 18.5h1M120 18.5h1M124 18.5h1M140 18.5h1M151 18.5h1M153 18.5h1M160 18.5h1M187 18.5h1M211 18.5h1M214 18.5h1M252 18.5h1M120 19.5h1M124 19.5h1M140 19.5h1M151 19.5h1M153 19.5h1M160 19.5h1M187 19.5h1M211 19.5h1M214 19.5h1M252 19.5h1"/>
<path stroke="#ffa000" d="M4 0.5h1M29 0.5h1M64 0.5h1M75 0.5h1M147 0.5h2M126 1.5h1M29 2.5h1"/>
<path stroke="#e10000" d="M5 0.5h1M13 0.5h1M17 0.5h1M28 0.5h1M39 0.5h1M50 0.5h1M71 0.5h1M74 0.5h1M87 0.5h1M110 0.5h1M123 0.5h1M125 0.5h2M134 0.5h1M146 0.5h1M164 0.5h1M176 0.5h1M17 1.5h1M29 1.5h1M39 1.5h1M74 1.5h1M87 1.5h1M98 1.5h1M146 1.5h1M176 1.5h1M88 2.5h1M0 3.5h1M55 8.5h1M7 12.5h2M10 12.5h1M204 12.5h1M10 13.5h1M45 13.5h1M204 14.5h1M7 15.5h1M19 15.5h1M19 17.5h1M193 19.5h1"/>
<path stroke="#000cea" d="M6 0.5h1M36 0.5h1M57 0.5h1M61 0.5h2M68 0.5h1M72 0.5h2M88 0.5h1M97 0.5h1M142 0.5h1M156 0.5h1M165 0.5h1M169 0.5h1M171 0.5h2M177 0.5h2M181 0.5h1M186 0.5h1M192 0.5h1M210 0.5h2M214 0.5h2M217 0.5h2M221 0.5h1M223 0.5h2M227 0.5h2M234 0.5h2M237 0.5h1M239 0.5h1M241 0.5h2M244 0.5h1M248 0.5h1M254 0.5h1M257 0.5h1M264 0.5h1M267 0.5h1M270 0.5h1M275 0.5h1M293 0.5h1M303 0.5h2M310 0.5h3M317 0.5h3M61 1.5h2M89 1.5h1M119 1.5h2M122 1.5h1M127 1.5h1M129 1.5h5M137 1.5h2M140 1.5h6M149 1.5h2M153 1.5h7M163 1.5h1M165 1.5h5M172 1.5h4M177 1.5h5M183 1.5h2M186 1.5h1M190 1.5h3M197 1.5h6M209 1.5h7M217 1.5h2M220 1.5h10M233 1.5h14M248 1.5h5M254 1.5h4M260 1.5h5M266 1.5h2M270 1.5h10M282 1.5h9M292 1.5h5M298 1.5h3M302 1.5h2M305 1.5h2M308 1.5h8M317 1.5h3M322 1.5h1M36 2.5h1M42 2.5h1M46 2.5h1M57 2.5h1M61 2.5h2M65 2.5h2M68 2.5h1M72 2.5h2M84 2.5h2M87 2.5h1M89 2.5h2M97 2.5h2M119 2.5h2M122 2.5h2M125 2.5h3M129 2.5h6M137 2.5h2M140 2.5h7M150 2.5h2M153 2.5h7M163 2.5h1M165 2.5h11M177 2.5h5M183 2.5h1M185 2.5h2M199 2.5h2M202 2.5h1M209 2.5h22M232 2.5h2M235 2.5h23M259 2.5h6M266 2.5h2M269 2.5h11M281 2.5h16M298 2.5h3M302 2.5h5M308 2.5h9M318 2.5h2M321 2.5h2M61 3.5h2M75 3.5h2M89 3.5h1M101 3.5h2M119 3.5h1M122 3.5h2M125 3.5h3M130 3.5h4M135 3.5h4M141 3.5h7M149 3.5h3M153 3.5h7M163 3.5h12M177 3.5h4M182 3.5h5M188 3.5h3M194 3.5h2M198 3.5h4M204 3.5h7M212 3.5h2M215 3.5h2M218 3.5h13M232 3.5h2M235 3.5h3M239 3.5h1M242 3.5h10M253 3.5h12M266 3.5h2M269 3.5h6M277 3.5h3M281 3.5h7M289 3.5h5M295 3.5h2M298 3.5h5M304 3.5h4M309 3.5h2M313 3.5h2M316 3.5h1M318 3.5h5M0 4.5h1M36 4.5h1M42 4.5h1M46 4.5h1M57 4.5h1M61 4.5h2M66 4.5h1M68 4.5h1M72 4.5h2M84 4.5h2M87 4.5h4M104 4.5h1M111 4.5h1M119 4.5h1M123 4.5h1M125 4.5h3M129 4.5h5M135 4.5h4M141 4.5h1M143 4.5h5M149 4.5h3M154 4.5h7M163 4.5h18M182 4.5h5M188 4.5h1M190 4.5h1M195 4.5h1M199 4.5h2M204 4.5h1M207 4.5h2M210 4.5h1M212 4.5h2M215 4.5h2M218 4.5h16M235 4.5h3M239 4.5h2M242 4.5h9M253 4.5h12M266 4.5h2M270 4.5h5M277 4.5h3M281 4.5h7M289 4.5h5M295 4.5h2M298 4.5h10M310 4.5h1M312 4.5h5M318 4.5h4M4 5.5h3M14 5.5h4M61 5.5h2M75 5.5h1M89 5.5h1M99 5.5h2M111 5.5h1M119 5.5h1M123 5.5h1M125 5.5h3M129 5.5h5M135 5.5h4M141 5.5h1M143 5.5h5M149 5.5h3M154 5.5h27M182 5.5h5M188 5.5h4M194 5.5h2M198 5.5h4M203 5.5h6M210 5.5h1M212 5.5h2M215 5.5h2M218 5.5h16M235 5.5h3M239 5.5h2M242 5.5h9M253 5.5h12M266 5.5h2M270 5.5h5M277 5.5h3M281 5.5h7M289 5.5h5M295 5.5h2M298 5.5h10M310 5.5h1M312 5.5h5M318 5.5h4M16 6.5h2M28 6.5h1M36 6.5h1M52 6.5h4M57 6.5h1M61 6.5h4M89 6.5h1M99 6.5h2M111 6.5h1M119 6.5h1M121 6.5h7M130 6.5h22M154 6.5h6M161 6.5h13M175 6.5h6M182 6.5h5M188 6.5h1M190 6.5h1M195 6.5h1M199 6.5h2M205 6.5h1M207 6.5h4M212 6.5h2M215 6.5h2M218 6.5h9M228 6.5h10M239 6.5h1M243 6.5h9M253 6.5h12M266 6.5h2M270 6.5h5M277 6.5h3M281 6.5h13M295 6.5h2M298 6.5h1M300 6.5h8M310 6.5h7M318 6.5h5M1 7.5h1M51 7.5h3M61 7.5h4M76 7.5h1M89 7.5h1M91 7.5h2M99 7.5h2M105 7.5h1M111 7.5h1M114 7.5h1M119 7.5h1M121 7.5h1M126 7.5h3M130 7.5h1M133 7.5h1M135 7.5h5M144 7.5h7M156 7.5h2M159 7.5h1M161 7.5h3M165 7.5h1M168 7.5h4M173 7.5h1M177 7.5h1M185 7.5h2M189 7.5h2M198 7.5h2M201 7.5h1M203 7.5h1M205 7.5h4M210 7.5h1M213 7.5h1M215 7.5h1M218 7.5h2M221 7.5h1M224 7.5h3M228 7.5h4M233 7.5h4M239 7.5h1M243 7.5h8M253 7.5h1M256 7.5h3M262 7.5h1M264 7.5h1M266 7.5h1M271 7.5h2M274 7.5h1M279 7.5h1M281 7.5h3M285 7.5h1M289 7.5h3M293 7.5h1M295 7.5h1M301 7.5h2M304 7.5h4M310 7.5h1M313 7.5h1M316 7.5h1M318 7.5h4M24 8.5h1M36 8.5h1M52 8.5h2M61 8.5h3M66 8.5h1M68 8.5h1M89 8.5h1M91 8.5h3M97 8.5h1M99 8.5h2M111 8.5h1M114 8.5h1M119 8.5h1M125 8.5h4M130 8.5h1M133 8.5h1M135 8.5h2M138 8.5h2M143 8.5h6M150 8.5h1M156 8.5h2M159 8.5h1M161 8.5h3M165 8.5h1M168 8.5h6M176 8.5h3M185 8.5h2M199 8.5h1M207 8.5h2M210 8.5h1M212 8.5h2M215 8.5h1M218 8.5h4M223 8.5h4M228 8.5h2M231 8.5h1M233 8.5h4M243 8.5h3M247 8.5h3M253 8.5h7M262 8.5h1M264 8.5h1M266 8.5h1M271 8.5h2M274 8.5h1M279 8.5h1M281 8.5h2M285 8.5h1M289 8.5h2M293 8.5h1M295 8.5h1M301 8.5h2M306 8.5h2M310 8.5h1M313 8.5h1M316 8.5h1M318 8.5h4M14 9.5h3M28 9.5h1M45 9.5h2M61 9.5h5M67 9.5h1M76 9.5h1M89 9.5h1M91 9.5h2M99 9.5h2M111 9.5h1M119 9.5h1M125 9.5h4M130 9.5h1M133 9.5h1M135 9.5h2M138 9.5h2M143 9.5h6M150 9.5h1M156 9.5h2M159 9.5h1M161 9.5h3M165 9.5h1M168 9.5h6M176 9.5h3M185 9.5h2M189 9.5h1M198 9.5h2M201 9.5h1M203 9.5h1M205 9.5h4M210 9.5h1M212 9.5h2M215 9.5h1M218 9.5h4M223 9.5h4M228 9.5h2M231 9.5h1M233 9.5h4M243 9.5h3M247 9.5h3M253 9.5h7M262 9.5h1M264 9.5h1M266 9.5h1M271 9.5h2M274 9.5h1M279 9.5h1M281 9.5h2M285 9.5h1M289 9.5h2M293 9.5h1M295 9.5h1M301 9.5h2M306 9.5h2M310 9.5h1M313 9.5h1M316 9.5h1M318 9.5h4M0 10.5h2M24 10.5h1M36 10.5h1M39 10.5h1M45 10.5h1M54 10.5h2M57 10.5h1M61 10.5h2M85 10.5h1M88 10.5h1M93 10.5h1M111 10.5h1M114 10.5h1M119 10.5h1M127 10.5h1M130 10.5h1M133 10.5h1M139 10.5h1M145 10.5h2M157 10.5h1M159 10.5h1M163 10.5h1M165 10.5h1M168 10.5h1M170 10.5h1M177 10.5h1M186 10.5h1M199 10.5h1M205 10.5h2M213 10.5h1M215 10.5h1M218 10.5h1M224 10.5h1M226 10.5h1M229 10.5h1M231 10.5h1M234 10.5h1M244 10.5h1M249 10.5h1M253 10.5h1M257 10.5h1M262 10.5h1M264 10.5h1M266 10.5h1M272 10.5h1M279 10.5h1M282 10.5h1M285 10.5h1M289 10.5h1M301 10.5h2M306 10.5h1M313 10.5h1M319 10.5h1M61 11.5h2M99 11.5h2M119 11.5h1M127 11.5h1M130 11.5h1M133 11.5h1M139 11.5h1M145 11.5h2M157 11.5h1M159 11.5h1M163 11.5h1M165 11.5h1M168 11.5h1M170 11.5h1M177 11.5h1M186 11.5h1M189 11.5h1M198 11.5h2M201 11.5h1M205 11.5h2M213 11.5h1M215 11.5h1M218 11.5h1M224 11.5h1M226 11.5h1M229 11.5h1M231 11.5h1M234 11.5h1M244 11.5h1M249 11.5h1M253 11.5h1M257 11.5h1M262 11.5h1M264 11.5h1M266 11.5h1M272 11.5h1M279 11.5h1M282 11.5h1M285 11.5h1M289 11.5h1M301 11.5h2M306 11.5h1M313 11.5h1M319 11.5h1M61 12.5h2M99 12.5h2M119 12.5h1M127 12.5h1M133 12.5h1M138 12.5h2M145 12.5h1M150 12.5h1M156 12.5h2M159 12.5h1M163 12.5h1M168 12.5h1M170 12.5h1M177 12.5h1M199 12.5h1M205 12.5h1M213 12.5h1M215 12.5h1M218 12.5h1M224 12.5h1M226 12.5h1M228 12.5h2M231 12.5h1M234 12.5h1M244 12.5h2M253 12.5h1M256 12.5h2M264 12.5h1M271 12.5h2M282 12.5h1M285 12.5h1M289 12.5h1M301 12.5h2M306 12.5h1M310 12.5h1M313 12.5h1M318 12.5h2M50 13.5h1M61 13.5h2M119 13.5h1M127 13.5h1M133 13.5h1M138 13.5h2M145 13.5h1M150 13.5h1M156 13.5h2M159 13.5h1M163 13.5h1M168 13.5h1M170 13.5h1M177 13.5h1M189 13.5h1M198 13.5h2M201 13.5h1M205 13.5h2M213 13.5h1M215 13.5h1M218 13.5h1M224 13.5h1M226 13.5h1M228 13.5h2M231 13.5h1M234 13.5h1M244 13.5h2M253 13.5h1M256 13.5h2M264 13.5h1M271 13.5h2M282 13.5h1M285 13.5h1M289 13.5h1M301 13.5h2M306 13.5h1M310 13.5h1M313 13.5h1M318 13.5h2M61 14.5h2M127 14.5h1M133 14.5h1M139 14.5h1M145 14.5h1M148 14.5h1M156 14.5h2M163 14.5h1M165 14.5h1M170 14.5h1M173 14.5h1M186 14.5h1M205 14.5h1M218 14.5h1M226 14.5h1M229 14.5h1M234 14.5h1M236 14.5h1M244 14.5h1M249 14.5h1M253 14.5h1M264 14.5h1M271 14.5h1M282 14.5h1M285 14.5h1M289 14.5h1M301 14.5h1M319 14.5h1M4 15.5h2M36 15.5h1M45 15.5h1M61 15.5h2M127 15.5h1M133 15.5h1M139 15.5h1M145 15.5h1M148 15.5h1M156 15.5h2M163 15.5h1M165 15.5h1M170 15.5h1M173 15.5h1M186 15.5h1M201 15.5h1M205 15.5h1M218 15.5h1M226 15.5h1M229 15.5h1M234 15.5h1M236 15.5h1M244 15.5h1M249 15.5h1M253 15.5h1M264 15.5h1M271 15.5h1M282 15.5h1M285 15.5h1M289 15.5h1M301 15.5h1M319 15.5h1M45 16.5h1M61 16.5h2M133 16.5h1M139 16.5h1M145 16.5h1M163 16.5h1M168 16.5h1M170 16.5h1M173 16.5h1M186 16.5h1M199 16.5h1M205 16.5h1M213 16.5h1M218 16.5h1M228 16.5h2M234 16.5h1M245 16.5h1M249 16.5h1M253 16.5h1M258 16.5h1M264 16.5h1M282 16.5h1M301 16.5h1M319 16.5h1M5 17.5h1M61 17.5h2M133 17.5h1M139 17.5h1M145 17.5h1M163 17.5h1M168 17.5h1M170 17.5h1M173 17.5h1M186 17.5h1M199 17.5h1M201 17.5h1M213 17.5h1M218 17.5h1M228 17.5h2M234 17.5h1M245 17.5h1M249 17.5h1M253 17.5h1M258 17.5h1M264 17.5h1M282 17.5h1M301 17.5h1M319 17.5h1M17 18.5h1M36 18.5h1M45 18.5h1M61 18.5h2M119 18.5h1M133 18.5h1M138 18.5h2M145 18.5h1M148 18.5h1M159 18.5h1M162 18.5h2M165 18.5h1M170 18.5h1M199 18.5h1M213 18.5h1M215 18.5h1M218 18.5h1M224 18.5h1M226 18.5h1M229 18.5h1M231 18.5h1M244 18.5h2M247 18.5h1M253 18.5h1M256 18.5h3M264 18.5h1M279 18.5h1M282 18.5h1M289 18.5h1M301 18.5h1M306 18.5h1M45 19.5h1M61 19.5h2M89 19.5h1M114 19.5h1M119 19.5h1M133 19.5h1M138 19.5h2M145 19.5h1M148 19.5h1M159 19.5h1M162 19.5h2M165 19.5h1M170 19.5h1M198 19.5h2M201 19.5h1M213 19.5h1M215 19.5h1M218 19.5h1M224 19.5h1M226 19.5h1M229 19.5h1M231 19.5h1M244 19.5h2M247 19.5h1M253 19.5h1M256 19.5h3M264 19.5h1M279 19.5h1M282 19.5h1M289 19.5h1M301 19.5h1M306 19.5h1"/>
<path stroke="#c2ff42" d="M7 0.5h1M115 0.5h1M0 1.5h1M113 1.5h1M164 1.5h1M176 2.5h1M55 17.5h1M74 17.5h1M205 17.5h2M85 18.5h1M205 19.5h1"/>
<path stroke="#00d5ff" d="M8 0.5h1M14 0.5h1M30 0.5h1M54 0.5h1M101 0.5h1M124 0.5h1M149 0.5h1M170 0.5h1M193 0.5h1M231 0.5h1M301 0.5h1M307 0.5h2M4 1.5h1M7 1.5h1M12 1.5h1M30 1.5h1M63 1.5h1M124 1.5h1M151 1.5h2M193 1.5h1M231 1.5h1M297 1.5h1M12 2.5h1M16 2.5h1M28 2.5h1M30 2.5h1M39 2.5h1M115 2.5h1M147 2.5h2M152 2.5h1M164 2.5h1M193 2.5h1M234 2.5h1M280 2.5h1M29 3.5h1M50 3.5h1M152 3.5h1M193 3.5h1M202 3.5h2M234 3.5h1M29 4.5h1M74 4.5h2M114 4.5h1M152 4.5h1M193 4.5h1M202 4.5h1M234 4.5h1M152 5.5h1M193 5.5h1M202 5.5h1M234 5.5h1M193 6.5h1M202 6.5h1M5 7.5h1M193 7.5h1M202 7.5h1M45 8.5h1M74 8.5h1M193 8.5h1M202 8.5h1M86 9.5h1M193 9.5h1M202 9.5h1M38 10.5h1M105 10.5h1M143 10.5h1M193 10.5h1M202 10.5h1M8 11.5h1M105 11.5h1M143 11.5h1M193 11.5h1M202 11.5h1M19 12.5h1M143 12.5h1M193 12.5h1M202 12.5h1M7 13.5h1M19 13.5h1M143 13.5h1M193 13.5h1M202 13.5h1M19 14.5h1M143 14.5h1M193 14.5h1M202 14.5h1M8 15.5h1M143 15.5h1M193 15.5h1M202 15.5h1M143 16.5h1M193 16.5h1M202 16.5h1M98 17.5h1M143 17.5h1M193 17.5h1M202 17.5h1M204 17.5h1M5 18.5h1M54 18.5h2M101 18.5h1M143 18.5h1M193 18.5h1M202 18.5h1M204 18.5h1M55 19.5h1M143 19.5h1M202 19.5h1M204 19.5h1"/>
<path stroke="#0030fa" d="M9 0.5h2M22 0.5h3M34 0.5h1M37 0.5h2M40 0.5h1M42 0.5h3M46 0.5h1M55 0.5h2M80 0.5h2M85 0.5h1M89 0.5h4M99 0.5h2M102 0.5h1M104 0.5h2M117 0.5h2M155 0.5h1M157 0.5h1M163 0.5h1M166 0.5h3M173 0.5h1M179 0.5h1M183 0.5h1M191 0.5h1M197 0.5h1M199 0.5h1M201 0.5h2M209 0.5h1M212 0.5h2M220 0.5h1M222 0.5h1M225 0.5h2M229 0.5h1M238 0.5h1M246 0.5h1M249 0.5h4M255 0.5h2M260 0.5h4M266 0.5h1M274 0.5h1M276 0.5h2M279 0.5h1M286 0.5h5M294 0.5h3M298 0.5h3M305 0.5h2M309 0.5h1M313 0.5h3M322 0.5h1M6 1.5h1M8 1.5h3M19 1.5h2M22 1.5h2M32 1.5h1M34 1.5h1M37 1.5h2M40 1.5h2M43 1.5h2M52 1.5h2M64 1.5h1M76 1.5h1M79 1.5h3M91 1.5h2M99 1.5h2M102 1.5h1M104 1.5h2M117 1.5h2M0 2.5h1M6 2.5h1M8 2.5h3M20 2.5h1M22 2.5h2M33 2.5h2M37 2.5h2M40 2.5h2M43 2.5h2M52 2.5h4M76 2.5h2M80 2.5h2M91 2.5h2M99 2.5h1M101 2.5h2M104 2.5h2M116 2.5h3M2 3.5h3M6 3.5h1M8 3.5h4M19 3.5h2M22 3.5h2M32 3.5h3M37 3.5h5M43 3.5h2M51 3.5h3M63 3.5h2M79 3.5h3M91 3.5h2M99 3.5h1M105 3.5h1M116 3.5h3M120 3.5h1M129 3.5h1M134 3.5h1M140 3.5h1M160 3.5h1M175 3.5h1M181 3.5h1M187 3.5h1M191 3.5h2M197 3.5h1M211 3.5h1M214 3.5h1M217 3.5h1M238 3.5h1M240 3.5h2M252 3.5h1M268 3.5h1M275 3.5h2M288 3.5h1M294 3.5h1M297 3.5h1M303 3.5h1M308 3.5h1M311 3.5h2M315 3.5h1M317 3.5h1M2 4.5h3M6 4.5h1M8 4.5h4M14 4.5h7M22 4.5h2M28 4.5h1M30 4.5h5M37 4.5h5M43 4.5h2M52 4.5h2M71 4.5h1M91 4.5h2M97 4.5h6M105 4.5h1M116 4.5h3M120 4.5h1M122 4.5h1M134 4.5h1M140 4.5h1M142 4.5h1M153 4.5h1M181 4.5h1M187 4.5h1M209 4.5h1M211 4.5h1M214 4.5h1M217 4.5h1M238 4.5h1M241 4.5h1M251 4.5h2M268 4.5h2M275 4.5h2M288 4.5h1M294 4.5h1M297 4.5h1M308 4.5h2M311 4.5h1M317 4.5h1M322 4.5h1M1 5.5h3M7 5.5h5M18 5.5h3M22 5.5h2M29 5.5h6M37 5.5h2M40 5.5h5M46 5.5h1M50 5.5h4M63 5.5h2M79 5.5h2M91 5.5h2M105 5.5h1M115 5.5h4M120 5.5h1M122 5.5h1M134 5.5h1M140 5.5h1M142 5.5h1M153 5.5h1M181 5.5h1M187 5.5h1M192 5.5h1M197 5.5h1M209 5.5h1M211 5.5h1M214 5.5h1M217 5.5h1M238 5.5h1M241 5.5h1M251 5.5h2M268 5.5h2M275 5.5h2M288 5.5h1M294 5.5h1M297 5.5h1M308 5.5h2M311 5.5h1M317 5.5h1M322 5.5h1M2 6.5h3M6 6.5h5M14 6.5h2M18 6.5h3M22 6.5h3M29 6.5h6M37 6.5h2M40 6.5h5M46 6.5h1M50 6.5h1M65 6.5h1M67 6.5h1M79 6.5h2M85 6.5h4M90 6.5h3M105 6.5h1M115 6.5h4M120 6.5h1M129 6.5h1M153 6.5h1M160 6.5h1M174 6.5h1M181 6.5h1M187 6.5h1M211 6.5h1M214 6.5h1M217 6.5h1M227 6.5h1M238 6.5h1M240 6.5h3M252 6.5h1M268 6.5h2M275 6.5h2M294 6.5h1M297 6.5h1M299 6.5h1M308 6.5h2M317 6.5h1M2 7.5h3M6 7.5h1M8 7.5h3M14 7.5h3M18 7.5h3M22 7.5h2M29 7.5h6M37 7.5h2M40 7.5h5M50 7.5h1M79 7.5h2M115 7.5h4M122 7.5h4M131 7.5h1M143 7.5h1M154 7.5h2M158 7.5h1M164 7.5h1M166 7.5h2M172 7.5h1M175 7.5h2M178 7.5h3M182 7.5h3M188 7.5h1M191 7.5h2M194 7.5h2M197 7.5h1M200 7.5h1M216 7.5h1M220 7.5h1M223 7.5h1M232 7.5h1M237 7.5h1M251 7.5h2M254 7.5h2M259 7.5h3M263 7.5h1M267 7.5h2M270 7.5h1M273 7.5h1M276 7.5h3M284 7.5h1M286 7.5h3M292 7.5h1M294 7.5h1M296 7.5h1M298 7.5h3M303 7.5h1M308 7.5h2M311 7.5h2M314 7.5h2M322 7.5h1M2 8.5h3M6 8.5h1M8 8.5h2M11 8.5h1M15 8.5h2M18 8.5h3M22 8.5h2M30 8.5h5M37 8.5h8M50 8.5h2M73 8.5h1M75 8.5h3M79 8.5h2M115 8.5h4M121 8.5h2M132 8.5h1M137 8.5h1M149 8.5h1M155 8.5h1M158 8.5h1M164 8.5h1M166 8.5h2M174 8.5h2M180 8.5h1M182 8.5h3M190 8.5h1M195 8.5h1M227 8.5h1M230 8.5h1M232 8.5h1M237 8.5h1M239 8.5h3M246 8.5h1M250 8.5h2M260 8.5h2M263 8.5h1M267 8.5h2M270 8.5h1M273 8.5h1M276 8.5h3M283 8.5h2M286 8.5h3M291 8.5h2M296 8.5h1M298 8.5h3M303 8.5h3M309 8.5h1M311 8.5h2M314 8.5h2M317 8.5h1M322 8.5h1M2 9.5h3M6 9.5h7M18 9.5h3M22 9.5h2M29 9.5h6M37 9.5h1M40 9.5h5M50 9.5h1M52 9.5h2M79 9.5h2M114 9.5h5M121 9.5h2M132 9.5h1M137 9.5h1M149 9.5h1M155 9.5h1M158 9.5h1M164 9.5h1M166 9.5h2M174 9.5h2M180 9.5h1M182 9.5h3M188 9.5h1M190 9.5h1M194 9.5h2M227 9.5h1M230 9.5h1M232 9.5h1M237 9.5h1M239 9.5h3M246 9.5h1M250 9.5h2M260 9.5h2M263 9.5h1M267 9.5h2M270 9.5h1M273 9.5h1M276 9.5h3M283 9.5h2M286 9.5h3M291 9.5h2M296 9.5h1M298 9.5h3M303 9.5h3M309 9.5h1M311 9.5h2M314 9.5h2M317 9.5h1M322 9.5h1M2 10.5h3M6 10.5h1M9 10.5h4M14 10.5h7M22 10.5h2M28 10.5h7M37 10.5h1M40 10.5h2M43 10.5h2M50 10.5h3M63 10.5h6M79 10.5h2M91 10.5h2M97 10.5h6M115 10.5h1M117 10.5h1M125 10.5h2M128 10.5h1M136 10.5h3M144 10.5h1M147 10.5h4M152 10.5h1M156 10.5h1M158 10.5h1M161 10.5h2M164 10.5h1M166 10.5h2M169 10.5h1M171 10.5h3M175 10.5h2M183 10.5h3M190 10.5h1M195 10.5h1M207 10.5h2M210 10.5h1M212 10.5h1M219 10.5h3M223 10.5h1M225 10.5h1M228 10.5h1M230 10.5h1M232 10.5h2M235 10.5h3M243 10.5h1M245 10.5h4M250 10.5h1M254 10.5h3M258 10.5h4M263 10.5h1M267 10.5h1M270 10.5h2M273 10.5h2M277 10.5h2M281 10.5h1M283 10.5h2M286 10.5h3M290 10.5h4M295 10.5h1M298 10.5h3M304 10.5h2M307 10.5h1M310 10.5h3M314 10.5h3M318 10.5h1M320 10.5h3M2 11.5h3M6 11.5h1M9 11.5h1M11 11.5h1M14 11.5h3M18 11.5h1M20 11.5h1M22 11.5h2M29 11.5h6M37 11.5h1M40 11.5h2M43 11.5h2M50 11.5h2M63 11.5h2M67 11.5h1M76 11.5h1M79 11.5h2M91 11.5h2M111 11.5h1M114 11.5h2M117 11.5h1M125 11.5h2M128 11.5h1M136 11.5h3M144 11.5h1M147 11.5h4M152 11.5h1M156 11.5h1M158 11.5h1M161 11.5h2M164 11.5h1M166 11.5h2M169 11.5h1M171 11.5h3M175 11.5h2M183 11.5h3M190 11.5h1M194 11.5h2M207 11.5h2M210 11.5h1M212 11.5h1M219 11.5h3M223 11.5h1M225 11.5h1M228 11.5h1M230 11.5h1M232 11.5h2M235 11.5h3M243 11.5h1M245 11.5h4M250 11.5h1M254 11.5h3M258 11.5h4M263 11.5h1M267 11.5h1M270 11.5h2M273 11.5h2M277 11.5h2M281 11.5h1M283 11.5h2M286 11.5h3M290 11.5h4M295 11.5h1M298 11.5h3M304 11.5h2M307 11.5h1M310 11.5h3M314 11.5h3M318 11.5h1M320 11.5h3M2 12.5h3M6 12.5h1M9 12.5h1M11 12.5h1M14 12.5h3M18 12.5h1M20 12.5h1M22 12.5h2M29 12.5h6M37 12.5h2M40 12.5h2M43 12.5h2M50 12.5h2M63 12.5h2M67 12.5h1M76 12.5h1M79 12.5h1M91 12.5h2M111 12.5h1M114 12.5h2M117 12.5h1M121 12.5h1M126 12.5h1M128 12.5h1M130 12.5h1M135 12.5h1M137 12.5h1M141 12.5h1M144 12.5h1M146 12.5h3M152 12.5h1M158 12.5h1M161 12.5h2M165 12.5h3M169 12.5h1M171 12.5h3M175 12.5h2M178 12.5h2M183 12.5h2M186 12.5h1M203 12.5h1M207 12.5h2M219 12.5h3M225 12.5h1M230 12.5h1M232 12.5h2M235 12.5h3M243 12.5h1M246 12.5h4M251 12.5h1M254 12.5h2M258 12.5h6M266 12.5h1M270 12.5h1M274 12.5h2M277 12.5h3M281 12.5h1M283 12.5h2M286 12.5h2M290 12.5h4M295 12.5h1M298 12.5h3M303 12.5h3M307 12.5h1M309 12.5h1M311 12.5h1M314 12.5h3M320 12.5h3M2 13.5h3M6 13.5h1M9 13.5h1M11 13.5h1M14 13.5h3M18 13.5h1M20 13.5h1M22 13.5h2M29 13.5h6M37 13.5h2M40 13.5h2M43 13.5h2M51 13.5h1M63 13.5h2M67 13.5h1M76 13.5h1M79 13.5h1M91 13.5h2M99 13.5h2M111 13.5h1M114 13.5h2M117 13.5h1M121 13.5h1M126 13.5h1M128 13.5h1M130 13.5h1M135 13.5h1M137 13.5h1M141 13.5h1M144 13.5h1M146 13.5h3M152 13.5h1M158 13.5h1M161 13.5h2M165 13.5h3M169 13.5h1M171 13.5h3M175 13.5h2M178 13.5h2M183 13.5h2M186 13.5h1M190 13.5h1M203 13.5h1M207 13.5h2M219 13.5h3M225 13.5h1M230 13.5h1M232 13.5h2M235 13.5h3M243 13.5h1M246 13.5h4M251 13.5h1M254 13.5h2M258 13.5h6M266 13.5h1M270 13.5h1M274 13.5h2M277 13.5h3M281 13.5h1M283 13.5h2M286 13.5h2M290 13.5h4M295 13.5h1M298 13.5h3M303 13.5h3M307 13.5h1M309 13.5h1M311 13.5h1M314 13.5h3M320 13.5h3M2 14.5h3M6 14.5h1M9 14.5h3M14 14.5h3M18 14.5h1M20 14.5h1M22 14.5h2M29 14.5h6M37 14.5h2M40 14.5h2M43 14.5h2M51 14.5h1M63 14.5h2M67 14.5h1M76 14.5h1M79 14.5h2M91 14.5h1M99 14.5h2M111 14.5h1M114 14.5h2M117 14.5h1M119 14.5h1M121 14.5h1M128 14.5h1M130 14.5h1M135 14.5h4M144 14.5h1M146 14.5h2M149 14.5h2M159 14.5h1M161 14.5h2M167 14.5h3M171 14.5h1M176 14.5h3M180 14.5h1M184 14.5h1M188 14.5h1M195 14.5h1M199 14.5h1M208 14.5h1M213 14.5h1M215 14.5h1M219 14.5h3M224 14.5h2M228 14.5h1M230 14.5h2M235 14.5h1M243 14.5h1M245 14.5h4M251 14.5h1M254 14.5h9M266 14.5h2M270 14.5h1M272 14.5h1M274 14.5h1M277 14.5h3M281 14.5h1M283 14.5h2M286 14.5h2M290 14.5h4M295 14.5h2M298 14.5h3M302 14.5h6M310 14.5h7M318 14.5h1M320 14.5h3M2 15.5h2M6 15.5h1M9 15.5h3M14 15.5h5M20 15.5h1M22 15.5h3M29 15.5h6M37 15.5h2M40 15.5h2M43 15.5h2M51 15.5h1M63 15.5h2M67 15.5h1M76 15.5h1M79 15.5h2M91 15.5h1M99 15.5h2M111 15.5h1M115 15.5h1M119 15.5h1M121 15.5h1M128 15.5h1M130 15.5h1M135 15.5h4M144 15.5h1M146 15.5h2M149 15.5h2M159 15.5h1M161 15.5h2M167 15.5h3M171 15.5h1M176 15.5h3M180 15.5h1M184 15.5h1M188 15.5h3M195 15.5h1M198 15.5h2M208 15.5h1M213 15.5h1M215 15.5h1M219 15.5h3M224 15.5h2M228 15.5h1M230 15.5h2M235 15.5h1M243 15.5h1M245 15.5h4M251 15.5h1M254 15.5h9M266 15.5h2M270 15.5h1M272 15.5h1M274 15.5h1M277 15.5h3M281 15.5h1M283 15.5h2M286 15.5h2M290 15.5h4M295 15.5h2M298 15.5h3M302 15.5h6M310 15.5h7M318 15.5h1M320 15.5h3M2 16.5h3M6 16.5h1M9 16.5h3M14 16.5h3M20 16.5h1M22 16.5h2M29 16.5h6M37 16.5h2M40 16.5h2M43 16.5h2M51 16.5h1M63 16.5h2M67 16.5h1M76 16.5h1M79 16.5h2M91 16.5h1M99 16.5h2M111 16.5h1M115 16.5h1M119 16.5h1M121 16.5h1M126 16.5h3M130 16.5h1M136 16.5h3M146 16.5h5M156 16.5h2M159 16.5h1M162 16.5h1M165 16.5h1M167 16.5h1M169 16.5h1M171 16.5h1M176 16.5h2M180 16.5h1M183 16.5h2M200 16.5h1M208 16.5h1M210 16.5h1M215 16.5h1M219 16.5h3M224 16.5h3M230 16.5h2M233 16.5h1M235 16.5h3M243 16.5h2M247 16.5h2M251 16.5h1M254 16.5h4M259 16.5h4M266 16.5h2M270 16.5h5M277 16.5h3M281 16.5h1M283 16.5h5M289 16.5h5M295 16.5h1M298 16.5h1M300 16.5h1M302 16.5h1M304 16.5h5M310 16.5h1M312 16.5h2M316 16.5h1M318 16.5h1M320 16.5h2M2 17.5h3M6 17.5h1M11 17.5h1M14 17.5h3M18 17.5h1M20 17.5h1M22 17.5h2M29 17.5h6M37 17.5h2M40 17.5h2M43 17.5h3M51 17.5h1M63 17.5h2M67 17.5h1M76 17.5h1M79 17.5h2M91 17.5h1M99 17.5h2M102 17.5h1M111 17.5h1M115 17.5h1M117 17.5h1M119 17.5h1M121 17.5h1M126 17.5h3M130 17.5h1M136 17.5h3M146 17.5h5M156 17.5h2M159 17.5h1M162 17.5h1M165 17.5h1M167 17.5h1M169 17.5h1M171 17.5h1M176 17.5h2M180 17.5h1M183 17.5h2M189 17.5h2M194 17.5h1M198 17.5h1M200 17.5h1M208 17.5h1M210 17.5h1M215 17.5h1M219 17.5h3M224 17.5h3M230 17.5h2M233 17.5h1M235 17.5h3M243 17.5h2M247 17.5h2M251 17.5h1M254 17.5h4M259 17.5h4M266 17.5h2M270 17.5h5M277 17.5h3M281 17.5h1M283 17.5h5M289 17.5h5M295 17.5h1M298 17.5h1M300 17.5h1M302 17.5h1M304 17.5h5M310 17.5h1M312 17.5h2M316 17.5h1M318 17.5h1M320 17.5h2M2 18.5h3M6 18.5h1M11 18.5h1M14 18.5h3M18 18.5h1M20 18.5h1M22 18.5h3M29 18.5h6M37 18.5h2M40 18.5h2M43 18.5h2M51 18.5h1M63 18.5h2M67 18.5h1M76 18.5h1M79 18.5h2M89 18.5h1M91 18.5h1M99 18.5h2M111 18.5h1M115 18.5h1M117 18.5h1M126 18.5h3M130 18.5h1M135 18.5h3M144 18.5h1M146 18.5h2M149 18.5h2M152 18.5h1M156 18.5h2M161 18.5h1M168 18.5h2M171 18.5h3M175 18.5h4M183 18.5h4M207 18.5h1M219 18.5h2M225 18.5h1M228 18.5h1M230 18.5h1M233 18.5h4M243 18.5h1M246 18.5h1M248 18.5h2M254 18.5h2M259 18.5h4M266 18.5h2M271 18.5h2M274 18.5h1M277 18.5h2M280 18.5h2M283 18.5h5M290 18.5h4M295 18.5h1M298 18.5h3M302 18.5h4M307 18.5h1M310 18.5h1M313 18.5h4M318 18.5h5M7 19.5h1M11 19.5h1M14 19.5h3M22 19.5h2M29 19.5h6M37 19.5h2M40 19.5h2M43 19.5h2M51 19.5h1M63 19.5h2M67 19.5h1M76 19.5h1M79 19.5h2M91 19.5h1M99 19.5h2M111 19.5h1M115 19.5h1M117 19.5h1M126 19.5h3M130 19.5h1M135 19.5h3M144 19.5h1M146 19.5h2M149 19.5h2M152 19.5h1M156 19.5h2M161 19.5h1M168 19.5h2M171 19.5h3M175 19.5h4M183 19.5h4M189 19.5h1M197 19.5h1M206 19.5h2M219 19.5h2M225 19.5h1M228 19.5h1M230 19.5h1M233 19.5h4M243 19.5h1M246 19.5h1M248 19.5h2M254 19.5h2M259 19.5h4M266 19.5h2M271 19.5h2M274 19.5h1M277 19.5h2M280 19.5h2M283 19.5h5M290 19.5h4M295 19.5h1M298 19.5h3M302 19.5h4M307 19.5h1M310 19.5h1M313 19.5h4M318 19.5h5"/>
<path stroke="#ff5700" d="M12 0.5h1M5 1.5h1M13 1.5h1M16 1.5h1M0 5.5h1M5 8.5h1M7 8.5h1M7 10.5h1M7 11.5h1"/>
<path stroke="#2ffaff" d="M15 0.5h2M51 0.5h1M78 0.5h1M112 0.5h1M135 0.5h2M151 0.5h2M207 0.5h1M240 0.5h1M243 0.5h1M245 0.5h1M268 0.5h2M281 0.5h1M51 1.5h1M56 1.5h1M111 1.5h2M147 1.5h2M280 1.5h1M50 2.5h1M93 2.5h1M128 2.5h1M5 3.5h1M12 4.5h2M93 4.5h1M55 7.5h1M206 12.5h1M105 13.5h1M57 15.5h1M19 18.5h1"/>
<path stroke="#ffff00" d="M63 0.5h1M113 0.5h1M280 0.5h1M28 1.5h1M128 1.5h1M161 1.5h2M74 2.5h1M203 4.5h1M206 15.5h1M19 16.5h1M206 16.5h1M68 18.5h1M77 18.5h1"/>
<path stroke="#ffdf00" d="M98 0.5h1M114 0.5h1M128 0.5h1M160 0.5h3M291 0.5h1M50 1.5h1M110 1.5h1M114 1.5h1M123 1.5h1M5 2.5h1M13 2.5h1M17 2.5h1M75 2.5h1M114 2.5h1M114 3.5h1M8 10.5h1M57 18.5h1M73 18.5h1"/>
</g>
</g></g>
<g clip-path="url(#cl1)"><g filter="url(#bl)">
<path fill="#0058f8" d="M157.9 1687.2H170.7V1697.5H157.9ZM164.2 1697.5H170.7V1725.9H164.2Z"/>
<path fill="#0090ff" d="M157.9 1728H170.7V1735.3H157.9Z"/>
<path fill="#0058f8" d="M157.9 1768.9H170.7V1774.2H157.9Z"/>
<path fill="#0004e4" d="M170.7 1687.2H183.1V2393.8H170.7ZM183.1 1687.2H189.6V2016.8H183.1Z"/>
<path fill="#0058f8" d="M170.7 1687.2H189.6V1725.9H170.7Z"/>
<path fill="#0018e8" d="M170.7 1725.9H189.6V1764.7H170.7Z"/>
<path fill="#0004e4" d="M196.1 1687.2H202.4V2393.8H196.1ZM202.4 1687.4H208.7V1737.4H202.4ZM202.4 1749H208.7V1775.2H202.4ZM202.4 1870.8H208.7V1904.4H202.4ZM202.4 1920.2H208.7V1938.1H202.4ZM202.4 1983.2H208.7V2037.8H202.4ZM202.4 2222.9H208.7V2278.6H202.4ZM208.7 1687.2H213.5V2099H208.7ZM213.5 1687.2H234.1V2393.8H213.5Z"/>
<path fill="#0018e8" d="M196.1 1687.2H234.1V1725.9H196.1Z"/>
<path fill="#0004e4" d="M246.7 1687.2H259.7V2393.8H246.7ZM259.7 1687.2H267.1V2037.8H259.7ZM267.1 1687.2H271.3V1695.4H267.1ZM267.1 1857.2H271.3V2037.8H267.1ZM271.3 1687.2H276.6V1857.2H271.3ZM276.6 1687.2H291.3V2393.8H276.6Z"/>
<path fill="#0018e8" d="M246.7 1687.2H291.3V1695.4H246.7Z"/>
<path fill="#0004e4" d="M297.6 1687.2H308.7V2393.8H297.6Z"/>
<path fill="#0018e8" d="M308.1 1687.2H317.5V1695.4H308.1Z"/>
<path fill="#0004e4" d="M317.5 1687.2H330.1V2393.8H317.5Z"/>
<path fill="#0018e8" d="M335.4 1687.2H341.7V1695.4H335.4Z"/>
<path fill="#0004e4" d="M341.7 1687.2H378.9V2393.8H341.7Z"/>
<path fill="#0018e8" d="M341.7 1687.2H378.9V1714.3H341.7Z"/>
<path fill="#ffffff" d="M360.6 2222.9H365.8V2393.8H360.6Z"/>
<path fill="#0004e4" d="M391.5 1687.2H405.1V2393.8H391.5ZM405.1 1687.2H411V1695.4H405.1ZM411 1687.2H423.6V2251.3H411ZM430.5 1687.2H437.3V2393.8H430.5ZM437.3 1687.2H448.8V1856.1H437.3Z"/>
<path fill="#0018e8" d="M391.5 1687.2H448.8V1695.4H391.5Z"/>
<path fill="#0004e4" d="M481.4 1687.2H488.7V2393.8H481.4ZM488.7 1687.2H494V2037H488.7ZM494 1687.2H500.3V1856.1H494ZM500.3 1687.2H512.9V1690.2H500.3Z"/>
<path fill="#80ff80" d="M501.3 1703.8H512.9V1709.1H501.3Z"/>
<path fill="#0004e4" d="M500.3 1725.9H512.9V1730.1H500.3ZM544.2 1687.2H557.4V1800.4H544.2ZM544.2 1800.4H557.4V1842.5H544.2ZM557.4 1687.2H569.4V2393.8H557.4ZM582.4 1687.2H590.4V2393.8H582.4Z"/>
<path fill="#0058f8" d="M643.9 1687.2H648.2V1691.2H643.9Z"/>
<path fill="#0004e4" d="M651.3 1687.2H657.6V1936H651.3Z"/>
<path fill="#00d8ff" d="M747.5 1687.2H757.4V1701.7H747.5Z"/>
<path fill="#ff9000" d="M776.7 1687.2H785.1V1690.8H776.7Z"/>
<path fill="#0018e8" d="M657.6 1687.2H665V2393.8H657.6Z"/>
<path fill="#0004e4" d="M665 1687.2H671.3V1936H665ZM721.3 1687.2H729V2038.1H721.3ZM733.2 1687.2H747.5V2393.8H733.2ZM747.5 1687.2H754.2V1702.8H747.5ZM778.4 1687.2H785.8V1695.4H778.4ZM785.8 1687.2H792.1V2099H785.8ZM792.1 1687.2H799.4V2038.1H792.1ZM861.4 1687.2H868.7V2393.8H861.4Z"/>
<path fill="#00b4ff" d="M366.5 1687.2H378.9V2393.8H366.5Z"/>
<path fill="#20e8ff" d="M370 1687.2H376.3V2393.8H370Z"/>
<path fill="#0070ff" d="M170.7 1687.2H189.6V1708H170.7Z"/>
<path fill="#0040f4" d="M170.7 1708H189.6V1739.5H170.7Z"/>
<path fill="#0020ea" d="M170.7 1739.5H189.6V1777.3H170.7Z"/>
<path fill="#0070ff" d="M196.1 1687.2H234.1V1708H196.1Z"/>
<path fill="#0040f4" d="M196.1 1708H234.1V1739.5H196.1Z"/>
<path fill="#0020ea" d="M196.1 1739.5H234.1V1777.3H196.1Z"/>
<path fill="#0070ff" d="M246.7 1687.2H291.3V1708H246.7Z"/>
<path fill="#0040f4" d="M246.7 1708H291.3V1739.5H246.7Z"/>
<path fill="#0020ea" d="M246.7 1739.5H291.3V1777.3H246.7Z"/>
<path fill="#0070ff" d="M297.6 1687.2H308.7V1708H297.6Z"/>
<path fill="#0040f4" d="M297.6 1708H308.7V1739.5H297.6Z"/>
<path fill="#0020ea" d="M297.6 1739.5H308.7V1777.3H297.6Z"/>
<path fill="#0070ff" d="M317.5 1687.2H330.1V1708H317.5Z"/>
<path fill="#0040f4" d="M317.5 1708H330.1V1739.5H317.5Z"/>
<path fill="#0020ea" d="M317.5 1739.5H330.1V1777.3H317.5Z"/>
<path fill="#0070ff" d="M341.7 1687.2H365.8V1708H341.7Z"/>
<path fill="#0040f4" d="M341.7 1708H365.8V1739.5H341.7Z"/>
<path fill="#0020ea" d="M341.7 1739.5H365.8V1777.3H341.7Z"/>
<path fill="#0070ff" d="M391.5 1687.2H405.1V1708H391.5Z"/>
<path fill="#0040f4" d="M391.5 1708H405.1V1739.5H391.5Z"/>
<path fill="#0020ea" d="M391.5 1739.5H405.1V1777.3H391.5Z"/>
<path fill="#0070ff" d="M411 1687.2H423.6V1708H411Z"/>
<path fill="#0040f4" d="M411 1708H423.6V1739.5H411Z"/>
<path fill="#0020ea" d="M411 1739.5H423.6V1777.3H411Z"/>
<path fill="#0070ff" d="M430.5 1687.2H448.8V1708H430.5Z"/>
<path fill="#0040f4" d="M430.5 1708H448.8V1739.5H430.5Z"/>
<path fill="#0020ea" d="M430.5 1739.5H448.8V1777.3H430.5Z"/>
<path fill="#0070ff" d="M481.4 1687.2H500.3V1708H481.4Z"/>
<path fill="#0040f4" d="M481.4 1708H500.3V1739.5H481.4Z"/>
<path fill="#0020ea" d="M481.4 1739.5H500.3V1777.3H481.4Z"/>
<path fill="#0068ff" d="M544.2 1687.2H569.4V1708H544.2Z"/>
<path fill="#0038f2" d="M544.2 1708H569.4V1745.8H544.2Z"/>
<path fill="#0068ff" d="M582.4 1687.2H590.4V1708H582.4Z"/>
<path fill="#0038f2" d="M582.4 1708H590.4V1745.8H582.4Z"/>
<path fill="#0068ff" d="M651.3 1687.2H671.3V1708H651.3Z"/>
<path fill="#0038f2" d="M651.3 1708H671.3V1745.8H651.3Z"/>
<path fill="#0068ff" d="M733.2 1687.2H747.5V1708H733.2Z"/>
<path fill="#0038f2" d="M733.2 1708H747.5V1745.8H733.2Z"/>
<path fill="#ffffff" d="M267.1 1695.4H271.3V1777.3H267.1ZM308.1 1695.4H317.5V1777.3H308.1ZM330.1 1695.4H341.7V1777.3H330.1ZM405.1 1695.4H411V1777.3H405.1ZM202.4 1737.4H208.7V1749H202.4Z"/>
<path fill="#0004e4" d="M879.2 1687.2H2204V2393.8H879.2Z"/>
<path fill="#0018e8" d="M879.2 1687.2H2204V1706.5H879.2Z"/>
<path fill="#009aff" d="M879.2 1687.2H885.6V1697.2H879.2Z"/>
<path fill="#0056ff" d="M879.2 1697.2H885.6V1711.2H879.2Z"/>
<path fill="#001df3" d="M879.2 1711.2H885.6V1729.2H879.2Z"/>
<path fill="#000deb" d="M879.2 1729.2H885.6V1792.2H879.2Z"/>
<path fill="#00a9ff" d="M885.6 1687.2H891.9V1697.2H885.6Z"/>
<path fill="#0062ff" d="M885.6 1697.2H891.9V1711.2H885.6Z"/>
<path fill="#0024f6" d="M885.6 1711.2H891.9V1729.2H885.6Z"/>
<path fill="#000fec" d="M885.6 1729.2H891.9V1792.2H885.6Z"/>
<path fill="#00a4ff" d="M891.9 1687.2H898.3V1697.2H891.9Z"/>
<path fill="#005eff" d="M891.9 1697.2H898.3V1711.2H891.9Z"/>
<path fill="#0021f5" d="M891.9 1711.2H898.3V1729.2H891.9Z"/>
<path fill="#000eec" d="M891.9 1729.2H898.3V1792.2H891.9Z"/>
<path fill="#0061ff" d="M898.3 1687.2H904.6V1697.2H898.3Z"/>
<path fill="#0029f8" d="M898.3 1697.2H904.6V1711.2H898.3Z"/>
<path fill="#000deb" d="M898.3 1711.2H904.6V1729.2H898.3Z"/>
<path fill="#0007e6" d="M898.3 1729.2H904.6V1792.2H898.3Z"/>
<path fill="#00b8ff" d="M904.6 1687.2H910.9V1697.2H904.6Z"/>
<path fill="#006cff" d="M904.6 1697.2H910.9V1711.2H904.6Z"/>
<path fill="#0029f8" d="M904.6 1711.2H910.9V1729.2H904.6Z"/>
<path fill="#0010ed" d="M904.6 1729.2H910.9V1792.2H904.6Z"/>
<path fill="#00b3ff" d="M910.9 1687.2H917.3V1697.2H910.9Z"/>
<path fill="#0069ff" d="M910.9 1697.2H917.3V1711.2H910.9Z"/>
<path fill="#0027f7" d="M910.9 1711.2H917.3V1729.2H910.9Z"/>
<path fill="#0010ed" d="M910.9 1729.2H917.3V1792.2H910.9Z"/>
<path fill="#00c6ff" d="M910.9 1687.2H917.3V1735.7H910.9Z"/>
<path fill="#0093ff" d="M917.3 1687.2H923.6V1697.2H917.3Z"/>
<path fill="#0051ff" d="M917.3 1697.2H923.6V1711.2H917.3Z"/>
<path fill="#001af2" d="M917.3 1711.2H923.6V1729.2H917.3Z"/>
<path fill="#000cea" d="M917.3 1729.2H923.6V1792.2H917.3Z"/>
<path fill="#005fff" d="M923.6 1687.2H930V1697.2H923.6Z"/>
<path fill="#0028f7" d="M923.6 1697.2H930V1711.2H923.6Z"/>
<path fill="#000deb" d="M923.6 1711.2H930V1729.2H923.6Z"/>
<path fill="#0007e6" d="M923.6 1729.2H930V1792.2H923.6Z"/>
<path fill="#007cff" d="M930 1687.2H936.3V1697.2H930Z"/>
<path fill="#003fff" d="M930 1697.2H936.3V1711.2H930Z"/>
<path fill="#0012ef" d="M930 1711.2H936.3V1729.2H930Z"/>
<path fill="#0009e8" d="M930 1729.2H936.3V1792.2H930Z"/>
<path fill="#00a7ff" d="M936.3 1687.2H942.7V1697.2H936.3Z"/>
<path fill="#0060ff" d="M936.3 1697.2H942.7V1711.2H936.3Z"/>
<path fill="#0022f5" d="M936.3 1711.2H942.7V1729.2H936.3Z"/>
<path fill="#000eec" d="M936.3 1729.2H942.7V1792.2H936.3Z"/>
<path fill="#00aaff" d="M942.7 1687.2H949V1697.2H942.7Z"/>
<path fill="#0062ff" d="M942.7 1697.2H949V1711.2H942.7Z"/>
<path fill="#0024f6" d="M942.7 1711.2H949V1729.2H942.7Z"/>
<path fill="#000fec" d="M942.7 1729.2H949V1792.2H942.7Z"/>
<path fill="#00bfff" d="M942.7 1687.2H949V1743.1H942.7Z"/>
<path fill="#005eff" d="M949 1687.2H955.3V1697.2H949Z"/>
<path fill="#0027f7" d="M949 1697.2H955.3V1711.2H949Z"/>
<path fill="#000dea" d="M949 1711.2H955.3V1729.2H949Z"/>
<path fill="#0007e6" d="M949 1729.2H955.3V1792.2H949Z"/>
<path fill="#0076ff" d="M955.3 1687.2H961.7V1697.2H955.3Z"/>
<path fill="#0039fe" d="M955.3 1697.2H961.7V1711.2H955.3Z"/>
<path fill="#0011ee" d="M955.3 1711.2H961.7V1729.2H955.3Z"/>
<path fill="#0009e8" d="M955.3 1729.2H961.7V1792.2H955.3Z"/>
<path fill="#00bbff" d="M961.7 1687.2H968V1697.2H961.7Z"/>
<path fill="#006fff" d="M961.7 1697.2H968V1711.2H961.7Z"/>
<path fill="#002af8" d="M961.7 1711.2H968V1729.2H961.7Z"/>
<path fill="#0011ee" d="M961.7 1729.2H968V1792.2H961.7Z"/>
<path fill="#007dff" d="M968 1687.2H974.4V1697.2H968Z"/>
<path fill="#003fff" d="M968 1697.2H974.4V1711.2H968Z"/>
<path fill="#0012ef" d="M968 1711.2H974.4V1729.2H968Z"/>
<path fill="#000ae8" d="M968 1729.2H974.4V1792.2H968Z"/>
<path fill="#0093ff" d="M974.4 1687.2H980.7V1697.2H974.4Z"/>
<path fill="#0050ff" d="M974.4 1697.2H980.7V1711.2H974.4Z"/>
<path fill="#001af2" d="M974.4 1711.2H980.7V1729.2H974.4Z"/>
<path fill="#000cea" d="M974.4 1729.2H980.7V1792.2H974.4Z"/>
<path fill="#0075ff" d="M980.7 1687.2H987V1697.2H980.7Z"/>
<path fill="#0039fe" d="M980.7 1697.2H987V1711.2H980.7Z"/>
<path fill="#0011ed" d="M980.7 1711.2H987V1729.2H980.7Z"/>
<path fill="#0009e7" d="M980.7 1729.2H987V1792.2H980.7Z"/>
<path fill="#00a0ff" d="M987 1687.2H993.4V1697.2H987Z"/>
<path fill="#005bff" d="M987 1697.2H993.4V1711.2H987Z"/>
<path fill="#0020f4" d="M987 1711.2H993.4V1729.2H987Z"/>
<path fill="#000eeb" d="M987 1729.2H993.4V1792.2H987Z"/>
<path fill="#00b3ff" d="M993.4 1687.2H999.7V1697.2H993.4Z"/>
<path fill="#0069ff" d="M993.4 1697.2H999.7V1711.2H993.4Z"/>
<path fill="#0027f7" d="M993.4 1711.2H999.7V1729.2H993.4Z"/>
<path fill="#0010ed" d="M993.4 1729.2H999.7V1792.2H993.4Z"/>
<path fill="#0083ff" d="M999.7 1687.2H1006.1V1697.2H999.7Z"/>
<path fill="#0044ff" d="M999.7 1697.2H1006.1V1711.2H999.7Z"/>
<path fill="#0014f0" d="M999.7 1711.2H1006.1V1729.2H999.7Z"/>
<path fill="#000ae9" d="M999.7 1729.2H1006.1V1792.2H999.7Z"/>
<path fill="#006eff" d="M1006.1 1687.2H1012.4V1697.2H1006.1Z"/>
<path fill="#0033fc" d="M1006.1 1697.2H1012.4V1711.2H1006.1Z"/>
<path fill="#000fed" d="M1006.1 1711.2H1012.4V1729.2H1006.1Z"/>
<path fill="#0008e7" d="M1006.1 1729.2H1012.4V1792.2H1006.1Z"/>
<path fill="#02daff" d="M1006.1 1687.2H1012.4V1727.3H1006.1Z"/>
<path fill="#005eff" d="M1012.4 1687.2H1018.7V1697.2H1012.4Z"/>
<path fill="#0027f7" d="M1012.4 1697.2H1018.7V1711.2H1012.4Z"/>
<path fill="#000dea" d="M1012.4 1711.2H1018.7V1729.2H1012.4Z"/>
<path fill="#0007e6" d="M1012.4 1729.2H1018.7V1792.2H1012.4Z"/>
<path fill="#0081ff" d="M1018.7 1687.2H1025.1V1697.2H1018.7Z"/>
<path fill="#0043ff" d="M1018.7 1697.2H1025.1V1711.2H1018.7Z"/>
<path fill="#0013ef" d="M1018.7 1711.2H1025.1V1729.2H1018.7Z"/>
<path fill="#000ae9" d="M1018.7 1729.2H1025.1V1792.2H1018.7Z"/>
<path fill="#00acff" d="M1025.1 1687.2H1031.4V1697.2H1025.1Z"/>
<path fill="#0064ff" d="M1025.1 1697.2H1031.4V1711.2H1025.1Z"/>
<path fill="#0024f6" d="M1025.1 1711.2H1031.4V1729.2H1025.1Z"/>
<path fill="#000fec" d="M1025.1 1729.2H1031.4V1792.2H1025.1Z"/>
<path fill="#007fff" d="M1031.4 1687.2H1037.8V1697.2H1031.4Z"/>
<path fill="#0041ff" d="M1031.4 1697.2H1037.8V1711.2H1031.4Z"/>
<path fill="#0013ef" d="M1031.4 1711.2H1037.8V1729.2H1031.4Z"/>
<path fill="#000ae8" d="M1031.4 1729.2H1037.8V1792.2H1031.4Z"/>
<path fill="#00a1ff" d="M1037.8 1687.2H1044.1V1697.2H1037.8Z"/>
<path fill="#005cff" d="M1037.8 1697.2H1044.1V1711.2H1037.8Z"/>
<path fill="#0020f5" d="M1037.8 1711.2H1044.1V1729.2H1037.8Z"/>
<path fill="#000eeb" d="M1037.8 1729.2H1044.1V1792.2H1037.8Z"/>
<path fill="#00b8ff" d="M1037.8 1687.2H1044.1V1761H1037.8Z"/>
<path fill="#00a5ff" d="M1044.1 1687.2H1050.5V1697.2H1044.1Z"/>
<path fill="#005fff" d="M1044.1 1697.2H1050.5V1711.2H1044.1Z"/>
<path fill="#0022f5" d="M1044.1 1711.2H1050.5V1729.2H1044.1Z"/>
<path fill="#000eec" d="M1044.1 1729.2H1050.5V1792.2H1044.1Z"/>
<path fill="#0060ff" d="M1050.5 1687.2H1056.8V1697.2H1050.5Z"/>
<path fill="#0028f8" d="M1050.5 1697.2H1056.8V1711.2H1050.5Z"/>
<path fill="#000deb" d="M1050.5 1711.2H1056.8V1729.2H1050.5Z"/>
<path fill="#0007e6" d="M1050.5 1729.2H1056.8V1792.2H1050.5Z"/>
<path fill="#0084ff" d="M1056.8 1687.2H1063.1V1697.2H1056.8Z"/>
<path fill="#0045ff" d="M1056.8 1697.2H1063.1V1711.2H1056.8Z"/>
<path fill="#0014f0" d="M1056.8 1711.2H1063.1V1729.2H1056.8Z"/>
<path fill="#000ae9" d="M1056.8 1729.2H1063.1V1792.2H1056.8Z"/>
<path fill="#005fff" d="M1063.1 1687.2H1069.5V1697.2H1063.1Z"/>
<path fill="#0027f7" d="M1063.1 1697.2H1069.5V1711.2H1063.1Z"/>
<path fill="#000deb" d="M1063.1 1711.2H1069.5V1729.2H1063.1Z"/>
<path fill="#0007e6" d="M1063.1 1729.2H1069.5V1792.2H1063.1Z"/>
<path fill="#0de7ff" d="M1063.1 1687.2H1069.5V1721.2H1063.1Z"/>
<path fill="#0074ff" d="M1069.5 1687.2H1075.8V1697.2H1069.5Z"/>
<path fill="#0038fd" d="M1069.5 1697.2H1075.8V1711.2H1069.5Z"/>
<path fill="#0010ed" d="M1069.5 1711.2H1075.8V1729.2H1069.5Z"/>
<path fill="#0009e7" d="M1069.5 1729.2H1075.8V1792.2H1069.5Z"/>
<path fill="#00b6ff" d="M1075.8 1687.2H1082.2V1697.2H1075.8Z"/>
<path fill="#006bff" d="M1075.8 1697.2H1082.2V1711.2H1075.8Z"/>
<path fill="#0028f8" d="M1075.8 1711.2H1082.2V1729.2H1075.8Z"/>
<path fill="#0010ed" d="M1075.8 1729.2H1082.2V1792.2H1075.8Z"/>
<path fill="#0082ff" d="M1082.2 1687.2H1088.5V1697.2H1082.2Z"/>
<path fill="#0043ff" d="M1082.2 1697.2H1088.5V1711.2H1082.2Z"/>
<path fill="#0013f0" d="M1082.2 1711.2H1088.5V1729.2H1082.2Z"/>
<path fill="#000ae9" d="M1082.2 1729.2H1088.5V1792.2H1082.2Z"/>
<path fill="#0092ff" d="M1088.5 1687.2H1094.8V1697.2H1088.5Z"/>
<path fill="#004fff" d="M1088.5 1697.2H1094.8V1711.2H1088.5Z"/>
<path fill="#001af2" d="M1088.5 1711.2H1094.8V1729.2H1088.5Z"/>
<path fill="#000cea" d="M1088.5 1729.2H1094.8V1792.2H1088.5Z"/>
<path fill="#006aff" d="M1094.8 1687.2H1101.2V1697.2H1094.8Z"/>
<path fill="#0030fb" d="M1094.8 1697.2H1101.2V1711.2H1094.8Z"/>
<path fill="#000fec" d="M1094.8 1711.2H1101.2V1729.2H1094.8Z"/>
<path fill="#0008e7" d="M1094.8 1729.2H1101.2V1792.2H1094.8Z"/>
<path fill="#00aaff" d="M1101.2 1687.2H1107.5V1697.2H1101.2Z"/>
<path fill="#0062ff" d="M1101.2 1697.2H1107.5V1711.2H1101.2Z"/>
<path fill="#0024f6" d="M1101.2 1711.2H1107.5V1729.2H1101.2Z"/>
<path fill="#000fec" d="M1101.2 1729.2H1107.5V1792.2H1101.2Z"/>
<path fill="#0062ff" d="M1107.5 1687.2H1113.9V1697.2H1107.5Z"/>
<path fill="#002af8" d="M1107.5 1697.2H1113.9V1711.2H1107.5Z"/>
<path fill="#000deb" d="M1107.5 1711.2H1113.9V1729.2H1107.5Z"/>
<path fill="#0007e6" d="M1107.5 1729.2H1113.9V1792.2H1107.5Z"/>
<path fill="#0068ff" d="M1113.9 1687.2H1120.2V1697.2H1113.9Z"/>
<path fill="#002ffa" d="M1113.9 1697.2H1120.2V1711.2H1113.9Z"/>
<path fill="#000eec" d="M1113.9 1711.2H1120.2V1729.2H1113.9Z"/>
<path fill="#0007e7" d="M1113.9 1729.2H1120.2V1792.2H1113.9Z"/>
<path fill="#0099ff" d="M1120.2 1687.2H1126.5V1697.2H1120.2Z"/>
<path fill="#0055ff" d="M1120.2 1697.2H1126.5V1711.2H1120.2Z"/>
<path fill="#001df3" d="M1120.2 1711.2H1126.5V1729.2H1120.2Z"/>
<path fill="#000deb" d="M1120.2 1729.2H1126.5V1792.2H1120.2Z"/>
<path fill="#0082ff" d="M1126.5 1687.2H1132.9V1697.2H1126.5Z"/>
<path fill="#0043ff" d="M1126.5 1697.2H1132.9V1711.2H1126.5Z"/>
<path fill="#0013ef" d="M1126.5 1711.2H1132.9V1729.2H1126.5Z"/>
<path fill="#000ae9" d="M1126.5 1729.2H1132.9V1792.2H1126.5Z"/>
<path fill="#0093ff" d="M1132.9 1687.2H1139.2V1697.2H1132.9Z"/>
<path fill="#0051ff" d="M1132.9 1697.2H1139.2V1711.2H1132.9Z"/>
<path fill="#001af2" d="M1132.9 1711.2H1139.2V1729.2H1132.9Z"/>
<path fill="#000cea" d="M1132.9 1729.2H1139.2V1792.2H1132.9Z"/>
<path fill="#0080ff" d="M1139.2 1687.2H1145.6V1697.2H1139.2Z"/>
<path fill="#0041ff" d="M1139.2 1697.2H1145.6V1711.2H1139.2Z"/>
<path fill="#0013ef" d="M1139.2 1711.2H1145.6V1729.2H1139.2Z"/>
<path fill="#000ae8" d="M1139.2 1729.2H1145.6V1792.2H1139.2Z"/>
<path fill="#0067ff" d="M1145.6 1687.2H1151.9V1697.2H1145.6Z"/>
<path fill="#002dfa" d="M1145.6 1697.2H1151.9V1711.2H1145.6Z"/>
<path fill="#000eec" d="M1145.6 1711.2H1151.9V1729.2H1145.6Z"/>
<path fill="#0007e6" d="M1145.6 1729.2H1151.9V1792.2H1145.6Z"/>
<path fill="#00a0ff" d="M1151.9 1687.2H1158.2V1697.2H1151.9Z"/>
<path fill="#005bff" d="M1151.9 1697.2H1158.2V1711.2H1151.9Z"/>
<path fill="#0020f4" d="M1151.9 1711.2H1158.2V1729.2H1151.9Z"/>
<path fill="#000eeb" d="M1151.9 1729.2H1158.2V1792.2H1151.9Z"/>
<path fill="#0070ff" d="M1158.2 1687.2H1164.6V1697.2H1158.2Z"/>
<path fill="#0035fc" d="M1158.2 1697.2H1164.6V1711.2H1158.2Z"/>
<path fill="#0010ed" d="M1158.2 1711.2H1164.6V1729.2H1158.2Z"/>
<path fill="#0008e7" d="M1158.2 1729.2H1164.6V1792.2H1158.2Z"/>
<path fill="#00d7ff" d="M1158.2 1687.2H1164.6V1761.5H1158.2Z"/>
<path fill="#0087ff" d="M1164.6 1687.2H1170.9V1697.2H1164.6Z"/>
<path fill="#0047ff" d="M1164.6 1697.2H1170.9V1711.2H1164.6Z"/>
<path fill="#0015f0" d="M1164.6 1711.2H1170.9V1729.2H1164.6Z"/>
<path fill="#000be9" d="M1164.6 1729.2H1170.9V1792.2H1164.6Z"/>
<path fill="#0098ff" d="M1170.9 1687.2H1177.3V1697.2H1170.9Z"/>
<path fill="#0054ff" d="M1170.9 1697.2H1177.3V1711.2H1170.9Z"/>
<path fill="#001cf3" d="M1170.9 1711.2H1177.3V1729.2H1170.9Z"/>
<path fill="#000deb" d="M1170.9 1729.2H1177.3V1792.2H1170.9Z"/>
<path fill="#008cff" d="M1177.3 1687.2H1183.6V1697.2H1177.3Z"/>
<path fill="#004bff" d="M1177.3 1697.2H1183.6V1711.2H1177.3Z"/>
<path fill="#0017f1" d="M1177.3 1711.2H1183.6V1729.2H1177.3Z"/>
<path fill="#000be9" d="M1177.3 1729.2H1183.6V1792.2H1177.3Z"/>
<path fill="#0064ff" d="M1183.6 1687.2H1190V1697.2H1183.6Z"/>
<path fill="#002bf9" d="M1183.6 1697.2H1190V1711.2H1183.6Z"/>
<path fill="#000eeb" d="M1183.6 1711.2H1190V1729.2H1183.6Z"/>
<path fill="#0007e6" d="M1183.6 1729.2H1190V1792.2H1183.6Z"/>
<path fill="#0061ff" d="M1190 1687.2H1196.3V1697.2H1190Z"/>
<path fill="#0029f8" d="M1190 1697.2H1196.3V1711.2H1190Z"/>
<path fill="#000deb" d="M1190 1711.2H1196.3V1729.2H1190Z"/>
<path fill="#0007e6" d="M1190 1729.2H1196.3V1792.2H1190Z"/>
<path fill="#00adff" d="M1196.3 1687.2H1202.6V1697.2H1196.3Z"/>
<path fill="#0065ff" d="M1196.3 1697.2H1202.6V1711.2H1196.3Z"/>
<path fill="#0025f6" d="M1196.3 1711.2H1202.6V1729.2H1196.3Z"/>
<path fill="#000fec" d="M1196.3 1729.2H1202.6V1792.2H1196.3Z"/>
<path fill="#0ce7ff" d="M1196.3 1687.2H1202.6V1748.8H1196.3Z"/>
<path fill="#009bff" d="M1202.6 1687.2H1209V1697.2H1202.6Z"/>
<path fill="#0057ff" d="M1202.6 1697.2H1209V1711.2H1202.6Z"/>
<path fill="#001df4" d="M1202.6 1711.2H1209V1729.2H1202.6Z"/>
<path fill="#000deb" d="M1202.6 1729.2H1209V1792.2H1202.6Z"/>
<path fill="#006aff" d="M1209 1687.2H1215.3V1697.2H1209Z"/>
<path fill="#0030fa" d="M1209 1697.2H1215.3V1711.2H1209Z"/>
<path fill="#000fec" d="M1209 1711.2H1215.3V1729.2H1209Z"/>
<path fill="#0008e7" d="M1209 1729.2H1215.3V1792.2H1209Z"/>
<path fill="#006fff" d="M1215.3 1687.2H1221.7V1697.2H1215.3Z"/>
<path fill="#0034fc" d="M1215.3 1697.2H1221.7V1711.2H1215.3Z"/>
<path fill="#000fed" d="M1215.3 1711.2H1221.7V1729.2H1215.3Z"/>
<path fill="#0008e7" d="M1215.3 1729.2H1221.7V1792.2H1215.3Z"/>
<path fill="#007eff" d="M1221.7 1687.2H1228V1697.2H1221.7Z"/>
<path fill="#0040ff" d="M1221.7 1697.2H1228V1711.2H1221.7Z"/>
<path fill="#0012ef" d="M1221.7 1711.2H1228V1729.2H1221.7Z"/>
<path fill="#000ae8" d="M1221.7 1729.2H1228V1792.2H1221.7Z"/>
<path fill="#00bdff" d="M1228 1687.2H1234.3V1697.2H1228Z"/>
<path fill="#0070ff" d="M1228 1697.2H1234.3V1711.2H1228Z"/>
<path fill="#002bf9" d="M1228 1711.2H1234.3V1729.2H1228Z"/>
<path fill="#0011ee" d="M1228 1729.2H1234.3V1792.2H1228Z"/>
<path fill="#00bbff" d="M1234.3 1687.2H1240.7V1697.2H1234.3Z"/>
<path fill="#006fff" d="M1234.3 1697.2H1240.7V1711.2H1234.3Z"/>
<path fill="#002af8" d="M1234.3 1711.2H1240.7V1729.2H1234.3Z"/>
<path fill="#0011ed" d="M1234.3 1729.2H1240.7V1792.2H1234.3Z"/>
<path fill="#008eff" d="M1240.7 1687.2H1247V1697.2H1240.7Z"/>
<path fill="#004dff" d="M1240.7 1697.2H1247V1711.2H1240.7Z"/>
<path fill="#0018f2" d="M1240.7 1711.2H1247V1729.2H1240.7Z"/>
<path fill="#000cea" d="M1240.7 1729.2H1247V1792.2H1240.7Z"/>
<path fill="#008eff" d="M1247 1687.2H1253.4V1697.2H1247Z"/>
<path fill="#004cff" d="M1247 1697.2H1253.4V1711.2H1247Z"/>
<path fill="#0018f1" d="M1247 1711.2H1253.4V1729.2H1247Z"/>
<path fill="#000bea" d="M1247 1729.2H1253.4V1792.2H1247Z"/>
<path fill="#0087ff" d="M1253.4 1687.2H1259.7V1697.2H1253.4Z"/>
<path fill="#0047ff" d="M1253.4 1697.2H1259.7V1711.2H1253.4Z"/>
<path fill="#0015f0" d="M1253.4 1711.2H1259.7V1729.2H1253.4Z"/>
<path fill="#000be9" d="M1253.4 1729.2H1259.7V1792.2H1253.4Z"/>
<path fill="#0085ff" d="M1259.7 1687.2H1266V1697.2H1259.7Z"/>
<path fill="#0045ff" d="M1259.7 1697.2H1266V1711.2H1259.7Z"/>
<path fill="#0014f0" d="M1259.7 1711.2H1266V1729.2H1259.7Z"/>
<path fill="#000ae9" d="M1259.7 1729.2H1266V1792.2H1259.7Z"/>
<path fill="#00b9ff" d="M1266 1687.2H1272.4V1697.2H1266Z"/>
<path fill="#006eff" d="M1266 1697.2H1272.4V1711.2H1266Z"/>
<path fill="#002af8" d="M1266 1711.2H1272.4V1729.2H1266Z"/>
<path fill="#0010ed" d="M1266 1729.2H1272.4V1792.2H1266Z"/>
<path fill="#008fff" d="M1272.4 1687.2H1278.7V1697.2H1272.4Z"/>
<path fill="#004eff" d="M1272.4 1697.2H1278.7V1711.2H1272.4Z"/>
<path fill="#0019f2" d="M1272.4 1711.2H1278.7V1729.2H1272.4Z"/>
<path fill="#000cea" d="M1272.4 1729.2H1278.7V1792.2H1272.4Z"/>
<path fill="#0068ff" d="M1278.7 1687.2H1285.1V1697.2H1278.7Z"/>
<path fill="#002efa" d="M1278.7 1697.2H1285.1V1711.2H1278.7Z"/>
<path fill="#000eec" d="M1278.7 1711.2H1285.1V1729.2H1278.7Z"/>
<path fill="#0007e7" d="M1278.7 1729.2H1285.1V1792.2H1278.7Z"/>
<path fill="#00a8ff" d="M1285.1 1687.2H1291.4V1697.2H1285.1Z"/>
<path fill="#0061ff" d="M1285.1 1697.2H1291.4V1711.2H1285.1Z"/>
<path fill="#0023f6" d="M1285.1 1711.2H1291.4V1729.2H1285.1Z"/>
<path fill="#000fec" d="M1285.1 1729.2H1291.4V1792.2H1285.1Z"/>
<path fill="#0083ff" d="M1291.4 1687.2H1297.7V1697.2H1291.4Z"/>
<path fill="#0044ff" d="M1291.4 1697.2H1297.7V1711.2H1291.4Z"/>
<path fill="#0014f0" d="M1291.4 1711.2H1297.7V1729.2H1291.4Z"/>
<path fill="#000ae9" d="M1291.4 1729.2H1297.7V1792.2H1291.4Z"/>
<path fill="#00a7ff" d="M1297.7 1687.2H1304.1V1697.2H1297.7Z"/>
<path fill="#0061ff" d="M1297.7 1697.2H1304.1V1711.2H1297.7Z"/>
<path fill="#0023f6" d="M1297.7 1711.2H1304.1V1729.2H1297.7Z"/>
<path fill="#000fec" d="M1297.7 1729.2H1304.1V1792.2H1297.7Z"/>
<path fill="#009eff" d="M1304.1 1687.2H1310.4V1697.2H1304.1Z"/>
<path fill="#0059ff" d="M1304.1 1697.2H1310.4V1711.2H1304.1Z"/>
<path fill="#001ff4" d="M1304.1 1711.2H1310.4V1729.2H1304.1Z"/>
<path fill="#000deb" d="M1304.1 1729.2H1310.4V1792.2H1304.1Z"/>
<path fill="#0084ff" d="M1310.4 1687.2H1316.8V1697.2H1310.4Z"/>
<path fill="#0044ff" d="M1310.4 1697.2H1316.8V1711.2H1310.4Z"/>
<path fill="#0014f0" d="M1310.4 1711.2H1316.8V1729.2H1310.4Z"/>
<path fill="#000ae9" d="M1310.4 1729.2H1316.8V1792.2H1310.4Z"/>
<path fill="#007cff" d="M1316.8 1687.2H1323.1V1697.2H1316.8Z"/>
<path fill="#003fff" d="M1316.8 1697.2H1323.1V1711.2H1316.8Z"/>
<path fill="#0012ef" d="M1316.8 1711.2H1323.1V1729.2H1316.8Z"/>
<path fill="#0009e8" d="M1316.8 1729.2H1323.1V1792.2H1316.8Z"/>
<path fill="#00a7ff" d="M1323.1 1687.2H1329.5V1697.2H1323.1Z"/>
<path fill="#0060ff" d="M1323.1 1697.2H1329.5V1711.2H1323.1Z"/>
<path fill="#0023f5" d="M1323.1 1711.2H1329.5V1729.2H1323.1Z"/>
<path fill="#000fec" d="M1323.1 1729.2H1329.5V1792.2H1323.1Z"/>
<path fill="#007eff" d="M1329.5 1687.2H1335.8V1697.2H1329.5Z"/>
<path fill="#0040ff" d="M1329.5 1697.2H1335.8V1711.2H1329.5Z"/>
<path fill="#0012ef" d="M1329.5 1711.2H1335.8V1729.2H1329.5Z"/>
<path fill="#000ae8" d="M1329.5 1729.2H1335.8V1792.2H1329.5Z"/>
<path fill="#009cff" d="M1335.8 1687.2H1342.1V1697.2H1335.8Z"/>
<path fill="#0058ff" d="M1335.8 1697.2H1342.1V1711.2H1335.8Z"/>
<path fill="#001ef4" d="M1335.8 1711.2H1342.1V1729.2H1335.8Z"/>
<path fill="#000deb" d="M1335.8 1729.2H1342.1V1792.2H1335.8Z"/>
<path fill="#005fff" d="M1342.1 1687.2H1348.5V1697.2H1342.1Z"/>
<path fill="#0028f7" d="M1342.1 1697.2H1348.5V1711.2H1342.1Z"/>
<path fill="#000deb" d="M1342.1 1711.2H1348.5V1729.2H1342.1Z"/>
<path fill="#0007e6" d="M1342.1 1729.2H1348.5V1792.2H1342.1Z"/>
<path fill="#007aff" d="M1348.5 1687.2H1354.8V1697.2H1348.5Z"/>
<path fill="#003dff" d="M1348.5 1697.2H1354.8V1711.2H1348.5Z"/>
<path fill="#0012ee" d="M1348.5 1711.2H1354.8V1729.2H1348.5Z"/>
<path fill="#0009e8" d="M1348.5 1729.2H1354.8V1792.2H1348.5Z"/>
<path fill="#008cff" d="M1354.8 1687.2H1361.2V1697.2H1354.8Z"/>
<path fill="#004bff" d="M1354.8 1697.2H1361.2V1711.2H1354.8Z"/>
<path fill="#0017f1" d="M1354.8 1711.2H1361.2V1729.2H1354.8Z"/>
<path fill="#000be9" d="M1354.8 1729.2H1361.2V1792.2H1354.8Z"/>
<path fill="#009cff" d="M1361.2 1687.2H1367.5V1697.2H1361.2Z"/>
<path fill="#0058ff" d="M1361.2 1697.2H1367.5V1711.2H1361.2Z"/>
<path fill="#001ef4" d="M1361.2 1711.2H1367.5V1729.2H1361.2Z"/>
<path fill="#000deb" d="M1361.2 1729.2H1367.5V1792.2H1361.2Z"/>
<path fill="#0082ff" d="M1367.5 1687.2H1373.8V1697.2H1367.5Z"/>
<path fill="#0043ff" d="M1367.5 1697.2H1373.8V1711.2H1367.5Z"/>
<path fill="#0013f0" d="M1367.5 1711.2H1373.8V1729.2H1367.5Z"/>
<path fill="#000ae9" d="M1367.5 1729.2H1373.8V1792.2H1367.5Z"/>
<path fill="#00a4ff" d="M1373.8 1687.2H1380.2V1697.2H1373.8Z"/>
<path fill="#005eff" d="M1373.8 1697.2H1380.2V1711.2H1373.8Z"/>
<path fill="#0021f5" d="M1373.8 1711.2H1380.2V1729.2H1373.8Z"/>
<path fill="#000eec" d="M1373.8 1729.2H1380.2V1792.2H1373.8Z"/>
<path fill="#0082ff" d="M1380.2 1687.2H1386.5V1697.2H1380.2Z"/>
<path fill="#0043ff" d="M1380.2 1697.2H1386.5V1711.2H1380.2Z"/>
<path fill="#0014f0" d="M1380.2 1711.2H1386.5V1729.2H1380.2Z"/>
<path fill="#000ae9" d="M1380.2 1729.2H1386.5V1792.2H1380.2Z"/>
<path fill="#00b1ff" d="M1386.5 1687.2H1392.9V1697.2H1386.5Z"/>
<path fill="#0067ff" d="M1386.5 1697.2H1392.9V1711.2H1386.5Z"/>
<path fill="#0026f7" d="M1386.5 1711.2H1392.9V1729.2H1386.5Z"/>
<path fill="#0010ed" d="M1386.5 1729.2H1392.9V1792.2H1386.5Z"/>
<path fill="#00bbff" d="M1392.9 1687.2H1399.2V1697.2H1392.9Z"/>
<path fill="#006fff" d="M1392.9 1697.2H1399.2V1711.2H1392.9Z"/>
<path fill="#002af8" d="M1392.9 1711.2H1399.2V1729.2H1392.9Z"/>
<path fill="#0011ed" d="M1392.9 1729.2H1399.2V1792.2H1392.9Z"/>
<path fill="#0091ff" d="M1399.2 1687.2H1405.5V1697.2H1399.2Z"/>
<path fill="#004fff" d="M1399.2 1697.2H1405.5V1711.2H1399.2Z"/>
<path fill="#0019f2" d="M1399.2 1711.2H1405.5V1729.2H1399.2Z"/>
<path fill="#000cea" d="M1399.2 1729.2H1405.5V1792.2H1399.2Z"/>
<path fill="#0071ff" d="M1405.5 1687.2H1411.9V1697.2H1405.5Z"/>
<path fill="#0035fc" d="M1405.5 1697.2H1411.9V1711.2H1405.5Z"/>
<path fill="#0010ed" d="M1405.5 1711.2H1411.9V1729.2H1405.5Z"/>
<path fill="#0008e7" d="M1405.5 1729.2H1411.9V1792.2H1405.5Z"/>
<path fill="#00b7ff" d="M1411.9 1687.2H1418.2V1697.2H1411.9Z"/>
<path fill="#006cff" d="M1411.9 1697.2H1418.2V1711.2H1411.9Z"/>
<path fill="#0029f8" d="M1411.9 1711.2H1418.2V1729.2H1411.9Z"/>
<path fill="#0010ed" d="M1411.9 1729.2H1418.2V1792.2H1411.9Z"/>
<path fill="#00a0ff" d="M1418.2 1687.2H1424.6V1697.2H1418.2Z"/>
<path fill="#005bff" d="M1418.2 1697.2H1424.6V1711.2H1418.2Z"/>
<path fill="#0020f4" d="M1418.2 1711.2H1424.6V1729.2H1418.2Z"/>
<path fill="#000eeb" d="M1418.2 1729.2H1424.6V1792.2H1418.2Z"/>
<path fill="#00a3ff" d="M1424.6 1687.2H1430.9V1697.2H1424.6Z"/>
<path fill="#005eff" d="M1424.6 1697.2H1430.9V1711.2H1424.6Z"/>
<path fill="#0021f5" d="M1424.6 1711.2H1430.9V1729.2H1424.6Z"/>
<path fill="#000eec" d="M1424.6 1729.2H1430.9V1792.2H1424.6Z"/>
<path fill="#00a8ff" d="M1430.9 1687.2H1437.3V1697.2H1430.9Z"/>
<path fill="#0061ff" d="M1430.9 1697.2H1437.3V1711.2H1430.9Z"/>
<path fill="#0023f6" d="M1430.9 1711.2H1437.3V1729.2H1430.9Z"/>
<path fill="#000fec" d="M1430.9 1729.2H1437.3V1792.2H1430.9Z"/>
<path fill="#009eff" d="M1437.3 1687.2H1443.6V1697.2H1437.3Z"/>
<path fill="#0059ff" d="M1437.3 1697.2H1443.6V1711.2H1437.3Z"/>
<path fill="#001ff4" d="M1437.3 1711.2H1443.6V1729.2H1437.3Z"/>
<path fill="#000deb" d="M1437.3 1729.2H1443.6V1792.2H1437.3Z"/>
<path fill="#009aff" d="M1443.6 1687.2H1449.9V1697.2H1443.6Z"/>
<path fill="#0056ff" d="M1443.6 1697.2H1449.9V1711.2H1443.6Z"/>
<path fill="#001df3" d="M1443.6 1711.2H1449.9V1729.2H1443.6Z"/>
<path fill="#000deb" d="M1443.6 1729.2H1449.9V1792.2H1443.6Z"/>
<path fill="#009bff" d="M1449.9 1687.2H1456.3V1697.2H1449.9Z"/>
<path fill="#0057ff" d="M1449.9 1697.2H1456.3V1711.2H1449.9Z"/>
<path fill="#001ef4" d="M1449.9 1711.2H1456.3V1729.2H1449.9Z"/>
<path fill="#000deb" d="M1449.9 1729.2H1456.3V1792.2H1449.9Z"/>
<path fill="#0061ff" d="M1456.3 1687.2H1462.6V1697.2H1456.3Z"/>
<path fill="#0029f8" d="M1456.3 1697.2H1462.6V1711.2H1456.3Z"/>
<path fill="#000deb" d="M1456.3 1711.2H1462.6V1729.2H1456.3Z"/>
<path fill="#0007e6" d="M1456.3 1729.2H1462.6V1792.2H1456.3Z"/>
<path fill="#008aff" d="M1462.6 1687.2H1469V1697.2H1462.6Z"/>
<path fill="#004aff" d="M1462.6 1697.2H1469V1711.2H1462.6Z"/>
<path fill="#0016f1" d="M1462.6 1711.2H1469V1729.2H1462.6Z"/>
<path fill="#000be9" d="M1462.6 1729.2H1469V1792.2H1462.6Z"/>
<path fill="#0077ff" d="M1469 1687.2H1475.3V1697.2H1469Z"/>
<path fill="#003afe" d="M1469 1697.2H1475.3V1711.2H1469Z"/>
<path fill="#0011ee" d="M1469 1711.2H1475.3V1729.2H1469Z"/>
<path fill="#0009e8" d="M1469 1729.2H1475.3V1792.2H1469Z"/>
<path fill="#009bff" d="M1475.3 1687.2H1481.6V1697.2H1475.3Z"/>
<path fill="#0057ff" d="M1475.3 1697.2H1481.6V1711.2H1475.3Z"/>
<path fill="#001df4" d="M1475.3 1711.2H1481.6V1729.2H1475.3Z"/>
<path fill="#000deb" d="M1475.3 1729.2H1481.6V1792.2H1475.3Z"/>
<path fill="#00c5ff" d="M1475.3 1687.2H1481.6V1735.8H1475.3Z"/>
<path fill="#0064ff" d="M1481.6 1687.2H1488V1697.2H1481.6Z"/>
<path fill="#002bf9" d="M1481.6 1697.2H1488V1711.2H1481.6Z"/>
<path fill="#000eeb" d="M1481.6 1711.2H1488V1729.2H1481.6Z"/>
<path fill="#0007e6" d="M1481.6 1729.2H1488V1792.2H1481.6Z"/>
<path fill="#00c2ff" d="M1481.6 1687.2H1488V1728.1H1481.6Z"/>
<path fill="#0074ff" d="M1488 1687.2H1494.3V1697.2H1488Z"/>
<path fill="#0038fd" d="M1488 1697.2H1494.3V1711.2H1488Z"/>
<path fill="#0010ed" d="M1488 1711.2H1494.3V1729.2H1488Z"/>
<path fill="#0009e7" d="M1488 1729.2H1494.3V1792.2H1488Z"/>
<path fill="#00ceff" d="M1488 1687.2H1494.3V1735.5H1488Z"/>
<path fill="#0099ff" d="M1494.3 1687.2H1500.7V1697.2H1494.3Z"/>
<path fill="#0055ff" d="M1494.3 1697.2H1500.7V1711.2H1494.3Z"/>
<path fill="#001df3" d="M1494.3 1711.2H1500.7V1729.2H1494.3Z"/>
<path fill="#000deb" d="M1494.3 1729.2H1500.7V1792.2H1494.3Z"/>
<path fill="#0079ff" d="M1500.7 1687.2H1507V1697.2H1500.7Z"/>
<path fill="#003cff" d="M1500.7 1697.2H1507V1711.2H1500.7Z"/>
<path fill="#0011ee" d="M1500.7 1711.2H1507V1729.2H1500.7Z"/>
<path fill="#0009e8" d="M1500.7 1729.2H1507V1792.2H1500.7Z"/>
<path fill="#005eff" d="M1507 1687.2H1513.3V1697.2H1507Z"/>
<path fill="#0027f7" d="M1507 1697.2H1513.3V1711.2H1507Z"/>
<path fill="#000dea" d="M1507 1711.2H1513.3V1729.2H1507Z"/>
<path fill="#0007e6" d="M1507 1729.2H1513.3V1792.2H1507Z"/>
<path fill="#007cff" d="M1513.3 1687.2H1519.7V1697.2H1513.3Z"/>
<path fill="#003eff" d="M1513.3 1697.2H1519.7V1711.2H1513.3Z"/>
<path fill="#0012ef" d="M1513.3 1711.2H1519.7V1729.2H1513.3Z"/>
<path fill="#0009e8" d="M1513.3 1729.2H1519.7V1792.2H1513.3Z"/>
<path fill="#006bff" d="M1519.7 1687.2H1526V1697.2H1519.7Z"/>
<path fill="#0031fb" d="M1519.7 1697.2H1526V1711.2H1519.7Z"/>
<path fill="#000fec" d="M1519.7 1711.2H1526V1729.2H1519.7Z"/>
<path fill="#0008e7" d="M1519.7 1729.2H1526V1792.2H1519.7Z"/>
<path fill="#0084ff" d="M1526 1687.2H1532.4V1697.2H1526Z"/>
<path fill="#0045ff" d="M1526 1697.2H1532.4V1711.2H1526Z"/>
<path fill="#0014f0" d="M1526 1711.2H1532.4V1729.2H1526Z"/>
<path fill="#000ae9" d="M1526 1729.2H1532.4V1792.2H1526Z"/>
<path fill="#00bdff" d="M1526 1687.2H1532.4V1742.9H1526Z"/>
<path fill="#0093ff" d="M1532.4 1687.2H1538.7V1697.2H1532.4Z"/>
<path fill="#0051ff" d="M1532.4 1697.2H1538.7V1711.2H1532.4Z"/>
<path fill="#001af2" d="M1532.4 1711.2H1538.7V1729.2H1532.4Z"/>
<path fill="#000cea" d="M1532.4 1729.2H1538.7V1792.2H1532.4Z"/>
<path fill="#0096ff" d="M1538.7 1687.2H1545V1697.2H1538.7Z"/>
<path fill="#0053ff" d="M1538.7 1697.2H1545V1711.2H1538.7Z"/>
<path fill="#001cf3" d="M1538.7 1711.2H1545V1729.2H1538.7Z"/>
<path fill="#000dea" d="M1538.7 1729.2H1545V1792.2H1538.7Z"/>
<path fill="#00acff" d="M1545 1687.2H1551.4V1697.2H1545Z"/>
<path fill="#0064ff" d="M1545 1697.2H1551.4V1711.2H1545Z"/>
<path fill="#0024f6" d="M1545 1711.2H1551.4V1729.2H1545Z"/>
<path fill="#000fec" d="M1545 1729.2H1551.4V1792.2H1545Z"/>
<path fill="#00abff" d="M1551.4 1687.2H1557.7V1697.2H1551.4Z"/>
<path fill="#0063ff" d="M1551.4 1697.2H1557.7V1711.2H1551.4Z"/>
<path fill="#0024f6" d="M1551.4 1711.2H1557.7V1729.2H1551.4Z"/>
<path fill="#000fec" d="M1551.4 1729.2H1557.7V1792.2H1551.4Z"/>
<path fill="#0084ff" d="M1557.7 1687.2H1564.1V1697.2H1557.7Z"/>
<path fill="#0045ff" d="M1557.7 1697.2H1564.1V1711.2H1557.7Z"/>
<path fill="#0014f0" d="M1557.7 1711.2H1564.1V1729.2H1557.7Z"/>
<path fill="#000ae9" d="M1557.7 1729.2H1564.1V1792.2H1557.7Z"/>
<path fill="#0098ff" d="M1564.1 1687.2H1570.4V1697.2H1564.1Z"/>
<path fill="#0054ff" d="M1564.1 1697.2H1570.4V1711.2H1564.1Z"/>
<path fill="#001cf3" d="M1564.1 1711.2H1570.4V1729.2H1564.1Z"/>
<path fill="#000deb" d="M1564.1 1729.2H1570.4V1792.2H1564.1Z"/>
<path fill="#00b9ff" d="M1570.4 1687.2H1576.8V1697.2H1570.4Z"/>
<path fill="#006dff" d="M1570.4 1697.2H1576.8V1711.2H1570.4Z"/>
<path fill="#002af8" d="M1570.4 1711.2H1576.8V1729.2H1570.4Z"/>
<path fill="#0010ed" d="M1570.4 1729.2H1576.8V1792.2H1570.4Z"/>
<path fill="#0099ff" d="M1576.8 1687.2H1583.1V1697.2H1576.8Z"/>
<path fill="#0055ff" d="M1576.8 1697.2H1583.1V1711.2H1576.8Z"/>
<path fill="#001df3" d="M1576.8 1711.2H1583.1V1729.2H1576.8Z"/>
<path fill="#000deb" d="M1576.8 1729.2H1583.1V1792.2H1576.8Z"/>
<path fill="#00b3ff" d="M1583.1 1687.2H1589.4V1697.2H1583.1Z"/>
<path fill="#0069ff" d="M1583.1 1697.2H1589.4V1711.2H1583.1Z"/>
<path fill="#0027f7" d="M1583.1 1711.2H1589.4V1729.2H1583.1Z"/>
<path fill="#0010ed" d="M1583.1 1729.2H1589.4V1792.2H1583.1Z"/>
<path fill="#01d8ff" d="M1583.1 1687.2H1589.4V1717.6H1583.1Z"/>
<path fill="#0099ff" d="M1589.4 1687.2H1595.8V1697.2H1589.4Z"/>
<path fill="#0056ff" d="M1589.4 1697.2H1595.8V1711.2H1589.4Z"/>
<path fill="#001df3" d="M1589.4 1711.2H1595.8V1729.2H1589.4Z"/>
<path fill="#000deb" d="M1589.4 1729.2H1595.8V1792.2H1589.4Z"/>
<path fill="#009bff" d="M1595.8 1687.2H1602.1V1697.2H1595.8Z"/>
<path fill="#0057ff" d="M1595.8 1697.2H1602.1V1711.2H1595.8Z"/>
<path fill="#001df4" d="M1595.8 1711.2H1602.1V1729.2H1595.8Z"/>
<path fill="#000deb" d="M1595.8 1729.2H1602.1V1792.2H1595.8Z"/>
<path fill="#0085ff" d="M1602.1 1687.2H1608.5V1697.2H1602.1Z"/>
<path fill="#0045ff" d="M1602.1 1697.2H1608.5V1711.2H1602.1Z"/>
<path fill="#0014f0" d="M1602.1 1711.2H1608.5V1729.2H1602.1Z"/>
<path fill="#000ae9" d="M1602.1 1729.2H1608.5V1792.2H1602.1Z"/>
<path fill="#0078ff" d="M1608.5 1687.2H1614.8V1697.2H1608.5Z"/>
<path fill="#003bfe" d="M1608.5 1697.2H1614.8V1711.2H1608.5Z"/>
<path fill="#0011ee" d="M1608.5 1711.2H1614.8V1729.2H1608.5Z"/>
<path fill="#0009e8" d="M1608.5 1729.2H1614.8V1792.2H1608.5Z"/>
<path fill="#00baff" d="M1614.8 1687.2H1621.1V1697.2H1614.8Z"/>
<path fill="#006eff" d="M1614.8 1697.2H1621.1V1711.2H1614.8Z"/>
<path fill="#002af8" d="M1614.8 1711.2H1621.1V1729.2H1614.8Z"/>
<path fill="#0011ed" d="M1614.8 1729.2H1621.1V1792.2H1614.8Z"/>
<path fill="#00b9ff" d="M1621.1 1687.2H1627.5V1697.2H1621.1Z"/>
<path fill="#006eff" d="M1621.1 1697.2H1627.5V1711.2H1621.1Z"/>
<path fill="#002af8" d="M1621.1 1711.2H1627.5V1729.2H1621.1Z"/>
<path fill="#0010ed" d="M1621.1 1729.2H1627.5V1792.2H1621.1Z"/>
<path fill="#0098ff" d="M1627.5 1687.2H1633.8V1697.2H1627.5Z"/>
<path fill="#0054ff" d="M1627.5 1697.2H1633.8V1711.2H1627.5Z"/>
<path fill="#001cf3" d="M1627.5 1711.2H1633.8V1729.2H1627.5Z"/>
<path fill="#000deb" d="M1627.5 1729.2H1633.8V1792.2H1627.5Z"/>
<path fill="#00bbff" d="M1633.8 1687.2H1640.2V1697.2H1633.8Z"/>
<path fill="#006fff" d="M1633.8 1697.2H1640.2V1711.2H1633.8Z"/>
<path fill="#002af8" d="M1633.8 1711.2H1640.2V1729.2H1633.8Z"/>
<path fill="#0011ee" d="M1633.8 1729.2H1640.2V1792.2H1633.8Z"/>
<path fill="#0088ff" d="M1640.2 1687.2H1646.5V1697.2H1640.2Z"/>
<path fill="#0048ff" d="M1640.2 1697.2H1646.5V1711.2H1640.2Z"/>
<path fill="#0015f1" d="M1640.2 1711.2H1646.5V1729.2H1640.2Z"/>
<path fill="#000be9" d="M1640.2 1729.2H1646.5V1792.2H1640.2Z"/>
<path fill="#00bbff" d="M1646.5 1687.2H1652.8V1697.2H1646.5Z"/>
<path fill="#006fff" d="M1646.5 1697.2H1652.8V1711.2H1646.5Z"/>
<path fill="#002bf8" d="M1646.5 1711.2H1652.8V1729.2H1646.5Z"/>
<path fill="#0011ee" d="M1646.5 1729.2H1652.8V1792.2H1646.5Z"/>
<path fill="#007dff" d="M1652.8 1687.2H1659.2V1697.2H1652.8Z"/>
<path fill="#003fff" d="M1652.8 1697.2H1659.2V1711.2H1652.8Z"/>
<path fill="#0012ef" d="M1652.8 1711.2H1659.2V1729.2H1652.8Z"/>
<path fill="#0009e8" d="M1652.8 1729.2H1659.2V1792.2H1652.8Z"/>
<path fill="#006cff" d="M1659.2 1687.2H1665.5V1697.2H1659.2Z"/>
<path fill="#0031fb" d="M1659.2 1697.2H1665.5V1711.2H1659.2Z"/>
<path fill="#000fec" d="M1659.2 1711.2H1665.5V1729.2H1659.2Z"/>
<path fill="#0008e7" d="M1659.2 1729.2H1665.5V1792.2H1659.2Z"/>
<path fill="#008bff" d="M1665.5 1687.2H1671.9V1697.2H1665.5Z"/>
<path fill="#004aff" d="M1665.5 1697.2H1671.9V1711.2H1665.5Z"/>
<path fill="#0017f1" d="M1665.5 1711.2H1671.9V1729.2H1665.5Z"/>
<path fill="#000be9" d="M1665.5 1729.2H1671.9V1792.2H1665.5Z"/>
<path fill="#00a8ff" d="M1671.9 1687.2H1678.2V1697.2H1671.9Z"/>
<path fill="#0061ff" d="M1671.9 1697.2H1678.2V1711.2H1671.9Z"/>
<path fill="#0023f6" d="M1671.9 1711.2H1678.2V1729.2H1671.9Z"/>
<path fill="#000fec" d="M1671.9 1729.2H1678.2V1792.2H1671.9Z"/>
<path fill="#005fff" d="M1678.2 1687.2H1684.6V1697.2H1678.2Z"/>
<path fill="#0028f7" d="M1678.2 1697.2H1684.6V1711.2H1678.2Z"/>
<path fill="#000deb" d="M1678.2 1711.2H1684.6V1729.2H1678.2Z"/>
<path fill="#0007e6" d="M1678.2 1729.2H1684.6V1792.2H1678.2Z"/>
<path fill="#007cff" d="M1684.6 1687.2H1690.9V1697.2H1684.6Z"/>
<path fill="#003eff" d="M1684.6 1697.2H1690.9V1711.2H1684.6Z"/>
<path fill="#0012ee" d="M1684.6 1711.2H1690.9V1729.2H1684.6Z"/>
<path fill="#0009e8" d="M1684.6 1729.2H1690.9V1792.2H1684.6Z"/>
<path fill="#00a8ff" d="M1690.9 1687.2H1697.2V1697.2H1690.9Z"/>
<path fill="#0061ff" d="M1690.9 1697.2H1697.2V1711.2H1690.9Z"/>
<path fill="#0023f6" d="M1690.9 1711.2H1697.2V1729.2H1690.9Z"/>
<path fill="#000fec" d="M1690.9 1729.2H1697.2V1792.2H1690.9Z"/>
<path fill="#007bff" d="M1697.2 1687.2H1703.6V1697.2H1697.2Z"/>
<path fill="#003eff" d="M1697.2 1697.2H1703.6V1711.2H1697.2Z"/>
<path fill="#0012ee" d="M1697.2 1711.2H1703.6V1729.2H1697.2Z"/>
<path fill="#0009e8" d="M1697.2 1729.2H1703.6V1792.2H1697.2Z"/>
<path fill="#00bcff" d="M1703.6 1687.2H1709.9V1697.2H1703.6Z"/>
<path fill="#0070ff" d="M1703.6 1697.2H1709.9V1711.2H1703.6Z"/>
<path fill="#002bf9" d="M1703.6 1711.2H1709.9V1729.2H1703.6Z"/>
<path fill="#0011ee" d="M1703.6 1729.2H1709.9V1792.2H1703.6Z"/>
<path fill="#004eff" d="M1709.9 1687.2H1716.3V1697.2H1709.9Z"/>
<path fill="#001bf3" d="M1709.9 1697.2H1716.3V1711.2H1709.9Z"/>
<path fill="#000ae8" d="M1709.9 1711.2H1716.3V1729.2H1709.9Z"/>
<path fill="#0050ff" d="M1716.3 1687.2H1722.6V1697.2H1716.3Z"/>
<path fill="#001cf3" d="M1716.3 1697.2H1722.6V1711.2H1716.3Z"/>
<path fill="#000ae9" d="M1716.3 1711.2H1722.6V1729.2H1716.3Z"/>
<path fill="#0055ff" d="M1722.6 1687.2H1728.9V1697.2H1722.6Z"/>
<path fill="#0020f4" d="M1722.6 1697.2H1728.9V1711.2H1722.6Z"/>
<path fill="#000be9" d="M1722.6 1711.2H1728.9V1729.2H1722.6Z"/>
<path fill="#0055ff" d="M1728.9 1687.2H1735.3V1697.2H1728.9Z"/>
<path fill="#0020f5" d="M1728.9 1697.2H1735.3V1711.2H1728.9Z"/>
<path fill="#000be9" d="M1728.9 1711.2H1735.3V1729.2H1728.9Z"/>
<path fill="#004bff" d="M1735.3 1687.2H1741.6V1697.2H1735.3Z"/>
<path fill="#0018f2" d="M1735.3 1697.2H1741.6V1711.2H1735.3Z"/>
<path fill="#0009e8" d="M1735.3 1711.2H1741.6V1729.2H1735.3Z"/>
<path fill="#0040ff" d="M1741.6 1687.2H1748V1697.2H1741.6Z"/>
<path fill="#0012ee" d="M1741.6 1697.2H1748V1711.2H1741.6Z"/>
<path fill="#0007e7" d="M1741.6 1711.2H1748V1729.2H1741.6Z"/>
<path fill="#0048ff" d="M1748 1687.2H1754.3V1697.2H1748Z"/>
<path fill="#0016f1" d="M1748 1697.2H1754.3V1711.2H1748Z"/>
<path fill="#0009e8" d="M1748 1711.2H1754.3V1729.2H1748Z"/>
<path fill="#0055ff" d="M1754.3 1687.2H1760.6V1697.2H1754.3Z"/>
<path fill="#0020f4" d="M1754.3 1697.2H1760.6V1711.2H1754.3Z"/>
<path fill="#000be9" d="M1754.3 1711.2H1760.6V1729.2H1754.3Z"/>
<path fill="#0032fb" d="M1760.6 1687.2H1767V1697.2H1760.6Z"/>
<path fill="#000deb" d="M1760.6 1697.2H1767V1711.2H1760.6Z"/>
<path fill="#0005e5" d="M1760.6 1711.2H1767V1729.2H1760.6Z"/>
<path fill="#0047ff" d="M1767 1687.2H1773.3V1697.2H1767Z"/>
<path fill="#0015f1" d="M1767 1697.2H1773.3V1711.2H1767Z"/>
<path fill="#0009e7" d="M1767 1711.2H1773.3V1729.2H1767Z"/>
<path fill="#005bff" d="M1773.3 1687.2H1779.7V1697.2H1773.3Z"/>
<path fill="#0025f6" d="M1773.3 1697.2H1779.7V1711.2H1773.3Z"/>
<path fill="#000cea" d="M1773.3 1711.2H1779.7V1729.2H1773.3Z"/>
<path fill="#0031fb" d="M1779.7 1687.2H1786V1697.2H1779.7Z"/>
<path fill="#000cea" d="M1779.7 1697.2H1786V1711.2H1779.7Z"/>
<path fill="#0005e5" d="M1779.7 1711.2H1786V1729.2H1779.7Z"/>
<path fill="#0046ff" d="M1786 1687.2H1792.3V1697.2H1786Z"/>
<path fill="#0014f0" d="M1786 1697.2H1792.3V1711.2H1786Z"/>
<path fill="#0008e7" d="M1786 1711.2H1792.3V1729.2H1786Z"/>
<path fill="#0053ff" d="M1792.3 1687.2H1798.7V1697.2H1792.3Z"/>
<path fill="#001ef4" d="M1792.3 1697.2H1798.7V1711.2H1792.3Z"/>
<path fill="#000be9" d="M1792.3 1711.2H1798.7V1729.2H1792.3Z"/>
<path fill="#0049ff" d="M1798.7 1687.2H1805V1697.2H1798.7Z"/>
<path fill="#0016f1" d="M1798.7 1697.2H1805V1711.2H1798.7Z"/>
<path fill="#0009e8" d="M1798.7 1711.2H1805V1729.2H1798.7Z"/>
<path fill="#0044ff" d="M1805 1687.2H1811.4V1697.2H1805Z"/>
<path fill="#0013f0" d="M1805 1697.2H1811.4V1711.2H1805Z"/>
<path fill="#0008e7" d="M1805 1711.2H1811.4V1729.2H1805Z"/>
<path fill="#005aff" d="M1811.4 1687.2H1817.7V1697.2H1811.4Z"/>
<path fill="#0023f6" d="M1811.4 1697.2H1817.7V1711.2H1811.4Z"/>
<path fill="#000cea" d="M1811.4 1711.2H1817.7V1729.2H1811.4Z"/>
<path fill="#0040ff" d="M1817.7 1687.2H1824.1V1697.2H1817.7Z"/>
<path fill="#0012ee" d="M1817.7 1697.2H1824.1V1711.2H1817.7Z"/>
<path fill="#0007e7" d="M1817.7 1711.2H1824.1V1729.2H1817.7Z"/>
<path fill="#0034fc" d="M1824.1 1687.2H1830.4V1697.2H1824.1Z"/>
<path fill="#000deb" d="M1824.1 1697.2H1830.4V1711.2H1824.1Z"/>
<path fill="#0006e5" d="M1824.1 1711.2H1830.4V1729.2H1824.1Z"/>
<path fill="#0052ff" d="M1830.4 1687.2H1836.7V1697.2H1830.4Z"/>
<path fill="#001ef4" d="M1830.4 1697.2H1836.7V1711.2H1830.4Z"/>
<path fill="#000be9" d="M1830.4 1711.2H1836.7V1729.2H1830.4Z"/>
<path fill="#0040ff" d="M1836.7 1687.2H1843.1V1697.2H1836.7Z"/>
<path fill="#0011ee" d="M1836.7 1697.2H1843.1V1711.2H1836.7Z"/>
<path fill="#0007e6" d="M1836.7 1711.2H1843.1V1729.2H1836.7Z"/>
<path fill="#005cff" d="M1843.1 1687.2H1849.4V1697.2H1843.1Z"/>
<path fill="#0026f7" d="M1843.1 1697.2H1849.4V1711.2H1843.1Z"/>
<path fill="#000cea" d="M1843.1 1711.2H1849.4V1729.2H1843.1Z"/>
<path fill="#0048ff" d="M1849.4 1687.2H1855.8V1697.2H1849.4Z"/>
<path fill="#0016f1" d="M1849.4 1697.2H1855.8V1711.2H1849.4Z"/>
<path fill="#0009e8" d="M1849.4 1711.2H1855.8V1729.2H1849.4Z"/>
<path fill="#0049ff" d="M1855.8 1687.2H1862.1V1697.2H1855.8Z"/>
<path fill="#0017f1" d="M1855.8 1697.2H1862.1V1711.2H1855.8Z"/>
<path fill="#0009e8" d="M1855.8 1711.2H1862.1V1729.2H1855.8Z"/>
<path fill="#0039fe" d="M1862.1 1687.2H1868.4V1697.2H1862.1Z"/>
<path fill="#000fec" d="M1862.1 1697.2H1868.4V1711.2H1862.1Z"/>
<path fill="#0006e6" d="M1862.1 1711.2H1868.4V1729.2H1862.1Z"/>
<path fill="#0058ff" d="M1868.4 1687.2H1874.8V1697.2H1868.4Z"/>
<path fill="#0022f5" d="M1868.4 1697.2H1874.8V1711.2H1868.4Z"/>
<path fill="#000bea" d="M1868.4 1711.2H1874.8V1729.2H1868.4Z"/>
<path fill="#003dff" d="M1874.8 1687.2H1881.1V1697.2H1874.8Z"/>
<path fill="#0010ed" d="M1874.8 1697.2H1881.1V1711.2H1874.8Z"/>
<path fill="#0007e6" d="M1874.8 1711.2H1881.1V1729.2H1874.8Z"/>
<path fill="#0057ff" d="M1881.1 1687.2H1887.5V1697.2H1881.1Z"/>
<path fill="#0021f5" d="M1881.1 1697.2H1887.5V1711.2H1881.1Z"/>
<path fill="#000bea" d="M1881.1 1711.2H1887.5V1729.2H1881.1Z"/>
<path fill="#0031fb" d="M1887.5 1687.2H1893.8V1697.2H1887.5Z"/>
<path fill="#000cea" d="M1887.5 1697.2H1893.8V1711.2H1887.5Z"/>
<path fill="#0005e5" d="M1887.5 1711.2H1893.8V1729.2H1887.5Z"/>
<path fill="#005fff" d="M1893.8 1687.2H1900.1V1697.2H1893.8Z"/>
<path fill="#0028f7" d="M1893.8 1697.2H1900.1V1711.2H1893.8Z"/>
<path fill="#000deb" d="M1893.8 1711.2H1900.1V1729.2H1893.8Z"/>
<path fill="#0053ff" d="M1900.1 1687.2H1906.5V1697.2H1900.1Z"/>
<path fill="#001ef4" d="M1900.1 1697.2H1906.5V1711.2H1900.1Z"/>
<path fill="#000be9" d="M1900.1 1711.2H1906.5V1729.2H1900.1Z"/>
<path fill="#00c4ff" d="M1900.1 1687.2H1906.5V1754.3H1900.1Z"/>
<path fill="#0050ff" d="M1906.5 1687.2H1912.8V1697.2H1906.5Z"/>
<path fill="#001cf3" d="M1906.5 1697.2H1912.8V1711.2H1906.5Z"/>
<path fill="#000ae9" d="M1906.5 1711.2H1912.8V1729.2H1906.5Z"/>
<path fill="#0053ff" d="M1912.8 1687.2H1919.2V1697.2H1912.8Z"/>
<path fill="#001ef4" d="M1912.8 1697.2H1919.2V1711.2H1912.8Z"/>
<path fill="#000be9" d="M1912.8 1711.2H1919.2V1729.2H1912.8Z"/>
<path fill="#0040ff" d="M1919.2 1687.2H1925.5V1697.2H1919.2Z"/>
<path fill="#0012ee" d="M1919.2 1697.2H1925.5V1711.2H1919.2Z"/>
<path fill="#0007e7" d="M1919.2 1711.2H1925.5V1729.2H1919.2Z"/>
<path fill="#0039fe" d="M1925.5 1687.2H1931.8V1697.2H1925.5Z"/>
<path fill="#000fec" d="M1925.5 1697.2H1931.8V1711.2H1925.5Z"/>
<path fill="#0006e6" d="M1925.5 1711.2H1931.8V1729.2H1925.5Z"/>
<path fill="#0045ff" d="M1931.8 1687.2H1938.2V1697.2H1931.8Z"/>
<path fill="#0014f0" d="M1931.8 1697.2H1938.2V1711.2H1931.8Z"/>
<path fill="#0008e7" d="M1931.8 1711.2H1938.2V1729.2H1931.8Z"/>
<path fill="#004fff" d="M1938.2 1687.2H1944.5V1697.2H1938.2Z"/>
<path fill="#001bf3" d="M1938.2 1697.2H1944.5V1711.2H1938.2Z"/>
<path fill="#000ae8" d="M1938.2 1711.2H1944.5V1729.2H1938.2Z"/>
<path fill="#00ceff" d="M1938.2 1687.2H1944.5V1717.6H1938.2Z"/>
<path fill="#0034fc" d="M1944.5 1687.2H1950.9V1697.2H1944.5Z"/>
<path fill="#000deb" d="M1944.5 1697.2H1950.9V1711.2H1944.5Z"/>
<path fill="#0006e5" d="M1944.5 1711.2H1950.9V1729.2H1944.5Z"/>
<path fill="#004dff" d="M1950.9 1687.2H1957.2V1697.2H1950.9Z"/>
<path fill="#001af2" d="M1950.9 1697.2H1957.2V1711.2H1950.9Z"/>
<path fill="#000ae8" d="M1950.9 1711.2H1957.2V1729.2H1950.9Z"/>
<path fill="#005bff" d="M1957.2 1687.2H1963.6V1697.2H1957.2Z"/>
<path fill="#0024f6" d="M1957.2 1697.2H1963.6V1711.2H1957.2Z"/>
<path fill="#000cea" d="M1957.2 1711.2H1963.6V1729.2H1957.2Z"/>
<path fill="#0046ff" d="M1963.6 1687.2H1969.9V1697.2H1963.6Z"/>
<path fill="#0015f0" d="M1963.6 1697.2H1969.9V1711.2H1963.6Z"/>
<path fill="#0008e7" d="M1963.6 1711.2H1969.9V1729.2H1963.6Z"/>
<path fill="#004eff" d="M1969.9 1687.2H1976.2V1697.2H1969.9Z"/>
<path fill="#001bf2" d="M1969.9 1697.2H1976.2V1711.2H1969.9Z"/>
<path fill="#000ae8" d="M1969.9 1711.2H1976.2V1729.2H1969.9Z"/>
<path fill="#005eff" d="M1976.2 1687.2H1982.6V1697.2H1976.2Z"/>
<path fill="#0027f7" d="M1976.2 1697.2H1982.6V1711.2H1976.2Z"/>
<path fill="#000dea" d="M1976.2 1711.2H1982.6V1729.2H1976.2Z"/>
<path fill="#0033fc" d="M1982.6 1687.2H1988.9V1697.2H1982.6Z"/>
<path fill="#000deb" d="M1982.6 1697.2H1988.9V1711.2H1982.6Z"/>
<path fill="#0005e5" d="M1982.6 1711.2H1988.9V1729.2H1982.6Z"/>
<path fill="#0039fe" d="M1988.9 1687.2H1995.3V1697.2H1988.9Z"/>
<path fill="#000fec" d="M1988.9 1697.2H1995.3V1711.2H1988.9Z"/>
<path fill="#0006e6" d="M1988.9 1711.2H1995.3V1729.2H1988.9Z"/>
<path fill="#004aff" d="M1995.3 1687.2H2001.6V1697.2H1995.3Z"/>
<path fill="#0017f1" d="M1995.3 1697.2H2001.6V1711.2H1995.3Z"/>
<path fill="#0009e8" d="M1995.3 1711.2H2001.6V1729.2H1995.3Z"/>
<path fill="#004cff" d="M2001.6 1687.2H2007.9V1697.2H2001.6Z"/>
<path fill="#0019f2" d="M2001.6 1697.2H2007.9V1711.2H2001.6Z"/>
<path fill="#0009e8" d="M2001.6 1711.2H2007.9V1729.2H2001.6Z"/>
<path fill="#003fff" d="M2007.9 1687.2H2014.3V1697.2H2007.9Z"/>
<path fill="#0011ee" d="M2007.9 1697.2H2014.3V1711.2H2007.9Z"/>
<path fill="#0007e6" d="M2007.9 1711.2H2014.3V1729.2H2007.9Z"/>
<path fill="#003eff" d="M2014.3 1687.2H2020.6V1697.2H2014.3Z"/>
<path fill="#0011ee" d="M2014.3 1697.2H2020.6V1711.2H2014.3Z"/>
<path fill="#0007e6" d="M2014.3 1711.2H2020.6V1729.2H2014.3Z"/>
<path fill="#004aff" d="M2020.6 1687.2H2027V1697.2H2020.6Z"/>
<path fill="#0018f1" d="M2020.6 1697.2H2027V1711.2H2020.6Z"/>
<path fill="#0009e8" d="M2020.6 1711.2H2027V1729.2H2020.6Z"/>
<path fill="#003dff" d="M2027 1687.2H2033.3V1697.2H2027Z"/>
<path fill="#0011ed" d="M2027 1697.2H2033.3V1711.2H2027Z"/>
<path fill="#0007e6" d="M2027 1711.2H2033.3V1729.2H2027Z"/>
<path fill="#0054ff" d="M2033.3 1687.2H2039.6V1697.2H2033.3Z"/>
<path fill="#001ff4" d="M2033.3 1697.2H2039.6V1711.2H2033.3Z"/>
<path fill="#000be9" d="M2033.3 1711.2H2039.6V1729.2H2033.3Z"/>
<path fill="#0053ff" d="M2039.6 1687.2H2046V1697.2H2039.6Z"/>
<path fill="#001ff4" d="M2039.6 1697.2H2046V1711.2H2039.6Z"/>
<path fill="#000be9" d="M2039.6 1711.2H2046V1729.2H2039.6Z"/>
<path fill="#0035fc" d="M2046 1687.2H2052.3V1697.2H2046Z"/>
<path fill="#000eeb" d="M2046 1697.2H2052.3V1711.2H2046Z"/>
<path fill="#0006e5" d="M2046 1711.2H2052.3V1729.2H2046Z"/>
<path fill="#0035fc" d="M2052.3 1687.2H2058.7V1697.2H2052.3Z"/>
<path fill="#000eeb" d="M2052.3 1697.2H2058.7V1711.2H2052.3Z"/>
<path fill="#0006e5" d="M2052.3 1711.2H2058.7V1729.2H2052.3Z"/>
<path fill="#004eff" d="M2058.7 1687.2H2065V1697.2H2058.7Z"/>
<path fill="#001af2" d="M2058.7 1697.2H2065V1711.2H2058.7Z"/>
<path fill="#000ae8" d="M2058.7 1711.2H2065V1729.2H2058.7Z"/>
<path fill="#005bff" d="M2065 1687.2H2071.4V1697.2H2065Z"/>
<path fill="#0024f6" d="M2065 1697.2H2071.4V1711.2H2065Z"/>
<path fill="#000cea" d="M2065 1711.2H2071.4V1729.2H2065Z"/>
<path fill="#0041ff" d="M2071.4 1687.2H2077.7V1697.2H2071.4Z"/>
<path fill="#0012ef" d="M2071.4 1697.2H2077.7V1711.2H2071.4Z"/>
<path fill="#0008e7" d="M2071.4 1711.2H2077.7V1729.2H2071.4Z"/>
<path fill="#0031fb" d="M2077.7 1687.2H2084V1697.2H2077.7Z"/>
<path fill="#000dea" d="M2077.7 1697.2H2084V1711.2H2077.7Z"/>
<path fill="#0005e5" d="M2077.7 1711.2H2084V1729.2H2077.7Z"/>
<path fill="#0033fc" d="M2084 1687.2H2090.4V1697.2H2084Z"/>
<path fill="#000deb" d="M2084 1697.2H2090.4V1711.2H2084Z"/>
<path fill="#0005e5" d="M2084 1711.2H2090.4V1729.2H2084Z"/>
<path fill="#005eff" d="M2090.4 1687.2H2096.7V1697.2H2090.4Z"/>
<path fill="#0027f7" d="M2090.4 1697.2H2096.7V1711.2H2090.4Z"/>
<path fill="#000dea" d="M2090.4 1711.2H2096.7V1729.2H2090.4Z"/>
<path fill="#003dff" d="M2096.7 1687.2H2103.1V1697.2H2096.7Z"/>
<path fill="#0010ed" d="M2096.7 1697.2H2103.1V1711.2H2096.7Z"/>
<path fill="#0007e6" d="M2096.7 1711.2H2103.1V1729.2H2096.7Z"/>
<path fill="#005fff" d="M2103.1 1687.2H2109.4V1697.2H2103.1Z"/>
<path fill="#0028f7" d="M2103.1 1697.2H2109.4V1711.2H2103.1Z"/>
<path fill="#000deb" d="M2103.1 1711.2H2109.4V1729.2H2103.1Z"/>
<path fill="#0058ff" d="M2109.4 1687.2H2115.7V1697.2H2109.4Z"/>
<path fill="#0022f5" d="M2109.4 1697.2H2115.7V1711.2H2109.4Z"/>
<path fill="#000cea" d="M2109.4 1711.2H2115.7V1729.2H2109.4Z"/>
<path fill="#004fff" d="M2115.7 1687.2H2122.1V1697.2H2115.7Z"/>
<path fill="#001bf3" d="M2115.7 1697.2H2122.1V1711.2H2115.7Z"/>
<path fill="#000ae8" d="M2115.7 1711.2H2122.1V1729.2H2115.7Z"/>
<path fill="#003dff" d="M2122.1 1687.2H2128.4V1697.2H2122.1Z"/>
<path fill="#0011ed" d="M2122.1 1697.2H2128.4V1711.2H2122.1Z"/>
<path fill="#0007e6" d="M2122.1 1711.2H2128.4V1729.2H2122.1Z"/>
<path fill="#004fff" d="M2128.4 1687.2H2134.8V1697.2H2128.4Z"/>
<path fill="#001bf3" d="M2128.4 1697.2H2134.8V1711.2H2128.4Z"/>
<path fill="#000ae8" d="M2128.4 1711.2H2134.8V1729.2H2128.4Z"/>
<path fill="#0044ff" d="M2134.8 1687.2H2141.1V1697.2H2134.8Z"/>
<path fill="#0013f0" d="M2134.8 1697.2H2141.1V1711.2H2134.8Z"/>
<path fill="#0008e7" d="M2134.8 1711.2H2141.1V1729.2H2134.8Z"/>
<path fill="#0059ff" d="M2141.1 1687.2H2147.4V1697.2H2141.1Z"/>
<path fill="#0023f6" d="M2141.1 1697.2H2147.4V1711.2H2141.1Z"/>
<path fill="#000cea" d="M2141.1 1711.2H2147.4V1729.2H2141.1Z"/>
<path fill="#0057ff" d="M2147.4 1687.2H2153.8V1697.2H2147.4Z"/>
<path fill="#0022f5" d="M2147.4 1697.2H2153.8V1711.2H2147.4Z"/>
<path fill="#000bea" d="M2147.4 1711.2H2153.8V1729.2H2147.4Z"/>
<path fill="#005aff" d="M2153.8 1687.2H2160.1V1697.2H2153.8Z"/>
<path fill="#0023f6" d="M2153.8 1697.2H2160.1V1711.2H2153.8Z"/>
<path fill="#000cea" d="M2153.8 1711.2H2160.1V1729.2H2153.8Z"/>
<path fill="#004eff" d="M2160.1 1687.2H2166.5V1697.2H2160.1Z"/>
<path fill="#001af2" d="M2160.1 1697.2H2166.5V1711.2H2160.1Z"/>
<path fill="#000ae8" d="M2160.1 1711.2H2166.5V1729.2H2160.1Z"/>
<path fill="#0055ff" d="M2166.5 1687.2H2172.8V1697.2H2166.5Z"/>
<path fill="#001ff4" d="M2166.5 1697.2H2172.8V1711.2H2166.5Z"/>
<path fill="#000be9" d="M2166.5 1711.2H2172.8V1729.2H2166.5Z"/>
<path fill="#0035fd" d="M2172.8 1687.2H2179.1V1697.2H2172.8Z"/>
<path fill="#000eeb" d="M2172.8 1697.2H2179.1V1711.2H2172.8Z"/>
<path fill="#0006e5" d="M2172.8 1711.2H2179.1V1729.2H2172.8Z"/>
<path fill="#00b9ff" d="M2172.8 1687.2H2179.1V1722.3H2172.8Z"/>
<path fill="#005bff" d="M2179.1 1687.2H2185.5V1697.2H2179.1Z"/>
<path fill="#0025f6" d="M2179.1 1697.2H2185.5V1711.2H2179.1Z"/>
<path fill="#000cea" d="M2179.1 1711.2H2185.5V1729.2H2179.1Z"/>
<path fill="#0055ff" d="M2185.5 1687.2H2191.8V1697.2H2185.5Z"/>
<path fill="#0020f5" d="M2185.5 1697.2H2191.8V1711.2H2185.5Z"/>
<path fill="#000be9" d="M2185.5 1711.2H2191.8V1729.2H2185.5Z"/>
<path fill="#0be4ff" d="M2185.5 1687.2H2191.8V1735.7H2185.5Z"/>
<path fill="#004fff" d="M2191.8 1687.2H2198.2V1697.2H2191.8Z"/>
<path fill="#001bf3" d="M2191.8 1697.2H2198.2V1711.2H2191.8Z"/>
<path fill="#000ae8" d="M2191.8 1711.2H2198.2V1729.2H2191.8Z"/>
<path fill="#0048ff" d="M2198.2 1687.2H2204.5V1697.2H2198.2Z"/>
<path fill="#0016f1" d="M2198.2 1697.2H2204.5V1711.2H2198.2Z"/>
<path fill="#0009e8" d="M2198.2 1711.2H2204.5V1729.2H2198.2Z"/>
<path fill="#0050f5" d="M1114.8 1687.2H1122V2393.8H1114.8ZM962.6 1687.2H968.9V2016.1H962.6Z"/>
<path fill="#0020ea" d="M900.5 1687.2H909.9V2013H900.5Z"/>
<path fill="#0030ee" d="M1171.5 1855.4H1177.8V2016.1H1171.5Z"/>
<path fill="#0040f2" d="M1190.4 1687.2H1196.7V1967.3H1190.4Z"/>
<path fill="#ffffff" d="M893.2 1890.7H899.5V1903.6H893.2ZM911.5 1890.7H936.7V1903.6H911.5ZM951.9 1890.7H962.6V1903.6H951.9ZM968.9 1890.7H1013.9V1903.6H968.9ZM1021.8 1890.7H1072.2V1903.6H1021.8ZM1084.9 1890.7H1114.8V1903.6H1084.9ZM1122 1890.7H1171.5V1903.6H1122ZM1071.6 1872.7H1077.9V2369.1H1071.6ZM1058.1 1986.2H1072.2V2000.4H1058.1ZM1198.3 1970.4H1203V1983H1198.3ZM1267.6 1970.4H1272.4V1983H1267.6ZM1319.6 1986.2H1329.1V2000.4H1319.6ZM1337.6 1986.2H1343.3V2000.4H1337.6ZM1355.9 1937.4H1399.4V1952.5H1355.9ZM1407.9 1937.4H1437.8V1952.5H1407.9ZM1349.6 1970.4H1399.4V1983H1349.6ZM1355.9 1983H1399.4V2000.4H1355.9ZM1407.9 1970.4H1437.8V2000.4H1407.9ZM1355.9 2017.7H1437.8V2036.6H1355.9ZM1355.9 2058.7H1437.8V2076.7H1355.9ZM893.2 2099.7H1013.9V2117.6H893.2ZM893.2 2253.1H1013.9V2278.4H893.2ZM1021.8 2099.7H1114.8V2117.6H1021.8ZM1021.8 2253.1H1114.8V2278.4H1021.8ZM1122 2099.7H1273.3V2117.6H1122ZM1122 2253.1H1273.3V2278.4H1122ZM1280.3 2099.7H1437.8V2117.6H1280.3ZM1280.3 2253.1H1437.8V2278.4H1280.3ZM893.2 2167.4H1013.9V2193.6H893.2ZM893.2 2367.5H1013.9V2393.8H893.2ZM1021.8 2167.4H1114.8V2193.6H1021.8ZM1021.8 2367.5H1114.8V2393.8H1021.8ZM1122 2167.4H1185.1V2193.6H1122ZM1122 2367.5H1185.1V2393.8H1122ZM1192 2167.4H1273.3V2193.6H1192ZM1192 2367.5H1273.3V2393.8H1192ZM1280.3 2167.4H1437.8V2193.6H1280.3ZM1280.3 2367.5H1437.8V2393.8H1280.3ZM1445.7 2195.8H1463V2222.6H1445.7ZM1483.5 2195.8H1622.2V2222.6H1483.5ZM1465.6 2167.4H1470V2193.6H1465.6ZM1465.6 2224.1H1470V2278.4H1465.6ZM1489.8 2167.4H1494.5V2393.8H1489.8ZM1445.7 2308.3H1451.4V2336H1445.7ZM1458.3 2308.3H1476.3V2336H1458.3ZM1458.3 2336H1470V2393.8H1458.3ZM1494.5 2308.3H1527.6V2336H1494.5ZM1674.8 2279.9H1678.9V2307.7H1674.8ZM1667.3 2366.6H1671V2393.8H1667.3ZM1674.8 2366.6H1678.9V2393.8H1674.8Z"/>
</g></g>
<g shape-rendering="auto"><path d="M225.8 1392.5V1674.5M225.8 1687V2396.9M301.9 1392.5V1674.5M301.9 1687V2396.9M378 1392.5V1674.5M378 1687V2396.9M454 1392.5V1674.5M454 1687V2396.9M530.1 1392.5V1674.5M530.1 1687V2396.9M606.2 1392.5V1674.5M606.2 1687V2396.9M682.3 1392.5V1674.5M682.3 1687V2396.9M758.4 1392.5V1674.5M758.4 1687V2396.9M834.5 1392.5V1674.5M834.5 1687V2396.9M910.6 1392.5V1674.5M910.6 1687V2396.9M986.6 1392.5V1674.5M986.6 1687V2396.9M1062.7 1392.5V1674.5M1062.7 1687V2396.9M1138.8 1392.5V1674.5M1138.8 1687V2396.9M1214.9 1392.5V1674.5M1214.9 1687V2396.9M1291 1392.5V1674.5M1291 1687V2396.9M1367.1 1392.5V1674.5M1367.1 1687V2396.9M1443.1 1392.5V1674.5M1443.1 1687V2396.9M1519.2 1392.5V1674.5M1519.2 1687V2396.9M1595.3 1392.5V1674.5M1595.3 1687V2396.9M1671.4 1392.5V1674.5M1671.4 1687V2396.9M1747.5 1392.5V1674.5M1747.5 1687V2396.9M1823.6 1392.5V1674.5M1823.6 1687V2396.9M1899.7 1392.5V1674.5M1899.7 1687V2396.9M1975.7 1392.5V1674.5M1975.7 1687V2396.9M2051.8 1392.5V1674.5M2051.8 1687V2396.9M2127.9 1392.5V1674.5M2127.9 1687V2396.9" stroke="#b0b0b0" stroke-width="3" fill="none" opacity="0.55"/>
<path d="M149.7 1536.3H2204M149.7 1727H2204M149.7 1767.4H2204M149.7 1807.8H2204M149.7 1848.3H2204M149.7 1888.8H2204M149.7 1929.2H2204M149.7 1969.7H2204M149.7 2010.1H2204M149.7 2050.6H2204M149.7 2091H2204M149.7 2131.4H2204M149.7 2171.9H2204M149.7 2212.3H2204M149.7 2252.8H2204M149.7 2293.2H2204M149.7 2333.7H2204M149.7 2374.2H2204" stroke="#b0b0b0" stroke-width="3" fill="none" opacity="0.55"/>
<path d="M149.7 1392.5V1674.5M149.7 1687V2396.9M148.3 1393.9H2205M148.3 2396.9H2205" stroke="#000" stroke-opacity="0.45" stroke-width="2.8" fill="none"/>
<path d="M2204.3 1392.5V1674.5M2204.3 1687V2396.9" stroke="#000" stroke-opacity="0.3" stroke-width="1.8" fill="none"/>
<path d="M149.7 2396.9v7M225.8 2396.9v7M301.9 2396.9v7M378 2396.9v7M454 2396.9v7M530.1 2396.9v7M606.2 2396.9v7M682.3 2396.9v7M758.4 2396.9v7M834.5 2396.9v7M910.6 2396.9v7M986.6 2396.9v7M1062.7 2396.9v7M1138.8 2396.9v7M1214.9 2396.9v7M1291 2396.9v7M1367.1 2396.9v7M1443.1 2396.9v7M1519.2 2396.9v7M1595.3 2396.9v7M1671.4 2396.9v7M1747.5 2396.9v7M1823.6 2396.9v7M1899.7 2396.9v7M1975.7 2396.9v7M2051.8 2396.9v7M2127.9 2396.9v7M149.7 1392.5h-7M149.7 1536.3h-7M149.7 1727h-7M149.7 1767.4h-7M149.7 1807.8h-7M149.7 1848.3h-7M149.7 1888.8h-7M149.7 1929.2h-7M149.7 1969.7h-7M149.7 2010.1h-7M149.7 2050.6h-7M149.7 2091h-7M149.7 2131.4h-7M149.7 2171.9h-7M149.7 2212.3h-7M149.7 2252.8h-7M149.7 2293.2h-7M149.7 2333.7h-7M149.7 2374.2h-7" stroke="#000" stroke-opacity="0.7" stroke-width="2.2" fill="none"/>
<path d="M149.7 1392.5v-6.5M225.8 1392.5v-6.5M301.9 1392.5v-6.5M378 1392.5v-6.5M454 1392.5v-6.5M530.1 1392.5v-6.5M606.2 1392.5v-6.5M682.3 1392.5v-6.5M758.4 1392.5v-6.5M834.5 1392.5v-6.5M910.6 1392.5v-6.5M986.6 1392.5v-6.5M1062.7 1392.5v-6.5M1138.8 1392.5v-6.5M1214.9 1392.5v-6.5M1291 1392.5v-6.5M1367.1 1392.5v-6.5M1443.1 1392.5v-6.5M1519.2 1392.5v-6.5M1595.3 1392.5v-6.5M1671.4 1392.5v-6.5M1747.5 1392.5v-6.5M1823.6 1392.5v-6.5M1899.7 1392.5v-6.5M1975.7 1392.5v-6.5M2051.8 1392.5v-6.5M2127.9 1392.5v-6.5" stroke="#000" stroke-opacity="0.5" stroke-width="2.2" fill="none"/>
<path d="M133.9 1682L165.5 1667" stroke="#222" stroke-width="2.6"/>
<path d="M133.9 1694.5L165.5 1679.5" stroke="#222" stroke-width="2.6"/>
<path d="M2188.2 1682L2219.8 1667" stroke="#222" stroke-width="2.6"/>
<path d="M2188.2 1694.5L2219.8 1679.5" stroke="#222" stroke-width="2.6"/>
<g font-family="'DejaVu Sans','Liberation Sans',sans-serif" font-size="40.6" fill="#111"><text x="130.5" y="1409.9" text-anchor="end">0</text><text x="130.5" y="1552.3" text-anchor="end">50</text><text x="130.5" y="1702.5" text-anchor="end">100</text><text x="130.5" y="1743" text-anchor="end">150</text><text x="130.5" y="1783.4" text-anchor="end">200</text><text x="130.5" y="1823.8" text-anchor="end">250</text><text x="130.5" y="1864.3" text-anchor="end">300</text><text x="130.5" y="1904.8" text-anchor="end">350</text><text x="130.5" y="1945.2" text-anchor="end">400</text><text x="130.5" y="1985.7" text-anchor="end">450</text><text x="130.5" y="2026.1" text-anchor="end">500</text><text x="130.5" y="2066.6" text-anchor="end">550</text><text x="130.5" y="2107" text-anchor="end">600</text><text x="130.5" y="2147.4" text-anchor="end">650</text><text x="130.5" y="2187.9" text-anchor="end">700</text><text x="130.5" y="2228.3" text-anchor="end">750</text><text x="130.5" y="2268.8" text-anchor="end">800</text><text x="130.5" y="2309.2" text-anchor="end">850</text><text x="130.5" y="2349.7" text-anchor="end">900</text><text x="130.5" y="2390.2" text-anchor="end">950</text><text x="148.9" y="2444.5" text-anchor="middle" font-size="43.6">1993</text><text x="529.3" y="2444.5" text-anchor="middle" font-size="43.6">1998</text><text x="909.8" y="2444.5" text-anchor="middle" font-size="43.6">2003</text><text x="1290.2" y="2444.5" text-anchor="middle" font-size="43.6">2008</text><text x="1670.6" y="2444.5" text-anchor="middle" font-size="43.6">2013</text><text x="2051" y="2444.5" text-anchor="middle" font-size="43.6">2018</text></g>
<text x="554.7" y="1350" font-family="'DejaVu Sans','Liberation Sans',sans-serif" font-size="56.2" fill="#111">Hovmöller diagram for S</text>
<text x="1731" y="1350" text-anchor="end" font-family="'DejaVu Sans','Liberation Sans',sans-serif" font-size="60" fill="#111">(PSU) RMSD (b)</text>
<rect x="2231" y="1449.80" width="49" height="7.55" fill="#e20200"/><rect x="2231" y="1456.85" width="49" height="7.55" fill="#e30600"/><rect x="2231" y="1463.90" width="49" height="7.55" fill="#e50a00"/><rect x="2231" y="1470.95" width="49" height="7.55" fill="#e60e00"/><rect x="2231" y="1477.99" width="49" height="7.55" fill="#e71200"/><rect x="2231" y="1485.04" width="49" height="7.55" fill="#e91600"/><rect x="2231" y="1492.09" width="49" height="7.55" fill="#ea1a00"/><rect x="2231" y="1499.14" width="49" height="7.55" fill="#ec1e00"/><rect x="2231" y="1506.19" width="49" height="7.55" fill="#ed2200"/><rect x="2231" y="1513.24" width="49" height="7.55" fill="#ee2600"/><rect x="2231" y="1520.28" width="49" height="7.55" fill="#f02a00"/><rect x="2231" y="1527.33" width="49" height="7.55" fill="#f12e00"/><rect x="2231" y="1534.38" width="49" height="7.55" fill="#f33200"/><rect x="2231" y="1541.43" width="49" height="7.55" fill="#f43600"/><rect x="2231" y="1548.48" width="49" height="7.55" fill="#f53a00"/><rect x="2231" y="1555.53" width="49" height="7.55" fill="#f73e00"/><rect x="2231" y="1562.58" width="49" height="7.55" fill="#f84200"/><rect x="2231" y="1569.62" width="49" height="7.55" fill="#fa4600"/><rect x="2231" y="1576.67" width="49" height="7.55" fill="#fb4a00"/><rect x="2231" y="1583.72" width="49" height="7.55" fill="#fc4e00"/><rect x="2231" y="1590.77" width="49" height="7.55" fill="#fe5200"/><rect x="2231" y="1597.82" width="49" height="7.55" fill="#ff5600"/><rect x="2231" y="1604.87" width="49" height="7.55" fill="#ff5b00"/><rect x="2231" y="1611.91" width="49" height="7.55" fill="#ff6000"/><rect x="2231" y="1618.96" width="49" height="7.55" fill="#ff6500"/><rect x="2231" y="1626.01" width="49" height="7.55" fill="#ff6a00"/><rect x="2231" y="1633.06" width="49" height="7.55" fill="#ff7000"/><rect x="2231" y="1640.11" width="49" height="7.55" fill="#ff7500"/><rect x="2231" y="1647.16" width="49" height="7.55" fill="#ff7a00"/><rect x="2231" y="1654.20" width="49" height="7.55" fill="#ff7f00"/><rect x="2231" y="1661.25" width="49" height="7.55" fill="#ff8400"/><rect x="2231" y="1668.30" width="49" height="7.55" fill="#ff8900"/><rect x="2231" y="1675.35" width="49" height="7.55" fill="#ff8f00"/><rect x="2231" y="1682.40" width="49" height="7.55" fill="#ff9400"/><rect x="2231" y="1689.45" width="49" height="7.55" fill="#ff9900"/><rect x="2231" y="1696.50" width="49" height="7.55" fill="#ff9e00"/><rect x="2231" y="1703.54" width="49" height="7.55" fill="#ffa300"/><rect x="2231" y="1710.59" width="49" height="7.55" fill="#ffa800"/><rect x="2231" y="1717.64" width="49" height="7.55" fill="#ffae00"/><rect x="2231" y="1724.69" width="49" height="7.55" fill="#ffb300"/><rect x="2231" y="1731.74" width="49" height="7.55" fill="#ffb800"/><rect x="2231" y="1738.79" width="49" height="7.55" fill="#ffbd00"/><rect x="2231" y="1745.83" width="49" height="7.55" fill="#ffc200"/><rect x="2231" y="1752.88" width="49" height="7.55" fill="#ffc700"/><rect x="2231" y="1759.93" width="49" height="7.55" fill="#ffcc00"/><rect x="2231" y="1766.98" width="49" height="7.55" fill="#ffd000"/><rect x="2231" y="1774.03" width="49" height="7.55" fill="#ffd500"/><rect x="2231" y="1781.08" width="49" height="7.55" fill="#ffda00"/><rect x="2231" y="1788.12" width="49" height="7.55" fill="#ffde00"/><rect x="2231" y="1795.17" width="49" height="7.55" fill="#ffe300"/><rect x="2231" y="1802.22" width="49" height="7.55" fill="#ffe800"/><rect x="2231" y="1809.27" width="49" height="7.55" fill="#ffed00"/><rect x="2231" y="1816.32" width="49" height="7.55" fill="#fff100"/><rect x="2231" y="1823.37" width="49" height="7.55" fill="#fff600"/><rect x="2231" y="1830.42" width="49" height="7.55" fill="#fffb00"/><rect x="2231" y="1837.46" width="49" height="7.55" fill="#feff01"/><rect x="2231" y="1844.51" width="49" height="7.55" fill="#efff11"/><rect x="2231" y="1851.56" width="49" height="7.55" fill="#e0ff21"/><rect x="2231" y="1858.61" width="49" height="7.55" fill="#d1ff31"/><rect x="2231" y="1865.66" width="49" height="7.55" fill="#c2ff42"/><rect x="2231" y="1872.71" width="49" height="7.55" fill="#b4ff50"/><rect x="2231" y="1879.75" width="49" height="7.55" fill="#a6ff5e"/><rect x="2231" y="1886.80" width="49" height="7.55" fill="#97ff6d"/><rect x="2231" y="1893.85" width="49" height="7.55" fill="#89ff7b"/><rect x="2231" y="1900.90" width="49" height="7.55" fill="#7dff8b"/><rect x="2231" y="1907.95" width="49" height="7.55" fill="#73ff9c"/><rect x="2231" y="1915.00" width="49" height="7.55" fill="#6affae"/><rect x="2231" y="1922.05" width="49" height="7.55" fill="#60ffbf"/><rect x="2231" y="1929.09" width="49" height="7.55" fill="#56ffd0"/><rect x="2231" y="1936.14" width="49" height="7.55" fill="#4cffe2"/><rect x="2231" y="1943.19" width="49" height="7.55" fill="#43fff3"/><rect x="2231" y="1950.24" width="49" height="7.55" fill="#3afeff"/><rect x="2231" y="1957.29" width="49" height="7.55" fill="#33fbff"/><rect x="2231" y="1964.34" width="49" height="7.55" fill="#2bf9ff"/><rect x="2231" y="1971.38" width="49" height="7.55" fill="#24f6ff"/><rect x="2231" y="1978.43" width="49" height="7.55" fill="#1df3ff"/><rect x="2231" y="1985.48" width="49" height="7.55" fill="#16f1ff"/><rect x="2231" y="1992.53" width="49" height="7.55" fill="#12eeff"/><rect x="2231" y="1999.58" width="49" height="7.55" fill="#10ebff"/><rect x="2231" y="2006.63" width="49" height="7.55" fill="#0ee8ff"/><rect x="2231" y="2013.67" width="49" height="7.55" fill="#0be5ff"/><rect x="2231" y="2020.72" width="49" height="7.55" fill="#09e2ff"/><rect x="2231" y="2027.77" width="49" height="7.55" fill="#07dfff"/><rect x="2231" y="2034.82" width="49" height="7.55" fill="#04dcff"/><rect x="2231" y="2041.87" width="49" height="7.55" fill="#02d9ff"/><rect x="2231" y="2048.92" width="49" height="7.55" fill="#00d6ff"/><rect x="2231" y="2055.97" width="49" height="7.55" fill="#00d2ff"/><rect x="2231" y="2063.01" width="49" height="7.55" fill="#00cdff"/><rect x="2231" y="2070.06" width="49" height="7.55" fill="#00c8ff"/><rect x="2231" y="2077.11" width="49" height="7.55" fill="#00c3ff"/><rect x="2231" y="2084.16" width="49" height="7.55" fill="#00bfff"/><rect x="2231" y="2091.21" width="49" height="7.55" fill="#00baff"/><rect x="2231" y="2098.26" width="49" height="7.55" fill="#00b5ff"/><rect x="2231" y="2105.30" width="49" height="7.55" fill="#00b1ff"/><rect x="2231" y="2112.35" width="49" height="7.55" fill="#00acff"/><rect x="2231" y="2119.40" width="49" height="7.55" fill="#00a7ff"/><rect x="2231" y="2126.45" width="49" height="7.55" fill="#00a3ff"/><rect x="2231" y="2133.50" width="49" height="7.55" fill="#009fff"/><rect x="2231" y="2140.55" width="49" height="7.55" fill="#009aff"/><rect x="2231" y="2147.60" width="49" height="7.55" fill="#0096ff"/><rect x="2231" y="2154.64" width="49" height="7.55" fill="#0092ff"/><rect x="2231" y="2161.69" width="49" height="7.55" fill="#008eff"/><rect x="2231" y="2168.74" width="49" height="7.55" fill="#008aff"/><rect x="2231" y="2175.79" width="49" height="7.55" fill="#0085ff"/><rect x="2231" y="2182.84" width="49" height="7.55" fill="#0081ff"/><rect x="2231" y="2189.89" width="49" height="7.55" fill="#007dff"/><rect x="2231" y="2196.93" width="49" height="7.55" fill="#0079ff"/><rect x="2231" y="2203.98" width="49" height="7.55" fill="#0073ff"/><rect x="2231" y="2211.03" width="49" height="7.55" fill="#006eff"/><rect x="2231" y="2218.08" width="49" height="7.55" fill="#0068ff"/><rect x="2231" y="2225.13" width="49" height="7.55" fill="#0062ff"/><rect x="2231" y="2232.18" width="49" height="7.55" fill="#005dff"/><rect x="2231" y="2239.22" width="49" height="7.55" fill="#0057ff"/><rect x="2231" y="2246.27" width="49" height="7.55" fill="#0052ff"/><rect x="2231" y="2253.32" width="49" height="7.55" fill="#004cff"/><rect x="2231" y="2260.37" width="49" height="7.55" fill="#0046ff"/><rect x="2231" y="2267.42" width="49" height="7.55" fill="#0041ff"/><rect x="2231" y="2274.47" width="49" height="7.55" fill="#003bff"/><rect x="2231" y="2281.52" width="49" height="7.55" fill="#0034fc"/><rect x="2231" y="2288.56" width="49" height="7.55" fill="#002cf9"/><rect x="2231" y="2295.61" width="49" height="7.55" fill="#0025f6"/><rect x="2231" y="2302.66" width="49" height="7.55" fill="#001ef4"/><rect x="2231" y="2309.71" width="49" height="7.55" fill="#0017f1"/><rect x="2231" y="2316.76" width="49" height="7.55" fill="#0012ee"/><rect x="2231" y="2323.81" width="49" height="7.55" fill="#000eeb"/><rect x="2231" y="2330.85" width="49" height="7.55" fill="#000ae8"/><rect x="2231" y="2337.90" width="49" height="7.55" fill="#0006e5"/><rect x="2231" y="2344.95" width="49" height="7.55" fill="#0002e2"/>
<rect x="2231" y="1449.8" width="49" height="902.2" fill="none" stroke="#000" stroke-opacity="0.4" stroke-width="2.2"/>
<path d="M2231 2239.2h7M2280 2239.2h-7M2231 2126.4h7M2280 2126.4h-7M2231 2013.7h7M2280 2013.7h-7M2231 1900.9h7M2280 1900.9h-7M2231 1788.1h7M2280 1788.1h-7M2231 1675.3h7M2280 1675.3h-7M2231 1562.6h7M2280 1562.6h-7" stroke="#444" stroke-width="2"/>
<g font-family="'DejaVu Sans','Liberation Sans',sans-serif" font-size="35" fill="#222"><text x="2286.6" y="2366.6">0.00</text><text x="2286.6" y="2253.8">0.25</text><text x="2286.6" y="2141">0.50</text><text x="2286.6" y="2028.3">0.75</text><text x="2286.6" y="1915.5">1.00</text><text x="2286.6" y="1802.7">1.25</text><text x="2286.6" y="1689.9">1.50</text><text x="2286.6" y="1577.2">1.75</text><text x="2286.6" y="1464.4">2.00</text></g></g>
</svg></body></html>
